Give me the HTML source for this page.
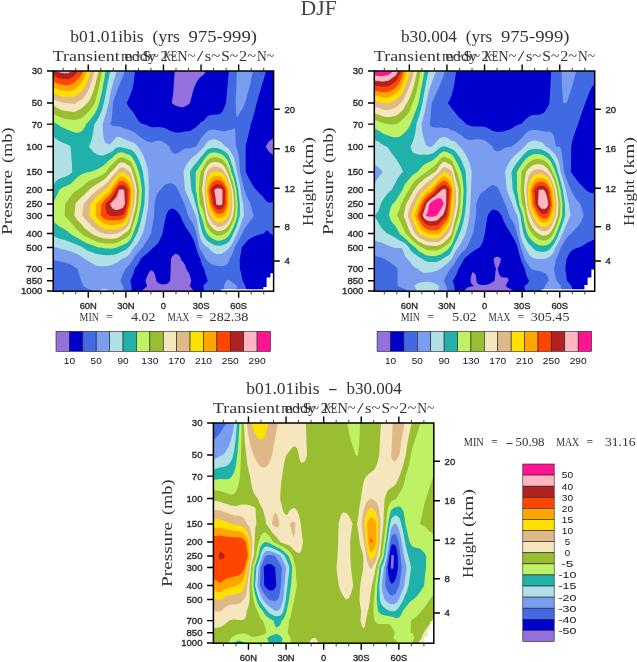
<!DOCTYPE html>
<html lang="en"><head><meta charset="utf-8"><title>DJF Transient eddy KE</title>
<style>html,body{margin:0;padding:0;background:#fff}body{width:637px;height:662px;overflow:hidden}svg{display:block}text{white-space:pre}</style></head><body>
<svg width="637" height="662" viewBox="0 0 637 662">
<rect width="637" height="662" fill="#fff"/>
<text y="14.80" font-size="21" font-family='"Liberation Serif", serif' fill="#444"><tspan x="300.60" textLength="36.20" lengthAdjust="spacingAndGlyphs">DJF</tspan></text>
<g transform="translate(53.2,71.0)">
<rect x="0" y="0" width="220.4" height="220.0" fill="#9370DB"/>
<path d="M1.2 0.0L2.3 0.0L3.5 0.0L4.7 0.0L5.8 0.0L7.0 0.0L8.2 0.0L9.3 0.0L10.5 0.0L11.7 0.0L12.8 0.0L14.0 0.0L15.2 0.0L16.3 0.0L17.5 0.0L18.7 0.0L19.8 0.0L21.0 0.0L22.2 0.0L23.3 0.0L24.5 0.0L25.7 0.0L26.8 0.0L28.0 0.0L29.2 0.0L30.3 0.0L31.5 0.0L32.7 0.0L33.8 0.0L35.0 0.0L36.2 0.0L37.3 0.0L38.5 0.0L39.6 0.0L40.8 0.0L42.0 0.0L43.1 0.0L44.3 0.0L45.5 0.0L46.6 0.0L47.8 0.0L49.0 0.0L50.1 0.0L51.3 0.0L52.5 0.0L53.6 0.0L54.8 0.0L56.0 0.0L57.1 0.0L58.3 0.0L59.5 0.0L60.6 0.0L61.8 0.0L63.0 0.0L64.1 0.0L65.3 0.0L66.5 0.0L67.6 0.0L68.8 0.0L70.0 0.0L71.1 0.0L72.3 0.0L73.5 0.0L74.6 0.0L75.8 0.0L77.0 0.0L78.1 0.0L79.3 0.0L80.5 0.0L81.6 0.0L82.8 0.0L84.0 0.0L85.1 0.0L86.3 0.0L87.5 0.0L88.6 0.0L89.8 0.0L91.0 0.0L92.1 0.0L93.3 0.0L94.5 0.0L95.6 0.0L96.8 0.0L98.0 0.0L99.1 0.0L100.3 0.0L101.5 0.0L102.6 0.0L103.8 0.0L105.0 0.0L106.1 0.0L107.3 0.0L108.5 0.0L109.6 0.0L110.8 0.0L111.9 0.0L113.1 0.0L114.3 0.0L115.4 0.0L116.6 0.0L117.8 0.0L118.9 0.0L120.1 0.0L121.3 0.0L121.4 0.0L121.3 3.1L120.1 21.0L118.9 29.9L118.6 32.0L118.9 32.3L120.1 33.2L121.3 34.0L122.4 34.6L123.6 35.0L124.8 35.4L125.9 35.7L127.1 36.0L128.3 36.2L129.4 36.3L130.6 36.0L131.8 35.4L132.9 34.8L134.1 34.2L135.3 33.4L136.4 32.4L136.7 32.0L137.6 29.0L138.8 24.3L139.9 20.1L141.1 16.6L142.3 13.6L143.4 11.3L144.6 9.3L145.8 7.7L146.9 6.5L148.1 5.6L149.3 4.8L150.4 3.8L151.6 2.1L152.6 0.0L152.8 0.0L153.9 0.0L155.1 0.0L156.3 0.0L157.4 0.0L158.6 0.0L159.8 0.0L160.9 0.0L162.1 0.0L163.3 0.0L164.4 0.0L165.6 0.0L166.8 0.0L167.9 0.0L169.1 0.0L170.3 0.0L171.4 0.0L172.6 0.0L173.8 0.0L174.9 0.0L176.1 0.0L177.3 0.0L178.4 0.0L179.6 0.0L180.8 0.0L181.9 0.0L183.1 0.0L184.2 0.0L185.4 0.0L186.6 0.0L187.7 0.0L188.9 0.0L190.1 0.0L191.2 0.0L192.4 0.0L193.6 0.0L194.7 0.0L195.9 0.0L197.1 0.0L198.2 0.0L199.4 0.0L200.6 0.0L201.7 0.0L202.9 0.0L204.1 0.0L205.2 0.0L206.4 0.0L207.6 0.0L208.7 0.0L209.9 0.0L211.1 0.0L212.2 0.0L213.4 0.0L214.6 0.0L215.7 0.0L216.9 0.0L218.1 0.0L219.2 0.0L220.4 0.0L220.4 32.0L220.4 53.2L220.4 67.6L219.2 68.0L218.1 68.7L216.9 69.4L215.7 70.5L214.6 72.1L213.4 73.9L212.5 75.5L213.4 77.2L214.6 78.9L215.7 80.5L216.9 81.7L218.1 82.6L219.2 83.6L220.4 84.5L220.4 101.0L220.4 119.0L220.4 133.0L220.4 144.5L220.4 162.5L220.4 176.5L220.4 188.0L220.4 197.6L220.4 209.8L220.4 215.1L220.4 219.3L219.2 219.6L218.3 220.0L218.1 220.0L216.9 220.0L215.7 220.0L214.6 220.0L213.4 220.0L212.2 220.0L211.1 220.0L209.9 220.0L208.7 220.0L207.6 220.0L206.4 220.0L205.2 220.0L204.1 220.0L202.9 220.0L201.7 220.0L200.6 220.0L199.4 220.0L198.2 220.0L197.1 220.0L195.9 220.0L194.7 220.0L193.6 220.0L192.4 220.0L191.2 220.0L190.1 220.0L188.9 220.0L187.7 220.0L186.6 220.0L185.4 220.0L184.2 220.0L183.1 220.0L181.9 220.0L180.8 220.0L179.6 220.0L178.4 220.0L177.3 220.0L176.1 220.0L174.9 220.0L173.8 220.0L172.6 220.0L171.4 220.0L170.3 220.0L169.1 220.0L167.9 220.0L166.8 220.0L165.6 220.0L164.4 220.0L163.3 220.0L162.1 220.0L160.9 220.0L159.8 220.0L158.6 220.0L157.4 220.0L156.3 220.0L155.1 220.0L153.9 220.0L152.8 220.0L151.6 220.0L150.4 220.0L149.3 220.0L148.1 220.0L146.9 220.0L145.8 220.0L144.6 220.0L143.4 220.0L142.3 220.0L141.1 220.0L140.1 220.0L139.9 219.6L138.8 217.7L137.6 216.3L136.5 215.1L137.6 211.9L138.1 209.8L137.6 207.6L136.4 203.7L135.3 201.2L134.1 199.4L132.9 197.7L132.9 197.6L131.8 193.8L130.6 191.8L129.4 190.7L128.3 189.2L127.6 188.0L127.1 186.5L125.9 184.6L124.8 183.7L123.6 183.0L122.4 182.8L121.3 183.3L120.1 184.2L118.9 185.6L117.8 187.8L117.7 188.0L117.5 197.6L116.9 209.8L116.6 210.3L115.4 211.6L114.3 212.4L113.1 213.0L111.9 213.2L110.8 213.3L109.6 213.2L108.5 213.2L107.3 212.9L106.1 212.4L105.0 211.7L103.8 210.7L103.1 209.8L102.6 207.2L101.5 203.0L100.3 200.8L99.1 199.7L98.0 199.3L96.8 200.0L95.6 201.7L94.5 204.0L93.3 206.8L92.3 209.8L93.3 213.2L93.9 215.1L93.3 215.7L92.1 216.7L91.0 217.7L89.8 218.8L88.7 220.0L88.6 220.0L87.5 220.0L86.3 220.0L85.1 220.0L84.0 220.0L82.8 220.0L81.6 220.0L80.5 220.0L79.3 220.0L78.1 220.0L77.0 220.0L75.8 220.0L74.6 220.0L73.5 220.0L72.3 220.0L71.1 220.0L70.0 220.0L68.8 220.0L67.6 220.0L66.5 220.0L65.3 220.0L64.1 220.0L63.0 220.0L61.8 220.0L60.6 220.0L59.5 220.0L58.3 220.0L57.1 220.0L56.0 220.0L54.8 220.0L53.6 220.0L52.5 220.0L51.3 220.0L50.1 220.0L49.0 220.0L47.8 220.0L46.6 220.0L45.5 220.0L44.3 220.0L43.1 220.0L42.0 220.0L40.8 220.0L39.6 220.0L38.5 220.0L37.3 220.0L36.2 220.0L35.0 220.0L33.8 220.0L32.7 220.0L31.5 220.0L30.3 220.0L29.2 220.0L28.0 220.0L26.8 220.0L25.7 220.0L24.5 220.0L23.3 220.0L22.2 220.0L21.0 220.0L19.8 220.0L18.7 220.0L17.5 220.0L16.3 220.0L15.2 220.0L14.0 220.0L12.8 220.0L11.7 220.0L10.5 220.0L9.3 220.0L8.2 220.0L7.0 220.0L5.8 220.0L4.7 220.0L3.5 220.0L2.3 220.0L1.2 220.0L0.0 220.0L0.0 215.1L0.0 209.8L0.0 197.6L0.0 188.0L0.0 176.5L0.0 162.5L0.0 144.5L0.0 133.0L0.0 119.0L0.0 101.0L0.0 75.5L0.0 53.2L0.0 32.0L0.0 0.0Z" fill="#0000CD" fill-rule="evenodd"/>
<path d="M1.2 0.0L2.3 0.0L3.5 0.0L4.7 0.0L5.8 0.0L7.0 0.0L8.2 0.0L9.3 0.0L10.5 0.0L11.7 0.0L12.8 0.0L14.0 0.0L15.2 0.0L16.3 0.0L17.5 0.0L18.7 0.0L19.8 0.0L21.0 0.0L22.2 0.0L23.3 0.0L24.5 0.0L25.7 0.0L26.8 0.0L28.0 0.0L29.2 0.0L30.3 0.0L31.5 0.0L32.7 0.0L33.8 0.0L35.0 0.0L36.2 0.0L37.3 0.0L38.5 0.0L39.6 0.0L40.8 0.0L42.0 0.0L43.1 0.0L44.3 0.0L45.5 0.0L46.6 0.0L47.8 0.0L49.0 0.0L50.1 0.0L51.3 0.0L52.5 0.0L53.6 0.0L54.8 0.0L56.0 0.0L57.1 0.0L58.3 0.0L59.5 0.0L60.6 0.0L61.8 0.0L63.0 0.0L64.1 0.0L65.3 0.0L66.5 0.0L67.6 0.0L68.8 0.0L70.0 0.0L71.1 0.0L72.3 0.0L73.5 0.0L74.6 0.0L75.8 0.0L77.0 0.0L78.1 0.0L79.3 0.0L80.5 0.0L81.6 0.0L81.8 0.0L81.6 2.1L80.5 12.0L79.3 17.7L78.1 21.4L77.0 24.2L75.8 27.0L74.6 29.8L73.5 32.0L73.4 32.0L73.5 32.1L74.6 34.1L75.8 36.2L77.0 37.7L78.1 39.0L79.3 40.3L80.5 41.9L81.6 43.7L82.8 45.8L84.0 47.8L85.1 49.6L86.3 51.0L87.5 52.0L88.6 52.5L89.8 52.8L90.6 53.2L91.0 53.2L92.1 53.6L93.3 54.1L94.5 54.6L95.6 55.2L96.8 55.7L98.0 56.1L99.1 56.2L100.3 56.3L101.5 56.3L102.6 56.2L103.8 56.1L105.0 56.1L106.1 56.1L107.3 56.2L108.5 56.3L109.6 56.5L110.8 56.8L111.9 57.2L113.1 57.7L114.3 58.3L115.4 58.9L116.6 59.5L117.8 60.0L118.9 60.5L120.1 60.9L121.3 61.3L122.4 61.5L123.6 61.5L124.8 61.6L125.9 61.6L127.1 61.5L128.3 61.3L129.4 61.1L130.6 60.8L131.8 60.6L132.9 60.3L134.1 60.2L135.3 60.2L136.4 60.0L137.6 59.5L138.8 58.8L139.9 58.1L141.1 57.3L142.3 56.5L143.4 55.6L144.6 54.5L145.8 53.3L146.0 53.2L146.9 51.7L148.1 50.8L149.3 50.4L150.4 49.7L151.6 48.4L152.8 46.8L153.9 45.7L155.1 44.9L156.3 44.3L157.4 43.9L158.6 43.8L159.8 43.7L160.9 43.5L162.1 43.5L163.3 43.6L164.4 43.5L165.6 43.2L166.8 42.7L167.9 42.0L169.1 40.7L170.3 38.6L171.4 35.9L172.6 32.3L172.7 32.0L173.8 20.1L174.9 8.5L175.7 0.0L176.1 0.0L177.3 0.0L178.4 0.0L179.6 0.0L180.8 0.0L181.9 0.0L183.1 0.0L184.2 0.0L185.4 0.0L186.6 0.0L187.7 0.0L188.9 0.0L190.1 0.0L191.2 0.0L192.4 0.0L193.6 0.0L194.7 0.0L195.9 0.0L197.1 0.0L198.2 0.0L199.4 0.0L200.6 0.0L201.7 0.0L202.9 0.0L204.1 0.0L205.2 0.0L206.4 0.0L207.6 0.0L208.7 0.0L209.9 0.0L211.1 0.0L212.2 0.0L212.7 0.0L212.2 2.0L211.1 6.3L209.9 10.4L208.7 14.3L207.6 18.2L206.4 21.9L205.2 25.8L204.1 30.0L203.5 32.0L202.9 34.6L201.7 39.5L200.6 44.0L199.4 48.0L198.2 51.5L197.6 53.2L197.1 55.9L195.9 61.1L194.7 65.9L193.6 70.4L192.4 75.3L192.4 75.5L192.4 80.4L192.6 101.0L193.6 103.1L194.7 105.5L195.9 107.7L197.1 109.9L198.2 112.1L199.4 114.1L200.6 115.8L201.7 117.3L202.9 118.7L203.2 119.0L204.1 119.9L205.2 121.0L206.4 122.2L207.6 123.4L208.7 124.7L209.9 126.0L211.1 127.6L212.2 129.1L213.4 130.3L214.6 130.9L215.7 131.4L216.9 131.6L218.1 131.5L219.2 131.0L220.4 130.3L220.4 133.0L220.4 144.5L220.4 162.5L220.4 165.0L219.2 164.0L218.1 163.1L216.9 162.5L216.8 162.5L215.7 160.4L214.6 159.6L213.4 159.7L212.2 160.6L211.1 161.9L210.5 162.5L209.9 162.7L208.7 163.0L207.6 163.3L206.4 163.6L205.2 164.0L204.1 164.3L202.9 164.7L201.7 165.2L200.6 165.7L199.4 166.3L198.2 166.9L197.1 167.6L195.9 168.3L194.7 169.3L193.6 170.5L192.4 171.8L191.2 173.2L190.1 174.7L188.9 176.1L188.5 176.5L187.7 181.9L186.6 187.9L186.6 188.0L186.6 189.2L186.7 197.6L187.7 201.7L188.9 207.2L189.4 209.8L190.1 210.7L191.2 212.9L192.0 215.1L192.4 216.2L193.6 218.6L194.5 220.0L193.6 220.0L192.4 220.0L191.2 220.0L190.1 220.0L188.9 220.0L187.7 220.0L186.6 220.0L185.4 220.0L184.2 220.0L183.1 220.0L181.9 220.0L180.8 220.0L179.6 220.0L178.4 220.0L177.3 220.0L176.1 220.0L174.9 220.0L173.8 220.0L172.6 220.0L171.4 220.0L170.3 220.0L169.1 220.0L167.9 220.0L166.8 220.0L165.6 220.0L164.4 220.0L163.3 220.0L162.1 220.0L160.9 220.0L159.8 220.0L158.6 220.0L157.4 220.0L156.3 220.0L155.1 220.0L153.9 220.0L152.8 220.0L151.6 220.0L151.1 220.0L150.4 217.4L150.1 215.1L150.4 214.6L151.6 213.3L152.8 212.1L153.9 210.7L154.6 209.8L153.9 208.0L152.8 204.6L151.6 200.5L150.9 197.6L150.4 197.0L149.3 195.0L148.1 191.8L147.2 188.0L146.9 187.5L145.8 185.3L144.6 182.3L143.4 178.6L142.8 176.5L142.3 174.5L141.1 170.9L139.9 168.0L138.8 165.8L137.6 163.8L136.8 162.5L136.4 162.0L135.3 160.4L134.1 158.6L132.9 156.8L131.8 154.9L130.6 152.6L129.4 150.2L128.3 147.7L127.1 144.8L127.0 144.5L125.9 142.9L124.8 141.4L123.6 140.0L122.4 139.1L121.3 138.4L120.1 137.7L118.9 137.5L117.8 137.7L116.6 138.5L115.4 139.6L114.3 141.3L113.1 143.9L112.9 144.5L111.9 148.9L110.8 154.7L109.6 161.0L109.4 162.5L108.5 164.8L107.3 167.6L106.1 170.0L105.0 171.9L103.8 173.2L102.6 174.4L101.5 175.4L100.3 176.4L100.2 176.5L99.1 177.5L98.0 178.7L96.8 179.8L95.6 181.0L94.5 182.0L93.3 182.9L92.1 183.8L91.0 184.7L89.8 185.7L88.6 186.8L87.5 188.0L87.5 188.1L86.3 190.5L85.1 192.6L84.0 194.4L82.8 196.1L81.7 197.6L81.6 197.8L80.5 201.5L79.3 204.9L78.1 207.7L77.1 209.8L78.1 215.1L78.1 215.5L78.7 220.0L78.1 220.0L77.0 220.0L75.8 220.0L74.6 220.0L73.5 220.0L72.3 220.0L71.1 220.0L70.0 220.0L68.8 220.0L67.6 220.0L66.5 220.0L65.3 220.0L64.1 220.0L63.0 220.0L61.8 220.0L60.6 220.0L59.5 220.0L58.3 220.0L57.1 220.0L56.0 220.0L54.8 220.0L53.6 220.0L52.5 220.0L51.3 220.0L50.1 220.0L49.0 220.0L47.8 220.0L46.6 220.0L45.5 220.0L44.3 220.0L43.1 220.0L42.0 220.0L40.8 220.0L39.6 220.0L38.5 220.0L37.3 220.0L36.2 220.0L35.0 220.0L33.8 220.0L32.7 220.0L31.5 220.0L30.3 220.0L29.2 220.0L28.0 220.0L26.8 220.0L25.7 220.0L24.5 220.0L23.3 220.0L22.2 220.0L21.0 220.0L19.8 220.0L18.7 220.0L17.5 220.0L16.3 220.0L15.2 220.0L14.0 220.0L12.8 220.0L11.7 220.0L10.5 220.0L9.3 220.0L8.2 220.0L7.0 220.0L5.8 220.0L4.7 220.0L3.5 220.0L2.3 220.0L1.2 220.0L0.0 220.0L0.0 215.1L0.0 209.8L0.0 197.6L0.0 188.0L0.0 176.5L0.0 162.5L0.0 144.5L0.0 133.0L0.0 119.0L0.0 101.0L0.0 75.5L0.0 53.2L0.0 32.0L0.0 0.0Z" fill="#4169E1" fill-rule="evenodd"/>
<path d="M1.2 0.0L2.3 0.0L3.5 0.0L4.7 0.0L5.8 0.0L7.0 0.0L8.2 0.0L9.3 0.0L10.5 0.0L11.7 0.0L12.8 0.0L14.0 0.0L15.2 0.0L16.3 0.0L17.5 0.0L18.7 0.0L19.8 0.0L21.0 0.0L22.2 0.0L23.3 0.0L24.5 0.0L25.7 0.0L26.8 0.0L28.0 0.0L29.2 0.0L30.3 0.0L31.5 0.0L32.7 0.0L33.8 0.0L35.0 0.0L36.2 0.0L37.3 0.0L38.5 0.0L39.6 0.0L40.8 0.0L42.0 0.0L43.1 0.0L44.3 0.0L45.5 0.0L46.6 0.0L47.8 0.0L49.0 0.0L50.1 0.0L51.3 0.0L52.5 0.0L53.6 0.0L54.8 0.0L56.0 0.0L57.1 0.0L58.3 0.0L59.5 0.0L60.6 0.0L61.8 0.0L63.0 0.0L64.1 0.0L65.3 0.0L66.5 0.0L67.6 0.0L68.8 0.0L70.0 0.0L71.1 0.0L71.7 0.0L71.1 1.6L70.0 4.8L68.8 7.8L67.6 10.5L66.5 13.2L65.3 16.1L64.1 19.1L63.0 22.1L61.8 25.3L60.6 28.8L59.7 32.0L59.5 37.2L58.3 49.6L57.3 53.2L58.3 54.2L59.5 54.8L60.6 55.0L61.8 55.0L63.0 55.1L64.1 55.2L65.3 55.4L66.5 55.6L67.6 55.9L68.8 56.5L70.0 56.9L71.1 57.4L72.3 57.8L73.5 58.2L74.6 58.6L75.8 58.9L77.0 59.3L78.1 59.8L79.3 60.4L80.5 61.0L81.6 61.7L82.8 62.6L84.0 63.4L85.1 64.3L86.3 65.3L87.5 66.3L88.6 67.0L89.8 67.7L91.0 68.4L92.1 69.2L93.3 69.9L94.5 70.5L95.6 70.9L96.8 71.3L98.0 71.5L99.1 71.2L100.3 70.7L101.5 70.2L102.6 70.0L103.8 69.8L105.0 69.7L106.1 69.8L107.3 69.9L108.5 70.2L109.6 70.6L110.8 71.4L111.9 72.2L113.1 73.1L114.3 74.1L115.4 75.1L116.2 75.5L116.6 76.9L117.8 79.5L118.9 81.1L120.1 82.1L121.3 82.8L122.4 82.8L123.6 82.5L124.8 82.1L125.9 81.5L127.1 80.6L128.3 79.6L129.4 78.7L130.6 78.0L131.8 77.4L132.9 77.0L134.1 77.2L135.3 77.5L136.4 77.6L137.6 77.3L138.8 76.8L139.9 76.4L141.1 76.0L142.3 75.6L142.4 75.5L143.4 74.5L144.6 72.8L145.8 70.7L146.9 68.7L148.1 67.1L149.3 65.6L150.4 64.3L151.6 62.9L152.8 61.5L153.9 60.5L155.1 59.7L156.3 59.1L157.4 58.8L158.6 58.7L159.8 58.6L160.9 58.6L162.1 58.7L163.3 59.0L164.4 59.2L165.6 59.4L166.8 59.7L167.9 60.0L169.1 60.2L170.3 60.3L171.4 60.3L172.6 60.1L173.8 59.7L174.9 59.2L176.1 59.0L177.3 58.9L178.4 58.8L179.6 58.2L180.8 57.1L181.9 58.0L182.8 75.5L183.1 76.0L184.2 78.7L185.4 84.0L186.6 95.7L186.9 101.0L187.7 104.8L188.9 109.7L190.1 114.2L191.2 118.9L191.3 119.0L192.4 122.5L193.6 125.3L194.7 127.7L195.9 130.0L197.1 132.6L197.3 133.0L198.2 136.9L199.4 140.9L200.5 144.5L199.4 146.5L198.2 148.3L197.1 149.9L195.9 151.4L194.7 152.9L193.6 154.4L192.4 156.1L191.2 158.1L190.1 160.4L189.1 162.5L188.9 162.9L187.7 165.2L186.6 167.4L185.4 169.4L184.2 171.4L183.1 173.4L181.9 175.4L181.3 176.5L180.8 178.6L179.6 182.1L178.4 184.5L177.3 186.5L176.4 188.0L176.1 189.3L174.9 192.1L173.8 193.4L172.6 194.2L171.4 194.6L170.3 194.9L169.1 195.1L167.9 195.2L166.8 195.2L165.6 195.1L164.4 194.9L163.3 194.7L162.1 194.5L160.9 194.1L159.8 193.7L158.6 193.2L157.4 192.5L156.3 191.8L155.1 190.8L153.9 189.6L152.8 188.1L152.7 188.0L151.6 185.9L150.4 183.8L149.3 181.9L148.1 180.1L146.9 178.4L146.1 176.5L145.8 175.2L144.6 169.2L143.4 163.7L143.1 162.5L142.3 159.2L141.1 155.5L139.9 152.7L138.8 150.7L137.6 149.2L136.4 147.6L135.3 145.6L134.8 144.5L134.1 142.3L132.9 138.3L131.8 134.4L131.3 133.0L130.6 131.4L129.4 129.0L128.3 126.5L127.1 123.7L125.9 121.2L124.8 119.1L124.7 119.0L123.6 116.5L122.4 114.8L121.3 113.8L120.1 112.9L118.9 112.4L117.8 112.3L116.6 112.3L115.4 112.4L114.3 112.7L113.1 113.2L111.9 113.8L110.8 114.7L109.6 115.8L108.5 117.2L107.3 118.9L107.2 119.0L106.1 120.0L105.0 121.4L103.8 123.5L102.6 126.7L101.5 131.9L101.3 133.0L100.9 144.5L100.3 148.4L99.1 155.1L98.0 161.7L97.8 162.5L96.8 164.2L95.6 166.4L94.5 168.4L93.3 170.2L92.1 172.0L91.0 173.8L89.8 175.7L89.3 176.5L88.6 177.3L87.5 178.6L86.3 179.9L85.1 181.3L84.0 182.7L82.8 184.1L81.6 185.6L80.5 187.3L80.0 188.0L79.3 189.1L78.1 191.1L77.0 192.8L75.8 194.3L74.6 195.6L73.5 196.8L72.5 197.6L72.3 198.0L71.1 200.0L70.0 202.4L68.8 205.5L67.6 208.9L67.4 209.8L67.6 210.5L68.8 213.3L69.5 215.1L70.0 216.7L70.9 220.0L70.0 220.0L68.8 220.0L67.6 220.0L66.5 220.0L65.3 220.0L64.1 220.0L63.0 220.0L61.8 220.0L60.6 220.0L59.5 220.0L58.3 220.0L57.1 220.0L56.0 220.0L54.8 220.0L53.6 220.0L52.5 220.0L51.3 220.0L50.1 220.0L49.0 220.0L47.8 220.0L46.6 220.0L45.5 220.0L44.3 220.0L43.1 220.0L42.0 220.0L40.8 220.0L39.6 220.0L39.3 220.0L38.5 219.4L37.3 218.8L36.2 218.3L35.0 217.9L33.8 217.4L32.7 216.8L31.5 216.1L30.3 215.2L30.1 215.1L29.2 212.5L28.0 210.1L27.8 209.8L26.8 206.4L25.7 202.5L24.5 198.9L24.0 197.6L23.3 197.2L22.2 196.5L21.0 195.7L19.8 195.0L18.7 194.3L17.5 193.7L16.3 193.1L15.2 192.6L14.0 192.2L12.8 191.9L11.7 191.6L10.5 191.3L9.3 191.1L8.2 190.8L7.0 190.6L5.8 190.3L4.7 190.1L3.5 189.8L2.3 189.5L1.2 189.2L0.0 188.8L0.0 188.0L0.0 176.5L0.0 162.5L0.0 144.5L0.0 133.0L0.0 119.0L0.0 101.0L0.0 75.5L0.0 53.2L0.0 32.0L0.0 0.0ZM183.1 17.9L183.6 0.0L184.2 0.0L185.4 0.0L186.6 0.0L187.7 0.0L188.9 0.0L190.1 0.0L191.2 0.0L192.4 0.0L193.6 0.0L194.7 0.0L195.9 0.0L197.1 0.0L198.2 0.0L199.4 0.0L199.9 0.0L199.4 2.2L198.2 7.6L197.1 12.8L195.9 17.3L194.7 21.6L193.6 25.8L192.4 29.7L191.8 32.0L191.2 33.4L190.1 36.4L188.9 38.4L187.7 39.9L186.6 42.1L185.4 44.6L184.2 46.0L183.1 44.9L182.4 32.0ZM173.8 209.1L174.9 208.6L176.1 209.2L176.7 209.8L177.3 210.1L178.4 210.8L179.6 211.7L180.8 212.6L181.9 213.4L183.1 214.2L184.0 215.1L183.1 217.7L181.9 219.4L181.4 220.0L180.8 220.0L179.6 220.0L178.4 220.0L177.3 220.0L176.1 220.0L174.9 220.0L173.8 220.0L172.6 220.0L171.4 220.0L171.2 220.0L170.7 215.1L171.4 213.2L172.6 210.7L173.2 209.8Z" fill="#7B9DF0" fill-rule="evenodd"/>
<path d="M1.2 0.0L2.3 0.0L3.5 0.0L4.7 0.0L5.8 0.0L7.0 0.0L8.2 0.0L9.3 0.0L10.5 0.0L11.7 0.0L12.8 0.0L14.0 0.0L15.2 0.0L16.3 0.0L17.5 0.0L18.7 0.0L19.8 0.0L21.0 0.0L22.2 0.0L23.3 0.0L24.5 0.0L25.7 0.0L26.8 0.0L28.0 0.0L29.2 0.0L30.3 0.0L31.5 0.0L32.7 0.0L33.8 0.0L35.0 0.0L36.2 0.0L37.3 0.0L38.5 0.0L39.6 0.0L40.8 0.0L42.0 0.0L43.1 0.0L44.3 0.0L45.5 0.0L46.6 0.0L47.8 0.0L49.0 0.0L50.1 0.0L51.3 0.0L52.5 0.0L53.6 0.0L54.8 0.0L56.0 0.0L57.1 0.0L58.3 0.0L59.5 0.0L60.6 0.0L61.8 0.0L63.0 0.0L63.5 0.0L63.0 1.7L61.8 5.7L60.6 9.7L59.5 13.6L58.3 17.7L57.1 23.0L56.0 29.3L55.4 32.0L54.8 35.0L53.6 39.5L52.5 43.4L51.3 47.2L50.1 50.8L49.3 53.2L50.1 64.2L51.3 70.1L52.5 72.1L53.6 72.7L54.8 73.1L56.0 73.3L57.1 72.8L58.3 71.7L59.5 70.6L60.6 68.9L61.8 67.3L63.0 66.4L64.1 66.2L65.3 66.1L66.5 66.1L67.6 66.4L68.8 66.9L70.0 67.5L71.1 68.0L72.3 68.5L73.5 69.1L74.6 69.5L75.8 70.0L77.0 70.4L78.1 70.8L79.3 71.2L80.5 71.7L81.6 72.5L82.8 73.6L84.0 74.9L84.5 75.5L85.1 76.3L86.3 78.0L87.5 79.8L88.6 81.7L89.8 83.9L91.0 86.5L92.1 89.7L93.3 93.7L94.5 98.4L95.0 101.0L95.6 118.8L95.6 119.0L95.6 119.1L95.1 133.0L94.5 138.0L93.5 144.5L93.3 146.0L92.1 152.4L91.0 157.2L89.8 161.1L89.3 162.5L88.6 163.9L87.5 166.2L86.3 168.6L85.1 170.8L84.0 172.7L82.8 174.1L81.6 175.3L80.5 176.5L80.4 176.5L79.3 178.5L78.1 180.6L77.0 182.3L75.8 183.7L74.6 184.9L73.5 185.7L72.3 186.2L71.1 186.7L70.0 187.2L68.8 187.8L68.4 188.0L67.6 188.6L66.5 189.6L65.3 190.4L64.1 191.2L63.0 191.9L61.8 192.5L60.6 193.1L59.5 193.5L58.3 193.9L57.1 194.2L56.0 194.5L54.8 194.7L53.6 194.9L52.5 195.1L51.3 195.2L50.1 195.3L49.0 195.3L47.8 195.2L46.6 195.1L45.5 195.0L44.3 194.7L43.1 194.4L42.0 193.9L40.8 193.4L39.6 192.7L38.5 192.0L37.3 191.4L36.2 190.7L35.0 190.1L33.8 189.3L32.7 188.4L32.1 188.0L31.5 187.7L30.3 187.0L29.2 186.3L28.0 185.5L26.8 184.7L25.7 184.0L24.5 183.3L23.3 182.7L22.2 182.2L21.0 181.7L19.8 181.3L18.7 180.9L17.5 180.5L16.3 180.1L15.2 179.8L14.0 179.5L12.8 179.1L11.7 178.8L10.5 178.5L9.3 178.2L8.2 177.9L7.0 177.6L5.8 177.2L4.7 176.9L3.5 176.6L3.4 176.5L2.3 176.3L1.2 175.9L0.0 175.6L0.0 162.5L0.0 144.5L0.0 133.0L0.0 119.0L0.0 101.0L0.0 75.5L0.0 53.2L0.0 32.0L0.0 0.0ZM151.6 74.7L152.8 72.7L153.9 71.2L155.1 70.2L156.3 69.4L157.4 68.9L158.6 68.6L159.8 68.4L160.9 68.3L162.1 68.5L163.3 68.9L164.4 69.3L165.6 69.8L166.8 70.5L167.9 71.3L169.1 72.3L170.3 73.4L171.4 74.7L172.2 75.5L172.6 75.7L173.8 76.3L174.9 77.0L176.1 78.4L177.3 80.3L178.4 82.5L179.6 84.6L180.8 87.1L181.9 90.7L183.1 96.3L183.7 101.0L184.2 103.0L185.4 108.1L186.6 113.9L187.5 119.0L187.7 120.8L188.9 128.0L190.0 133.0L190.1 134.8L190.9 144.5L190.1 146.2L188.9 149.1L187.7 152.5L186.6 156.0L185.4 159.0L184.2 161.7L183.8 162.5L183.1 164.1L181.9 166.5L180.8 169.1L179.6 171.5L178.4 173.6L177.3 175.2L176.1 176.5L176.1 176.6L174.9 178.2L173.8 179.3L172.6 180.1L171.4 180.9L170.3 181.8L169.1 182.5L167.9 182.9L166.8 183.1L165.6 183.2L164.4 183.2L163.3 183.1L162.1 182.7L160.9 182.2L159.8 181.5L158.6 180.5L157.4 179.2L156.3 178.0L155.1 176.8L154.8 176.5L153.9 176.1L152.8 175.3L151.6 174.4L150.4 173.1L149.3 171.6L148.1 169.5L146.9 166.2L146.1 162.5L145.8 161.0L144.6 154.2L143.4 147.5L142.6 144.5L142.3 143.6L141.1 141.0L139.9 138.3L138.8 135.5L137.9 133.0L137.6 132.3L136.4 129.4L135.3 126.7L134.1 124.2L132.9 121.6L131.8 119.0L131.8 118.2L130.6 105.1L130.1 101.0L130.6 99.7L131.8 96.7L132.9 94.3L134.1 92.4L135.3 90.9L136.4 89.6L137.6 88.2L138.8 87.0L139.9 85.9L141.1 85.0L142.3 84.2L143.4 83.3L144.6 82.2L145.8 81.0L146.9 79.8L148.1 78.6L149.3 77.4L150.4 76.2L151.1 75.5ZM47.8 218.5L49.0 217.9L50.1 217.9L51.3 218.0L52.5 218.0L53.6 218.4L54.8 219.0L56.0 219.9L56.1 220.0L56.0 220.0L54.8 220.0L53.6 220.0L52.5 220.0L51.3 220.0L50.1 220.0L49.0 220.0L47.8 220.0L47.0 220.0Z" fill="#B0E0E6" fill-rule="evenodd"/>
<path d="M1.2 0.0L2.3 0.0L3.5 0.0L4.7 0.0L5.8 0.0L7.0 0.0L8.2 0.0L9.3 0.0L10.5 0.0L11.7 0.0L12.8 0.0L14.0 0.0L15.2 0.0L16.3 0.0L17.5 0.0L18.7 0.0L19.8 0.0L21.0 0.0L22.2 0.0L23.3 0.0L24.5 0.0L25.7 0.0L26.8 0.0L28.0 0.0L29.2 0.0L30.3 0.0L31.5 0.0L32.7 0.0L33.8 0.0L35.0 0.0L36.2 0.0L37.3 0.0L38.5 0.0L39.6 0.0L40.8 0.0L42.0 0.0L43.1 0.0L44.3 0.0L45.5 0.0L46.6 0.0L47.8 0.0L49.0 0.0L50.1 0.0L51.3 0.0L52.5 0.0L53.6 0.0L54.8 0.0L56.0 0.0L57.1 0.0L57.4 0.0L57.1 0.6L56.0 4.9L54.8 10.6L53.6 16.7L52.5 22.8L51.3 28.9L50.7 32.0L50.1 34.1L49.0 38.1L47.8 41.3L46.6 44.0L45.5 46.4L44.3 48.6L43.1 50.4L42.0 52.1L41.1 53.2L40.8 55.7L39.6 63.0L38.5 68.2L37.3 71.9L36.2 74.7L35.7 75.5L36.2 76.2L37.3 77.8L38.5 79.1L39.6 80.3L40.8 81.4L42.0 82.2L43.1 83.0L44.3 83.5L45.5 84.0L46.6 84.3L47.8 84.5L49.0 84.5L50.1 84.4L51.3 84.1L52.5 83.6L53.6 83.1L54.8 82.5L56.0 82.0L57.1 81.4L58.3 80.7L59.5 80.0L60.6 78.9L61.8 77.6L63.0 76.8L64.1 76.4L65.3 76.2L66.5 76.1L67.6 76.2L68.8 76.4L70.0 76.7L71.1 77.0L72.3 77.3L73.5 77.6L74.6 78.0L75.8 78.3L77.0 78.6L78.1 79.1L79.3 79.8L80.5 80.8L81.6 82.0L82.8 83.7L84.0 85.6L85.1 87.9L86.3 90.6L87.5 93.6L88.6 97.2L89.6 101.0L89.8 101.9L91.0 110.6L91.8 119.0L91.2 133.0L91.0 134.2L89.8 140.4L88.9 144.5L88.6 145.7L87.5 150.7L86.3 155.3L85.1 159.1L84.0 162.2L83.8 162.5L82.8 164.6L81.6 166.7L80.5 168.7L79.3 170.9L78.1 173.0L77.0 174.5L75.8 175.7L75.0 176.5L74.6 177.1L73.5 178.2L72.3 178.9L71.1 179.4L70.0 179.9L68.8 180.5L67.6 181.1L66.5 181.7L65.3 182.3L64.1 182.8L63.0 183.2L61.8 183.5L60.6 183.7L59.5 183.9L58.3 184.0L57.1 184.2L56.0 184.2L54.8 184.2L53.6 184.2L52.5 184.2L51.3 184.1L50.1 183.9L49.0 183.7L47.8 183.5L46.6 183.4L45.5 183.3L44.3 183.1L43.1 182.8L42.0 182.4L40.8 182.0L39.6 181.6L38.5 181.1L37.3 180.7L36.2 180.3L35.0 179.9L33.8 179.3L32.7 178.6L31.5 177.8L30.3 177.0L29.7 176.5L29.2 176.2L28.0 175.7L26.8 175.1L25.7 174.5L24.5 174.0L23.3 173.5L22.2 173.1L21.0 172.6L19.8 172.2L18.7 171.7L17.5 171.3L16.3 170.8L15.2 170.3L14.0 169.9L12.8 169.5L11.7 169.1L10.5 168.7L9.3 168.4L8.2 168.2L7.0 167.9L5.8 167.5L4.7 167.1L3.5 166.6L2.3 166.1L1.2 165.5L0.0 164.9L0.0 162.5L0.0 144.5L0.0 133.0L0.0 119.0L0.0 114.7L1.2 112.5L2.3 110.8L3.5 109.6L4.7 108.7L5.8 107.9L7.0 107.4L8.2 106.9L9.3 106.6L10.5 106.2L11.7 105.8L12.8 105.3L14.0 104.8L15.2 104.2L16.3 103.4L17.5 102.6L18.7 101.4L19.0 101.0L18.7 91.6L17.5 77.6L17.2 75.5L16.3 74.9L15.2 74.1L14.0 73.5L12.8 72.9L11.7 72.4L10.5 71.9L9.3 71.4L8.2 70.9L7.0 70.4L5.8 69.8L4.7 69.1L3.5 68.3L2.3 67.5L1.2 66.6L0.0 65.6L0.0 53.2L0.0 32.0L0.0 0.0ZM137.6 99.2L138.8 97.2L139.9 95.4L141.1 94.0L142.3 92.7L143.4 91.4L144.6 90.0L145.8 88.5L146.9 87.1L148.1 85.6L149.3 84.2L150.4 82.8L151.6 81.3L152.8 79.9L153.9 78.8L155.1 78.1L156.3 77.6L157.4 77.2L158.6 77.0L159.8 76.8L160.9 76.8L162.1 76.9L163.3 77.1L164.4 77.3L165.6 77.6L166.8 78.0L167.9 78.5L169.1 79.0L170.3 79.7L171.4 80.4L172.6 81.3L173.8 82.4L174.9 83.8L176.1 85.9L177.3 88.9L178.4 92.4L179.6 96.1L180.8 100.5L180.8 101.0L181.9 104.2L183.1 108.8L184.2 114.5L185.1 119.0L185.4 122.2L186.6 132.3L186.7 133.0L186.6 142.5L186.6 144.5L185.4 148.7L184.2 152.7L183.1 156.0L181.9 158.7L180.8 161.1L180.0 162.5L179.6 163.6L178.4 166.2L177.3 168.4L176.1 170.2L174.9 171.4L173.8 172.2L172.6 172.8L171.4 173.2L170.3 173.7L169.1 174.2L167.9 174.5L166.8 174.7L165.6 174.8L164.4 174.8L163.3 174.6L162.1 174.2L160.9 173.8L159.8 173.3L158.6 172.6L157.4 171.9L156.3 171.2L155.1 170.4L153.9 169.5L152.8 168.2L151.6 166.6L150.4 164.5L149.5 162.5L149.3 161.7L148.1 157.8L146.9 153.6L145.8 147.5L145.3 144.5L144.6 141.3L143.4 136.9L142.3 133.3L142.2 133.0L141.1 128.2L139.9 124.0L138.8 120.5L138.2 119.0L137.6 111.9L136.7 101.0Z" fill="#20B2AA" fill-rule="evenodd"/>
<path d="M1.2 0.0L2.3 0.0L3.5 0.0L4.7 0.0L5.8 0.0L7.0 0.0L8.2 0.0L9.3 0.0L10.5 0.0L11.7 0.0L12.8 0.0L14.0 0.0L15.2 0.0L16.3 0.0L17.5 0.0L18.7 0.0L19.8 0.0L21.0 0.0L22.2 0.0L23.3 0.0L24.5 0.0L25.7 0.0L26.8 0.0L28.0 0.0L29.2 0.0L30.3 0.0L31.5 0.0L32.7 0.0L33.8 0.0L35.0 0.0L36.2 0.0L37.3 0.0L38.5 0.0L39.6 0.0L40.8 0.0L42.0 0.0L43.1 0.0L44.3 0.0L45.5 0.0L46.6 0.0L47.8 0.0L49.0 0.0L50.1 0.0L51.3 0.0L52.4 0.0L51.3 6.4L50.1 13.1L49.0 19.4L47.8 24.8L46.6 29.6L46.0 32.0L45.5 33.5L44.3 36.7L43.1 39.5L42.0 41.7L40.8 43.5L39.6 45.1L38.5 46.7L37.3 48.2L36.2 49.6L35.0 51.0L33.8 52.2L32.9 53.2L32.7 53.8L31.5 56.2L30.3 58.0L29.2 59.5L28.0 60.5L26.8 61.1L25.7 61.5L24.5 61.7L23.3 61.7L22.2 61.6L21.0 61.3L19.8 61.0L18.7 60.5L17.5 60.0L16.3 59.5L15.2 59.0L14.0 58.5L12.8 58.0L11.7 57.6L10.5 57.1L9.3 56.6L8.2 55.9L7.0 55.2L5.8 54.4L4.7 53.5L4.3 53.2L3.5 52.8L2.3 52.2L1.2 51.6L0.0 51.0L0.0 32.0L0.0 0.0ZM37.3 100.8L38.5 100.4L39.6 100.0L40.8 99.6L42.0 99.2L43.1 98.7L44.3 98.1L45.5 97.6L46.6 97.0L47.8 96.3L49.0 95.6L50.1 94.7L51.3 93.6L52.5 92.6L53.6 91.4L54.8 90.2L56.0 89.2L57.1 88.3L58.3 87.4L59.5 86.4L60.6 85.3L61.8 84.0L63.0 83.1L64.1 82.3L65.3 81.7L66.5 81.4L67.6 81.3L68.8 81.4L70.0 81.6L71.1 81.9L72.3 82.4L73.5 82.9L74.6 83.3L75.8 83.7L77.0 84.3L78.1 85.3L79.3 86.9L80.5 89.0L81.6 91.1L82.8 93.5L84.0 96.3L85.1 99.5L85.6 101.0L86.3 103.8L87.5 109.9L88.6 118.1L88.7 119.0L88.6 120.9L87.8 133.0L87.5 134.7L86.3 141.0L85.7 144.5L85.1 147.0L84.0 151.4L82.8 154.7L81.6 157.7L80.5 160.7L79.9 162.5L79.3 164.0L78.1 166.9L77.0 168.8L75.8 170.0L74.6 171.2L73.5 172.1L72.3 172.7L71.1 173.2L70.0 173.7L68.8 174.3L67.6 174.8L66.5 175.3L65.3 175.8L64.1 176.3L63.4 176.5L63.0 176.7L61.8 177.0L60.6 177.3L59.5 177.4L58.3 177.5L57.1 177.5L56.0 177.5L54.8 177.5L53.6 177.5L52.5 177.4L51.3 177.3L50.1 176.9L49.0 176.7L47.8 176.6L47.0 176.5L46.6 176.5L45.5 176.4L44.3 176.1L43.1 175.7L42.0 175.3L40.8 174.9L39.6 174.3L38.5 173.9L37.3 173.5L36.2 173.1L35.0 172.7L33.8 172.3L32.7 171.8L31.5 171.3L30.3 170.6L29.2 169.9L28.0 169.1L26.8 168.4L25.7 167.7L24.5 167.1L23.3 166.4L22.2 165.8L21.0 165.2L19.8 164.5L18.7 163.7L17.5 163.0L16.7 162.5L16.3 162.1L15.2 161.1L14.0 160.1L12.8 159.3L11.7 158.4L10.5 157.7L9.3 157.1L8.2 156.5L7.0 155.9L5.8 155.1L4.7 154.3L3.5 153.4L2.3 152.5L1.2 151.6L0.0 150.8L0.0 144.5L0.0 133.0L0.0 131.0L1.2 129.2L2.3 127.1L3.5 124.8L4.7 122.4L5.8 119.8L6.2 119.0L7.0 118.3L8.2 117.4L9.3 116.7L10.5 116.1L11.7 115.6L12.8 115.1L14.0 114.6L15.2 114.1L16.3 113.4L17.5 112.7L18.7 111.7L19.8 110.6L21.0 109.4L22.2 108.3L23.3 107.2L24.5 106.1L25.7 105.2L26.8 104.3L28.0 103.6L29.2 102.9L30.3 102.4L31.5 102.0L32.7 101.7L33.8 101.5L35.0 101.3L36.2 101.1L36.9 101.0ZM143.4 99.6L144.6 97.9L145.8 96.1L146.9 94.4L148.1 92.7L149.3 91.0L150.4 89.3L151.6 87.5L152.8 85.7L153.9 84.4L155.1 83.4L156.3 82.6L157.4 82.1L158.6 81.8L159.8 81.6L160.9 81.5L162.1 81.6L163.3 81.8L164.4 82.0L165.6 82.3L166.8 82.7L167.9 83.2L169.1 83.8L170.3 84.6L171.4 85.6L172.6 86.9L173.8 88.4L174.9 90.5L176.1 93.5L177.3 97.5L178.1 101.0L178.4 101.8L179.6 104.8L180.8 108.5L181.9 113.2L183.1 119.0L183.1 119.1L184.2 130.8L184.5 133.0L184.2 139.4L184.1 144.5L183.1 148.2L181.9 151.8L180.8 154.7L179.6 157.4L178.4 159.7L177.3 161.8L176.8 162.5L176.1 163.9L174.9 165.5L173.8 166.6L172.6 167.4L171.4 168.0L170.3 168.6L169.1 169.1L167.9 169.4L166.8 169.5L165.6 169.7L164.4 169.7L163.3 169.5L162.1 169.1L160.9 168.6L159.8 167.9L158.6 167.1L157.4 166.2L156.3 165.3L155.1 164.2L153.9 162.8L153.7 162.5L152.8 160.8L151.6 157.6L150.4 153.1L149.3 149.0L148.1 145.4L147.8 144.5L146.9 142.2L145.8 138.0L144.7 133.0L144.6 132.2L143.4 123.1L142.6 119.0L142.5 101.0Z" fill="#BEF264" fill-rule="evenodd"/>
<path d="M1.2 0.0L2.3 0.0L3.5 0.0L4.7 0.0L5.8 0.0L7.0 0.0L8.2 0.0L9.3 0.0L10.5 0.0L11.7 0.0L12.8 0.0L14.0 0.0L15.2 0.0L16.3 0.0L17.5 0.0L18.7 0.0L19.8 0.0L21.0 0.0L22.2 0.0L23.3 0.0L24.5 0.0L25.7 0.0L26.8 0.0L28.0 0.0L29.2 0.0L30.3 0.0L31.5 0.0L32.7 0.0L33.8 0.0L35.0 0.0L36.2 0.0L37.3 0.0L38.5 0.0L39.6 0.0L40.8 0.0L42.0 0.0L43.1 0.0L44.3 0.0L45.5 0.0L46.6 0.0L47.8 0.0L48.8 0.0L47.8 5.5L46.6 11.5L45.5 16.8L44.3 21.7L43.1 26.5L42.0 30.9L41.6 32.0L40.8 33.4L39.6 35.2L38.5 36.9L37.3 38.4L36.2 39.8L35.0 41.1L33.8 42.3L32.7 43.4L31.5 44.4L30.3 45.4L29.2 46.3L28.0 47.0L26.8 47.5L25.7 47.9L24.5 48.3L23.3 48.6L22.2 48.9L21.0 49.0L19.8 48.9L18.7 48.8L17.5 48.6L16.3 48.4L15.2 48.2L14.0 48.0L12.8 47.9L11.7 47.7L10.5 47.4L9.3 47.1L8.2 46.7L7.0 46.3L5.8 45.8L4.7 45.3L3.5 44.7L2.3 44.1L1.2 43.4L0.0 42.8L0.0 32.0L0.0 0.0ZM53.6 99.7L54.8 97.9L56.0 96.4L57.1 95.1L58.3 94.0L59.5 92.9L60.6 91.7L61.8 90.4L63.0 89.3L64.1 88.2L65.3 87.2L66.5 86.6L67.6 86.4L68.8 86.4L70.0 86.5L71.1 86.9L72.3 87.5L73.5 88.2L74.6 88.7L75.8 89.2L77.0 89.9L78.1 91.4L79.3 94.1L80.5 97.2L81.6 100.2L81.9 101.0L82.8 103.5L84.0 107.9L85.1 113.5L86.1 119.0L85.1 132.7L85.1 133.0L84.0 139.7L82.9 144.5L82.8 144.8L81.6 148.3L80.5 151.9L79.3 156.1L78.1 160.4L77.3 162.5L77.0 163.1L75.8 164.4L74.6 165.4L73.5 166.3L72.3 167.1L71.1 167.8L70.0 168.4L68.8 169.2L67.6 169.9L66.5 170.6L65.3 171.1L64.1 171.6L63.0 172.0L61.8 172.2L60.6 172.4L59.5 172.5L58.3 172.5L57.1 172.5L56.0 172.6L54.8 172.5L53.6 172.5L52.5 172.4L51.3 172.2L50.1 172.0L49.0 171.8L47.8 171.6L46.6 171.4L45.5 171.2L44.3 170.9L43.1 170.4L42.0 169.9L40.8 169.4L39.6 168.8L38.5 168.2L37.3 167.7L36.2 167.2L35.0 166.7L33.8 166.3L32.7 165.8L31.5 165.2L30.3 164.4L29.2 163.5L28.0 162.5L28.0 162.5L26.8 161.3L25.7 160.2L24.5 159.2L23.3 158.0L22.2 156.7L21.0 155.3L19.8 154.0L18.7 152.8L17.5 151.6L16.3 150.3L15.2 148.9L14.0 147.6L12.8 146.2L11.7 144.9L11.3 144.5L11.7 138.2L12.0 133.0L12.8 131.8L14.0 130.1L15.2 128.5L16.3 126.9L17.5 125.3L18.7 123.7L19.8 122.2L21.0 121.0L22.2 120.1L23.3 119.4L24.0 119.0L24.5 118.7L25.7 118.1L26.8 117.3L28.0 116.5L29.2 115.5L30.3 114.4L31.5 113.3L32.7 112.3L33.8 111.4L35.0 110.6L36.2 109.8L37.3 109.2L38.5 108.6L39.6 108.1L40.8 107.7L42.0 107.2L43.1 106.7L44.3 106.2L45.5 105.7L46.6 105.1L47.8 104.6L49.0 103.9L50.1 103.2L51.3 102.3L52.5 101.3L52.8 101.0ZM148.1 99.7L149.3 97.8L150.4 95.8L151.6 93.7L152.8 91.6L153.9 89.9L155.1 88.7L156.3 87.7L157.4 87.0L158.6 86.7L159.8 86.4L160.9 86.3L162.1 86.3L163.3 86.5L164.4 86.7L165.6 87.0L166.8 87.4L167.9 87.9L169.1 88.6L170.3 89.6L171.4 90.9L172.6 92.4L173.8 94.5L174.9 97.3L176.1 101.0L176.1 101.0L177.3 104.3L178.4 107.8L179.6 111.6L180.8 116.3L181.3 119.0L181.9 125.0L182.7 133.0L182.0 144.5L181.9 144.8L180.8 148.4L179.6 151.4L178.4 154.1L177.3 156.4L176.1 158.5L174.9 160.1L173.8 161.2L172.6 162.1L171.8 162.5L171.4 162.8L170.3 163.4L169.1 163.9L167.9 164.2L166.8 164.4L165.6 164.6L164.4 164.6L163.3 164.4L162.1 164.0L160.9 163.4L159.8 162.6L159.6 162.5L158.6 161.7L157.4 160.5L156.3 159.3L155.1 157.7L153.9 155.7L152.8 152.5L151.6 147.2L151.0 144.5L150.4 141.2L149.3 137.9L148.1 135.9L146.9 133.6L146.8 133.0L145.8 121.6L145.5 119.0L145.8 115.3L146.9 103.8L147.3 101.0Z" fill="#99BE32" fill-rule="evenodd"/>
<path d="M1.2 0.0L2.3 0.0L3.5 0.0L4.7 0.0L5.8 0.0L7.0 0.0L8.2 0.0L9.3 0.0L10.5 0.0L11.7 0.0L12.8 0.0L14.0 0.0L15.2 0.0L16.3 0.0L17.5 0.0L18.7 0.0L19.8 0.0L21.0 0.0L22.2 0.0L23.3 0.0L24.5 0.0L25.7 0.0L26.8 0.0L28.0 0.0L29.2 0.0L30.3 0.0L31.5 0.0L32.7 0.0L33.8 0.0L35.0 0.0L36.2 0.0L37.3 0.0L38.5 0.0L39.6 0.0L40.8 0.0L42.0 0.0L43.1 0.0L44.3 0.0L45.4 0.0L44.3 4.7L43.1 9.6L42.0 14.2L40.8 18.2L39.6 21.7L38.5 24.7L37.3 27.3L36.2 29.4L35.0 31.1L34.2 32.0L33.8 32.4L32.7 33.4L31.5 34.5L30.3 35.6L29.2 36.8L28.0 37.6L26.8 38.3L25.7 38.7L24.5 39.2L23.3 40.0L22.2 40.7L21.0 41.0L19.8 40.9L18.7 40.7L17.5 40.5L16.3 40.4L15.2 40.3L14.0 40.1L12.8 40.0L11.7 39.8L10.5 39.6L9.3 39.3L8.2 38.9L7.0 38.4L5.8 37.8L4.7 37.2L3.5 36.6L2.3 36.0L1.2 35.2L0.0 34.5L0.0 32.0L0.0 0.0ZM58.3 100.6L59.5 99.3L60.6 98.1L61.8 96.9L63.0 95.6L64.1 94.1L65.3 92.7L66.5 91.9L67.6 91.6L68.8 91.4L70.0 91.4L71.1 91.8L72.3 92.6L73.5 93.4L74.6 94.1L75.8 94.7L77.0 95.6L78.1 97.6L79.2 101.0L79.3 101.2L80.5 105.2L81.6 109.1L82.8 114.1L83.7 119.0L82.9 133.0L82.8 133.8L81.6 139.2L80.5 143.3L80.1 144.5L79.3 147.9L78.1 152.7L77.0 156.4L75.8 158.5L74.6 160.0L73.5 161.0L72.3 161.8L71.1 162.4L70.9 162.5L70.0 163.2L68.8 164.1L67.6 165.1L66.5 165.8L65.3 166.4L64.1 167.0L63.0 167.3L61.8 167.5L60.6 167.7L59.5 167.7L58.3 167.8L57.1 167.9L56.0 167.9L54.8 167.8L53.6 167.8L52.5 167.7L51.3 167.5L50.1 167.2L49.0 166.9L47.8 166.6L46.6 166.4L45.5 166.0L44.3 165.6L43.1 165.1L42.0 164.5L40.8 163.9L39.6 163.2L38.5 162.6L38.4 162.5L37.3 161.8L36.2 160.9L35.0 160.0L33.8 159.2L32.7 158.3L31.5 157.2L30.3 155.9L29.2 154.3L28.0 152.9L26.8 151.7L25.7 150.6L24.5 149.4L23.3 147.9L22.2 146.0L21.1 144.5L22.2 133.7L22.2 133.0L23.3 131.6L24.5 130.1L25.7 128.8L26.8 127.6L28.0 126.5L29.2 125.5L30.3 124.4L31.5 123.3L32.7 122.1L33.8 120.9L35.0 119.8L35.8 119.0L36.2 118.6L37.3 117.5L38.5 116.5L39.6 115.6L40.8 114.9L42.0 114.1L43.1 113.4L44.3 112.6L45.5 111.9L46.6 111.2L47.8 110.5L49.0 109.8L50.1 108.9L51.3 108.0L52.5 107.0L53.6 105.8L54.8 104.5L56.0 103.1L57.1 101.8L58.0 101.0ZM151.6 99.9L152.8 97.4L153.9 95.5L155.1 94.0L156.3 92.7L157.4 92.0L158.6 91.5L159.8 91.1L160.9 91.0L162.1 91.1L163.3 91.2L164.4 91.4L165.6 91.6L166.8 92.0L167.9 92.5L169.1 93.3L170.3 94.6L171.4 96.1L172.6 98.0L173.8 100.6L173.9 101.0L174.9 103.3L176.1 106.3L177.3 110.0L178.4 113.9L179.6 118.4L179.7 119.0L180.8 130.2L181.0 133.0L180.8 136.4L179.9 144.5L179.6 145.5L178.4 148.5L177.3 151.1L176.1 153.5L174.9 155.2L173.8 156.5L172.6 157.5L171.4 158.3L170.3 158.9L169.1 159.4L167.9 159.7L166.8 159.9L165.6 160.0L164.4 160.0L163.3 159.8L162.1 159.2L160.9 158.5L159.8 157.6L158.6 156.3L157.4 154.9L156.3 153.2L155.1 151.2L153.9 148.6L152.8 144.5L152.8 144.1L151.6 136.3L151.0 133.0L150.4 128.4L149.3 121.8L148.8 119.0L149.3 115.5L150.4 106.2L151.1 101.0Z" fill="#F5E6BE" fill-rule="evenodd"/>
<path d="M1.2 0.0L2.3 0.0L3.5 0.0L4.7 0.0L5.8 0.0L7.0 0.0L8.2 0.0L9.3 0.0L10.5 0.0L11.7 0.0L12.8 0.0L14.0 0.0L15.2 0.0L16.3 0.0L17.5 0.0L18.7 0.0L19.8 0.0L21.0 0.0L22.2 0.0L23.3 0.0L24.5 0.0L25.7 0.0L26.8 0.0L28.0 0.0L29.2 0.0L30.3 0.0L31.5 0.0L32.7 0.0L33.8 0.0L35.0 0.0L36.2 0.0L37.3 0.0L38.5 0.0L39.6 0.0L40.8 0.0L41.4 0.0L40.8 2.1L39.6 6.4L38.5 10.2L37.3 13.8L36.2 16.9L35.0 19.5L33.8 21.6L32.7 23.4L31.5 24.9L30.3 26.4L29.2 27.7L28.0 28.7L26.8 29.4L25.7 30.0L24.5 30.5L23.3 31.4L22.6 32.0L22.2 32.4L21.0 32.9L19.8 32.8L18.7 32.6L17.5 32.4L16.3 32.3L15.2 32.3L14.0 32.2L12.8 32.1L12.2 32.0L11.7 32.0L10.5 31.9L9.3 31.6L8.2 31.2L7.0 30.9L5.8 30.4L4.7 30.0L3.5 29.5L2.3 29.0L1.2 28.5L0.0 28.0L0.0 0.0ZM64.1 100.0L65.3 98.2L66.5 97.1L67.6 96.7L68.8 96.4L70.0 96.3L71.1 96.7L72.3 97.7L73.5 98.7L74.6 99.4L75.8 100.2L76.6 101.0L77.0 101.3L78.1 104.0L79.3 108.3L80.5 113.0L81.6 118.1L81.8 119.0L81.6 122.6L81.1 133.0L80.5 135.6L79.3 140.2L78.3 144.5L78.1 145.0L77.0 149.5L75.8 152.7L74.6 154.9L73.5 156.4L72.3 157.6L71.1 158.5L70.0 159.2L68.8 159.9L67.6 160.6L66.5 161.3L65.3 161.8L64.1 162.3L63.4 162.5L63.0 162.6L61.8 162.8L60.6 162.9L59.5 163.0L58.3 163.1L57.1 163.2L56.0 163.2L54.8 163.2L53.6 163.0L52.5 162.9L51.3 162.7L50.7 162.5L50.1 162.3L49.0 162.0L47.8 161.6L46.6 161.1L45.5 160.6L44.3 159.9L43.1 159.0L42.0 158.1L40.8 157.1L39.6 156.0L38.5 154.9L37.3 153.8L36.2 152.6L35.0 151.5L33.8 150.3L32.7 149.1L31.5 147.8L30.3 146.2L29.2 144.7L29.0 144.5L29.2 143.1L30.3 133.7L30.4 133.0L31.5 131.8L32.7 130.4L33.8 129.0L35.0 127.7L36.2 126.4L37.3 125.2L38.5 124.0L39.6 122.9L40.8 121.9L42.0 121.0L43.1 120.0L44.3 119.1L44.4 119.0L45.5 118.2L46.6 117.3L47.8 116.5L49.0 115.6L50.1 114.7L51.3 113.7L52.5 112.6L53.6 111.6L54.8 110.4L56.0 109.1L57.1 107.6L58.3 106.0L59.5 104.7L60.6 103.6L61.8 102.6L63.0 101.6L63.5 101.0ZM155.1 99.3L156.3 97.8L157.4 96.9L158.6 96.3L159.8 95.9L160.9 95.8L162.1 95.8L163.3 95.9L164.4 96.1L165.6 96.3L166.8 96.7L167.9 97.2L169.1 98.1L170.3 99.5L171.2 101.0L171.4 101.2L172.6 103.1L173.8 105.4L174.9 108.3L176.1 111.6L177.3 115.6L178.2 119.0L178.4 122.1L179.4 133.0L178.4 140.5L177.8 144.5L177.3 145.8L176.1 148.4L174.9 150.4L173.8 151.9L172.6 153.0L171.4 153.9L170.3 154.6L169.1 155.2L167.9 155.5L166.8 155.6L165.6 155.7L164.4 155.7L163.3 155.4L162.1 154.6L160.9 153.7L159.8 152.5L158.6 151.0L157.4 149.2L156.3 147.2L155.1 144.7L155.0 144.5L153.9 140.8L152.8 134.2L152.6 133.0L151.6 122.4L151.2 119.0L151.6 115.1L152.8 105.5L153.9 101.1L154.0 101.0Z" fill="#DEB887" fill-rule="evenodd"/>
<path d="M1.2 0.0L2.3 0.0L3.5 0.0L4.7 0.0L5.8 0.0L7.0 0.0L8.2 0.0L9.3 0.0L10.5 0.0L11.7 0.0L12.8 0.0L14.0 0.0L15.2 0.0L16.3 0.0L17.5 0.0L18.7 0.0L19.8 0.0L21.0 0.0L22.2 0.0L23.3 0.0L24.5 0.0L25.7 0.0L26.8 0.0L28.0 0.0L29.2 0.0L30.3 0.0L31.5 0.0L32.7 0.0L33.8 0.0L35.0 0.0L36.2 0.0L37.3 0.0L37.4 0.0L37.3 0.3L36.2 4.3L35.0 7.8L33.8 10.8L32.7 13.3L31.5 15.5L30.3 17.4L29.2 19.2L28.0 20.5L26.8 21.5L25.7 22.3L24.5 23.1L23.3 24.1L22.2 25.2L21.0 25.8L19.8 26.0L18.7 26.0L17.5 26.0L16.3 26.1L15.2 26.2L14.0 26.2L12.8 26.1L11.7 26.0L10.5 25.9L9.3 25.7L8.2 25.4L7.0 25.0L5.8 24.6L4.7 24.2L3.5 23.7L2.3 23.2L1.2 22.7L0.0 22.1L0.0 0.0ZM159.8 100.7L160.9 100.5L162.1 100.5L163.3 100.6L164.4 100.7L165.6 101.0L165.6 101.0L166.8 101.3L167.9 101.8L169.1 102.6L170.3 103.9L171.4 105.5L172.6 107.5L173.8 110.2L174.9 113.3L176.1 116.9L176.7 119.0L177.3 128.8L177.6 133.0L177.3 135.1L176.1 141.9L175.5 144.5L174.9 145.5L173.8 147.2L172.6 148.5L171.4 149.5L170.3 150.3L169.1 151.0L167.9 151.3L166.8 151.4L165.6 151.4L164.4 151.4L163.3 151.0L162.1 150.0L160.9 148.8L159.8 147.4L158.6 145.6L157.9 144.5L157.4 143.5L156.3 141.0L155.1 137.5L154.1 133.0L153.9 131.9L152.8 121.3L152.6 119.0L152.8 117.1L153.9 109.9L155.1 106.1L156.3 103.4L157.4 101.9L158.6 101.2L159.0 101.0ZM52.5 118.3L53.6 117.3L54.8 116.4L56.0 115.1L57.1 113.3L58.3 111.4L59.5 109.7L60.6 108.3L61.8 107.1L63.0 105.9L64.1 104.5L65.3 103.0L66.5 102.1L67.6 101.6L68.8 101.3L70.0 101.2L71.1 101.6L72.3 102.6L73.5 103.6L74.6 104.5L75.8 105.6L77.0 107.3L78.1 110.6L79.3 115.4L80.1 119.0L79.3 132.9L79.3 133.0L78.1 137.9L77.0 142.6L76.5 144.5L75.8 146.8L74.6 149.8L73.5 151.8L72.3 153.4L71.1 154.7L70.0 155.4L68.8 156.0L67.6 156.6L66.5 157.1L65.3 157.6L64.1 158.0L63.0 158.2L61.8 158.4L60.6 158.5L59.5 158.5L58.3 158.6L57.1 158.5L56.0 158.5L54.8 158.4L53.6 158.3L52.5 158.2L51.3 157.8L50.1 157.2L49.0 156.6L47.8 156.0L46.6 155.4L45.5 154.6L44.3 153.6L43.1 152.4L42.0 151.1L40.8 149.8L39.6 148.5L38.5 147.2L37.3 145.8L36.2 144.5L37.1 133.0L37.3 132.8L38.5 131.4L39.6 130.0L40.8 128.7L42.0 127.5L43.1 126.3L44.3 125.3L45.5 124.2L46.6 123.2L47.8 122.3L49.0 121.3L50.1 120.3L51.3 119.3L51.6 119.0Z" fill="#FFE100" fill-rule="evenodd"/>
<path d="M1.2 0.0L2.3 0.0L3.5 0.0L4.7 0.0L5.8 0.0L7.0 0.0L8.2 0.0L9.3 0.0L10.5 0.0L11.7 0.0L12.8 0.0L14.0 0.0L15.2 0.0L16.3 0.0L17.5 0.0L18.7 0.0L19.8 0.0L21.0 0.0L22.2 0.0L23.3 0.0L24.5 0.0L25.7 0.0L26.8 0.0L28.0 0.0L29.2 0.0L30.3 0.0L31.5 0.0L32.7 0.0L33.8 0.0L32.7 3.2L31.5 6.0L30.3 8.5L29.2 10.6L28.0 12.3L26.8 13.6L25.7 14.7L24.5 15.7L23.3 16.9L22.2 18.0L21.0 18.8L19.8 19.2L18.7 19.5L17.5 19.7L16.3 19.9L15.2 20.1L14.0 20.2L12.8 20.1L11.7 20.1L10.5 19.9L9.3 19.8L8.2 19.5L7.0 19.2L5.8 18.8L4.7 18.3L3.5 17.9L2.3 17.4L1.2 16.9L0.0 16.3L0.0 0.0ZM58.3 116.7L59.5 114.7L60.6 113.1L61.8 111.6L63.0 110.3L64.1 108.7L65.3 107.0L66.5 106.1L67.6 105.8L68.8 105.6L70.0 105.5L71.1 106.0L72.3 107.0L73.5 108.2L74.6 109.4L75.8 111.0L77.0 113.3L78.1 117.2L78.6 119.0L78.1 125.6L77.6 133.0L77.0 135.5L75.8 140.3L74.7 144.5L74.6 144.7L73.5 147.3L72.3 149.3L71.1 150.8L70.0 151.6L68.8 152.1L67.6 152.5L66.5 152.9L65.3 153.3L64.1 153.6L63.0 153.9L61.8 153.9L60.6 154.0L59.5 154.1L58.3 154.0L57.1 153.9L56.0 153.8L54.8 153.7L53.6 153.6L52.5 153.4L51.3 153.0L50.1 152.2L49.0 151.3L47.8 150.5L46.6 149.6L45.5 148.6L44.3 147.3L43.1 145.7L42.3 144.5L42.8 133.0L43.1 132.7L44.3 131.4L45.5 130.2L46.6 129.0L47.8 127.9L49.0 126.7L50.1 125.5L51.3 124.3L52.5 123.2L53.6 122.3L54.8 121.5L56.0 120.6L57.1 119.1L57.2 119.0ZM153.9 118.8L155.1 113.6L156.3 110.1L157.4 107.9L158.6 106.5L159.8 105.6L160.9 105.2L162.1 105.0L163.3 104.9L164.4 104.9L165.6 105.1L166.8 105.4L167.9 105.8L169.1 106.6L170.3 108.0L171.4 109.8L172.6 112.0L173.8 114.9L174.9 118.3L175.1 119.0L175.6 133.0L174.9 136.5L173.8 141.0L172.6 143.7L172.1 144.5L171.4 145.1L170.3 146.0L169.1 146.8L167.9 147.1L166.8 147.1L165.6 147.1L164.4 147.1L163.3 146.6L162.1 145.4L161.3 144.5L160.9 144.0L159.8 142.4L158.6 140.4L157.4 138.0L156.3 134.8L155.8 133.0L155.1 128.1L153.9 119.4L153.9 119.0Z" fill="#FFA500" fill-rule="evenodd"/>
<path d="M1.2 0.0L2.3 0.0L3.5 0.0L4.7 0.0L5.8 0.0L7.0 0.0L8.2 0.0L9.3 0.0L10.5 0.0L11.7 0.0L12.8 0.0L14.0 0.0L15.2 0.0L16.3 0.0L17.5 0.0L18.7 0.0L19.8 0.0L21.0 0.0L22.2 0.0L23.3 0.0L24.5 0.0L25.7 0.0L26.8 0.0L28.0 0.0L29.2 0.0L30.1 0.0L29.2 2.1L28.0 4.1L26.8 5.7L25.7 7.1L24.5 8.3L23.3 9.6L22.2 10.8L21.0 11.8L19.8 12.5L18.7 13.0L17.5 13.4L16.3 13.8L15.2 14.1L14.0 14.2L12.8 14.2L11.7 14.1L10.5 14.0L9.3 13.8L8.2 13.6L7.0 13.3L5.8 13.0L4.7 12.5L3.5 12.0L2.3 11.6L1.2 11.1L0.0 10.5L0.0 0.0ZM60.6 117.8L61.8 116.2L63.0 114.6L64.1 112.8L65.3 111.1L66.5 110.2L67.6 110.0L68.8 109.9L70.0 109.9L71.1 110.4L72.3 111.5L73.5 112.8L74.6 114.3L75.8 116.4L76.9 119.0L75.9 133.0L75.8 133.4L74.6 138.1L73.5 141.9L72.6 144.5L72.3 145.1L71.1 146.9L70.0 147.8L68.8 148.2L67.6 148.5L66.5 148.7L65.3 149.0L64.1 149.3L63.0 149.5L61.8 149.5L60.6 149.6L59.5 149.6L58.3 149.5L57.1 149.3L56.0 149.1L54.8 149.0L53.6 148.9L52.5 148.7L51.3 148.1L50.1 147.1L49.0 145.9L47.8 144.9L47.3 144.5L47.8 138.8L48.2 133.0L49.0 132.1L50.1 130.7L51.3 129.3L52.5 128.0L53.6 127.0L54.8 126.0L56.0 125.0L57.1 123.6L58.3 121.8L59.5 119.7L59.9 119.0ZM156.3 116.7L157.4 113.8L158.6 111.9L159.8 110.6L160.9 109.8L162.1 109.4L163.3 109.1L164.4 109.1L165.6 109.2L166.8 109.4L167.9 109.8L169.1 110.6L170.3 112.2L171.4 114.1L172.6 116.5L173.5 119.0L173.7 133.0L172.6 136.9L171.4 139.4L170.3 141.2L169.1 142.4L167.9 142.9L166.8 142.8L165.6 142.8L164.4 142.8L163.3 142.2L162.1 140.8L160.9 139.2L159.8 137.4L158.6 135.2L157.7 133.0L157.4 131.6L156.3 123.7L155.6 119.0Z" fill="#FF4500" fill-rule="evenodd"/>
<path d="M1.2 0.0L2.3 0.0L3.5 0.0L4.7 0.0L5.8 0.0L7.0 0.0L8.2 0.0L9.3 0.0L10.5 0.0L11.7 0.0L12.8 0.0L14.0 0.0L15.2 0.0L16.3 0.0L17.5 0.0L18.7 0.0L19.8 0.0L21.0 0.0L22.2 0.0L23.3 0.0L24.5 0.0L25.2 0.0L24.5 0.9L23.3 2.3L22.2 3.6L21.0 4.8L19.8 5.7L18.7 6.5L17.5 7.1L16.3 7.6L15.2 8.1L14.0 8.2L12.8 8.2L11.7 8.1L10.5 8.0L9.3 7.9L8.2 7.7L7.0 7.5L5.8 7.2L4.7 6.7L3.5 6.2L2.3 5.7L1.2 5.2L0.0 4.7L0.0 0.0ZM63.0 119.0L64.1 117.0L65.3 115.2L66.5 114.3L67.6 114.2L68.8 114.2L70.0 114.2L71.1 114.8L72.3 116.0L73.5 117.4L74.5 119.0L74.1 133.0L73.5 135.2L72.3 138.5L71.1 141.8L70.0 143.7L68.8 144.1L67.6 144.4L67.3 144.5L66.5 144.6L65.3 144.8L64.1 145.0L63.0 145.1L61.8 145.1L60.6 145.1L59.5 145.1L58.3 145.0L57.1 144.7L56.2 144.5L56.0 144.3L54.8 143.6L53.6 142.4L52.5 136.4L52.3 133.0L52.5 132.8L53.6 131.6L54.8 130.5L56.0 129.5L57.1 128.2L58.3 126.6L59.5 125.0L60.6 123.3L61.8 121.3L62.9 119.0ZM158.6 117.3L159.8 115.5L160.9 114.4L162.1 113.8L163.3 113.3L164.4 113.2L165.6 113.3L166.8 113.5L167.9 113.8L169.1 114.6L170.3 116.3L171.4 118.4L171.7 119.0L171.6 133.0L171.4 133.5L170.3 136.1L169.1 137.9L167.9 138.5L166.8 138.5L165.6 138.5L164.4 138.4L163.3 137.8L162.1 136.3L160.9 134.4L160.1 133.0L159.8 131.1L158.6 124.0L157.8 119.0Z" fill="#B22222" fill-rule="evenodd"/>
<path d="M3.5 0.0L4.7 0.0L5.8 0.0L7.0 0.0L8.2 0.0L9.3 0.0L10.5 0.0L11.7 0.0L12.8 0.0L14.0 0.0L15.2 0.0L16.3 0.0L17.5 0.0L18.7 0.0L18.7 0.0L18.7 0.0L17.5 0.8L16.3 1.5L15.2 2.0L14.0 2.2L12.8 2.2L11.7 2.2L10.5 2.1L9.3 2.0L8.2 1.8L7.0 1.6L5.8 1.3L4.7 0.9L3.5 0.4L2.5 0.0ZM66.5 118.4L67.6 118.4L68.8 118.4L70.0 118.5L70.9 119.0L71.1 120.9L71.7 133.0L71.1 134.3L70.0 136.3L68.8 137.2L67.6 137.8L66.5 138.2L65.3 138.6L64.1 138.9L63.0 139.0L61.8 138.8L60.6 138.2L59.5 137.4L58.3 136.0L57.1 133.6L56.9 133.0L57.1 132.8L58.3 131.5L59.5 130.2L60.6 129.0L61.8 127.5L63.0 126.2L64.1 124.0L65.3 119.8L65.6 119.0ZM162.1 118.2L163.3 117.6L164.4 117.3L165.6 117.4L166.8 117.5L167.9 117.8L169.1 118.7L169.3 119.0L169.2 133.0L169.1 133.3L167.9 134.2L166.8 134.2L165.6 134.1L164.4 134.1L163.3 133.4L163.0 133.0L162.1 124.5L161.0 119.0Z" fill="#FFB6C1" fill-rule="evenodd"/>
<path d="M221 202.2H217.2V206.6H213.4V216H210.2V218.2H168V221H221Z" fill="#fff"/>
<rect x="0" y="0" width="220.4" height="220.2" fill="none" stroke="#000" stroke-width="1.5"/>
<path d="M-6.3 0.00H0M-6.3 32.05H0M-6.3 53.16H0M-6.3 75.54H0M-6.3 100.98H0M-6.3 119.02H0M-6.3 133.02H0M-6.3 144.46H0M-6.3 162.51H0M-6.3 176.51H0M-6.3 197.62H0M-6.3 209.80H0M-6.3 220.00H0M220.4 38.30h6.2M220.4 77.80h6.2M220.4 117.20h6.2M220.4 155.80h6.2M220.4 190.00h6.2M35.05 220.2v6.5M35.05 0v-6.5M72.65 220.2v6.5M72.65 0v-6.5M110.25 220.2v6.5M110.25 0v-6.5M147.85 220.2v6.5M147.85 0v-6.5M185.45 220.2v6.5M185.45 0v-6.5" stroke="#000" stroke-width="1.4" fill="none"/>
<path d="M9.99 220.2v3.2M9.99 0v-3.2M22.52 220.2v3.2M22.52 0v-3.2M47.58 220.2v3.2M47.58 0v-3.2M60.12 220.2v3.2M60.12 0v-3.2M85.18 220.2v3.2M85.18 0v-3.2M97.72 220.2v3.2M97.72 0v-3.2M122.78 220.2v3.2M122.78 0v-3.2M135.32 220.2v3.2M135.32 0v-3.2M160.38 220.2v3.2M160.38 0v-3.2M172.92 220.2v3.2M172.92 0v-3.2M197.98 220.2v3.2M197.98 0v-3.2M210.51 220.2v3.2M210.51 0v-3.2" stroke="#333" stroke-width="0.95" fill="none"/>
<text x="-10.90" y="3.40" font-size="9.6" text-anchor="end" font-family='"Liberation Sans", sans-serif' fill="#333" stroke="#222" stroke-width="0.35" xml:space="preserve">30</text>
<text x="-10.90" y="35.45" font-size="9.6" text-anchor="end" font-family='"Liberation Sans", sans-serif' fill="#333" stroke="#222" stroke-width="0.35" xml:space="preserve">50</text>
<text x="-10.90" y="56.56" font-size="9.6" text-anchor="end" font-family='"Liberation Sans", sans-serif' fill="#333" stroke="#222" stroke-width="0.35" xml:space="preserve">70</text>
<text x="-10.90" y="78.94" font-size="9.6" text-anchor="end" font-family='"Liberation Sans", sans-serif' fill="#333" stroke="#222" stroke-width="0.35" xml:space="preserve">100</text>
<text x="-10.90" y="104.38" font-size="9.6" text-anchor="end" font-family='"Liberation Sans", sans-serif' fill="#333" stroke="#222" stroke-width="0.35" xml:space="preserve">150</text>
<text x="-10.90" y="122.42" font-size="9.6" text-anchor="end" font-family='"Liberation Sans", sans-serif' fill="#333" stroke="#222" stroke-width="0.35" xml:space="preserve">200</text>
<text x="-10.90" y="136.42" font-size="9.6" text-anchor="end" font-family='"Liberation Sans", sans-serif' fill="#333" stroke="#222" stroke-width="0.35" xml:space="preserve">250</text>
<text x="-10.90" y="147.86" font-size="9.6" text-anchor="end" font-family='"Liberation Sans", sans-serif' fill="#333" stroke="#222" stroke-width="0.35" xml:space="preserve">300</text>
<text x="-10.90" y="165.91" font-size="9.6" text-anchor="end" font-family='"Liberation Sans", sans-serif' fill="#333" stroke="#222" stroke-width="0.35" xml:space="preserve">400</text>
<text x="-10.90" y="179.91" font-size="9.6" text-anchor="end" font-family='"Liberation Sans", sans-serif' fill="#333" stroke="#222" stroke-width="0.35" xml:space="preserve">500</text>
<text x="-10.90" y="201.02" font-size="9.6" text-anchor="end" font-family='"Liberation Sans", sans-serif' fill="#333" stroke="#222" stroke-width="0.35" xml:space="preserve">700</text>
<text x="-10.90" y="213.20" font-size="9.6" text-anchor="end" font-family='"Liberation Sans", sans-serif' fill="#333" stroke="#222" stroke-width="0.35" xml:space="preserve">850</text>
<text x="-10.90" y="223.40" font-size="9.6" text-anchor="end" font-family='"Liberation Sans", sans-serif' fill="#333" stroke="#222" stroke-width="0.35" xml:space="preserve">1000</text>
<text x="231.20" y="41.70" font-size="9.6" text-anchor="start" font-family='"Liberation Sans", sans-serif' fill="#333" stroke="#222" stroke-width="0.35" xml:space="preserve">20</text>
<text x="231.20" y="81.20" font-size="9.6" text-anchor="start" font-family='"Liberation Sans", sans-serif' fill="#333" stroke="#222" stroke-width="0.35" xml:space="preserve">16</text>
<text x="231.20" y="120.60" font-size="9.6" text-anchor="start" font-family='"Liberation Sans", sans-serif' fill="#333" stroke="#222" stroke-width="0.35" xml:space="preserve">12</text>
<text x="231.20" y="159.20" font-size="9.6" text-anchor="start" font-family='"Liberation Sans", sans-serif' fill="#333" stroke="#222" stroke-width="0.35" xml:space="preserve">8</text>
<text x="231.20" y="193.40" font-size="9.6" text-anchor="start" font-family='"Liberation Sans", sans-serif' fill="#333" stroke="#222" stroke-width="0.35" xml:space="preserve">4</text>
<text x="35.05" y="238.30" font-size="9.4" text-anchor="middle" font-family='"Liberation Sans", sans-serif' fill="#333" stroke="#222" stroke-width="0.35" xml:space="preserve">60N</text>
<text x="72.65" y="238.30" font-size="9.4" text-anchor="middle" font-family='"Liberation Sans", sans-serif' fill="#333" stroke="#222" stroke-width="0.35" xml:space="preserve">30N</text>
<text x="110.25" y="238.30" font-size="9.4" text-anchor="middle" font-family='"Liberation Sans", sans-serif' fill="#333" stroke="#222" stroke-width="0.35" xml:space="preserve">0</text>
<text x="147.85" y="238.30" font-size="9.4" text-anchor="middle" font-family='"Liberation Sans", sans-serif' fill="#333" stroke="#222" stroke-width="0.35" xml:space="preserve">30S</text>
<text x="185.45" y="238.30" font-size="9.4" text-anchor="middle" font-family='"Liberation Sans", sans-serif' fill="#333" stroke="#222" stroke-width="0.35" xml:space="preserve">60S</text>
<text y="0.00" font-size="15" font-family='"Liberation Serif", serif' fill="#333" transform="translate(-41.4 163.9) rotate(-90)"><tspan x="0.00" textLength="65.00" lengthAdjust="spacingAndGlyphs">Pressure</tspan> <tspan x="71.80" textLength="35.60" lengthAdjust="spacingAndGlyphs">(mb)</tspan></text>
<text y="0.00" font-size="15" font-family='"Liberation Serif", serif' fill="#333" transform="translate(260.0 154.9) rotate(-90)"><tspan x="0.00" textLength="46.20" lengthAdjust="spacingAndGlyphs">Height</tspan> <tspan x="51.00" textLength="37.80" lengthAdjust="spacingAndGlyphs">(km)</tspan></text>
<text y="-9.60" font-size="14.2" font-family='"Liberation Serif", serif' fill="#333"><tspan x="-0.40" textLength="66.90" lengthAdjust="spacingAndGlyphs">Transient</tspan> <tspan x="71.30" textLength="31.50" lengthAdjust="spacingAndGlyphs">eddy</tspan> <tspan x="110.30" textLength="13.70" lengthAdjust="spacingAndGlyphs">KE</tspan></text>
<text y="-9.60" font-size="14.2" font-family='"Liberation Serif", serif' fill="#333"><tspan x="67.80" textLength="20.00" lengthAdjust="spacingAndGlyphs">m~</tspan><tspan x="89.30" textLength="16.50" lengthAdjust="spacingAndGlyphs">S~</tspan><tspan x="107.30" textLength="15.50" lengthAdjust="spacingAndGlyphs">2~</tspan><tspan x="124.00" textLength="18.20" lengthAdjust="spacingAndGlyphs">N~</tspan><tspan x="143.50" textLength="6.60" lengthAdjust="spacingAndGlyphs">/</tspan><tspan x="151.60" textLength="15.50" lengthAdjust="spacingAndGlyphs">s~</tspan><tspan x="168.00" textLength="17.00" lengthAdjust="spacingAndGlyphs">S~</tspan><tspan x="185.90" textLength="16.90" lengthAdjust="spacingAndGlyphs">2~</tspan><tspan x="203.80" textLength="17.00" lengthAdjust="spacingAndGlyphs">N~</tspan></text>
<text y="-29.50" font-size="15.8" font-family='"Liberation Serif", serif' fill="#333"><tspan x="17.10" textLength="73.30" lengthAdjust="spacingAndGlyphs">b01.01ibis</tspan> <tspan x="99.40" textLength="27.20" lengthAdjust="spacingAndGlyphs">(yrs</tspan> <tspan x="135.40" textLength="68.40" lengthAdjust="spacingAndGlyphs">975-999)</tspan></text>
</g>
<g transform="translate(374.3,71.0)">
<rect x="0" y="0" width="220.4" height="220.0" fill="#9370DB"/>
<path d="M1.2 0.0L2.3 0.0L3.5 0.0L4.7 0.0L5.8 0.0L7.0 0.0L8.2 0.0L9.3 0.0L10.5 0.0L11.7 0.0L12.8 0.0L14.0 0.0L15.2 0.0L16.3 0.0L17.5 0.0L18.7 0.0L19.8 0.0L21.0 0.0L22.2 0.0L23.3 0.0L24.5 0.0L25.7 0.0L26.8 0.0L28.0 0.0L29.2 0.0L30.3 0.0L31.5 0.0L32.7 0.0L33.8 0.0L35.0 0.0L36.2 0.0L37.3 0.0L38.5 0.0L39.6 0.0L40.8 0.0L42.0 0.0L43.1 0.0L44.3 0.0L45.5 0.0L46.6 0.0L47.8 0.0L49.0 0.0L50.1 0.0L51.3 0.0L52.5 0.0L53.6 0.0L54.8 0.0L56.0 0.0L57.1 0.0L58.3 0.0L59.5 0.0L60.6 0.0L61.8 0.0L63.0 0.0L64.1 0.0L65.3 0.0L66.5 0.0L67.6 0.0L68.8 0.0L70.0 0.0L71.1 0.0L72.3 0.0L73.5 0.0L74.6 0.0L75.8 0.0L77.0 0.0L78.1 0.0L79.3 0.0L80.5 0.0L81.6 0.0L82.8 0.0L84.0 0.0L85.1 0.0L86.3 0.0L87.5 0.0L88.6 0.0L89.8 0.0L91.0 0.0L92.1 0.0L93.3 0.0L94.5 0.0L95.6 0.0L96.8 0.0L98.0 0.0L99.1 0.0L100.3 0.0L101.5 0.0L102.6 0.0L103.8 0.0L105.0 0.0L106.1 0.0L107.3 0.0L108.5 0.0L109.6 0.0L110.8 0.0L111.9 0.0L113.1 0.0L114.3 0.0L115.4 0.0L116.6 0.0L117.8 0.0L118.9 0.0L120.1 0.0L121.3 0.0L122.4 0.0L123.6 0.0L124.8 0.0L125.9 0.0L127.1 0.0L128.3 0.0L129.4 0.0L130.6 0.0L131.8 0.0L132.9 0.0L134.1 0.0L135.3 0.0L136.4 0.0L137.6 0.0L138.8 0.0L139.9 0.0L141.1 0.0L142.3 0.0L143.4 0.0L144.6 0.0L145.8 0.0L146.9 0.0L148.1 0.0L149.3 0.0L150.4 0.0L151.6 0.0L152.8 0.0L153.9 0.0L155.1 0.0L156.3 0.0L157.4 0.0L158.6 0.0L159.8 0.0L160.9 0.0L162.1 0.0L163.3 0.0L164.4 0.0L165.6 0.0L166.8 0.0L167.9 0.0L169.1 0.0L170.3 0.0L171.4 0.0L172.6 0.0L173.8 0.0L174.9 0.0L176.1 0.0L177.3 0.0L178.4 0.0L179.6 0.0L180.8 0.0L181.9 0.0L183.1 0.0L184.2 0.0L185.4 0.0L186.6 0.0L187.7 0.0L188.9 0.0L190.1 0.0L191.2 0.0L192.4 0.0L193.6 0.0L194.7 0.0L195.9 0.0L197.1 0.0L198.2 0.0L199.4 0.0L200.6 0.0L201.7 0.0L202.9 0.0L204.1 0.0L205.2 0.0L206.4 0.0L207.6 0.0L208.7 0.0L209.9 0.0L211.1 0.0L212.2 0.0L213.4 0.0L214.6 0.0L215.7 0.0L216.9 0.0L218.1 0.0L219.2 0.0L220.4 0.0L220.4 32.0L220.4 53.2L220.4 75.5L220.4 101.0L220.4 119.0L220.4 133.0L220.4 144.5L220.4 162.5L220.4 176.5L220.4 188.0L220.4 197.6L220.4 209.8L220.4 213.3L219.2 214.4L218.6 215.1L218.1 215.8L216.9 217.9L216.0 220.0L215.7 220.0L214.6 220.0L213.4 220.0L212.2 220.0L211.1 220.0L209.9 220.0L208.7 220.0L207.6 220.0L206.4 220.0L205.2 220.0L204.1 220.0L202.9 220.0L201.7 220.0L200.6 220.0L199.4 220.0L198.2 220.0L197.1 220.0L195.9 220.0L194.7 220.0L193.6 220.0L192.4 220.0L191.2 220.0L190.1 220.0L188.9 220.0L187.7 220.0L186.6 220.0L185.4 220.0L184.2 220.0L183.1 220.0L181.9 220.0L180.8 220.0L179.6 220.0L178.4 220.0L177.3 220.0L176.1 220.0L174.9 220.0L173.8 220.0L172.6 220.0L171.4 220.0L170.3 220.0L169.1 220.0L167.9 220.0L166.8 220.0L165.6 220.0L164.4 220.0L163.3 220.0L162.1 220.0L160.9 220.0L159.8 220.0L158.6 220.0L157.4 220.0L156.3 220.0L155.1 220.0L153.9 220.0L152.8 220.0L151.6 220.0L150.4 220.0L149.3 220.0L148.1 220.0L146.9 220.0L145.8 220.0L144.6 220.0L143.4 220.0L142.3 220.0L141.1 220.0L139.9 220.0L139.4 220.0L138.8 219.5L137.6 218.8L136.4 218.2L135.3 217.6L134.1 216.9L132.9 216.2L131.8 215.3L131.6 215.1L131.8 214.3L132.9 211.6L134.1 210.3L134.4 209.8L134.1 208.2L132.9 206.6L131.8 206.4L130.6 206.4L129.4 206.4L128.3 206.3L127.1 206.0L125.9 205.1L124.8 203.0L123.6 198.5L123.3 197.6L123.6 197.3L124.8 194.5L125.9 191.2L126.7 188.0L125.9 187.1L124.8 186.3L123.6 185.8L122.4 185.7L121.3 186.1L120.1 187.1L119.2 188.0L120.1 192.7L121.3 197.0L121.7 197.6L121.3 199.9L120.3 209.8L120.1 209.9L118.9 210.5L117.8 211.2L116.6 212.0L115.4 212.7L114.3 213.1L113.1 213.5L111.9 213.8L110.8 213.9L109.6 213.9L108.5 214.0L107.3 213.9L106.1 213.7L105.0 213.5L103.8 213.0L102.6 211.3L102.2 209.8L101.5 204.1L100.3 202.4L99.1 201.5L98.0 201.2L96.8 205.3L96.2 209.8L96.8 212.3L98.0 213.7L99.1 214.6L99.6 215.1L99.1 215.2L98.0 215.3L96.8 215.4L95.6 215.7L94.5 216.0L93.3 216.5L92.1 217.4L91.0 218.5L89.8 220.0L89.8 220.0L88.6 220.0L87.5 220.0L86.3 220.0L85.1 220.0L84.0 220.0L82.8 220.0L81.6 220.0L80.5 220.0L79.3 220.0L78.1 220.0L77.0 220.0L75.8 220.0L74.6 220.0L73.5 220.0L72.3 220.0L71.1 220.0L70.0 220.0L68.8 220.0L67.6 220.0L66.5 220.0L65.3 220.0L64.1 220.0L63.0 220.0L61.8 220.0L60.6 220.0L59.5 220.0L58.3 220.0L57.1 220.0L56.0 220.0L54.8 220.0L53.6 220.0L52.5 220.0L51.3 220.0L50.1 220.0L49.0 220.0L47.8 220.0L46.6 220.0L45.5 220.0L44.3 220.0L43.1 220.0L42.0 220.0L40.8 220.0L39.6 220.0L38.5 220.0L37.3 220.0L36.2 220.0L35.0 220.0L33.8 220.0L32.7 220.0L31.5 220.0L30.3 220.0L29.2 220.0L28.0 220.0L26.8 220.0L25.7 220.0L24.5 220.0L23.3 220.0L22.2 220.0L21.0 220.0L19.8 220.0L18.7 220.0L17.5 220.0L16.3 220.0L15.2 220.0L14.0 220.0L12.8 220.0L11.7 220.0L10.5 220.0L9.3 220.0L8.2 220.0L7.0 220.0L5.8 220.0L4.7 220.0L3.5 220.0L2.3 220.0L1.2 220.0L0.0 220.0L0.0 215.1L0.0 209.8L0.0 197.6L0.0 188.0L0.0 176.5L0.0 162.5L0.0 144.5L0.0 133.0L0.0 119.0L0.0 101.0L0.0 75.5L0.0 53.2L0.0 32.0L0.0 0.0ZM139.9 197.6L139.9 197.6L140.0 197.6L139.9 197.6Z" fill="#0000CD" fill-rule="evenodd"/>
<path d="M1.2 0.0L2.3 0.0L3.5 0.0L4.7 0.0L5.8 0.0L7.0 0.0L8.2 0.0L9.3 0.0L10.5 0.0L11.7 0.0L12.8 0.0L14.0 0.0L15.2 0.0L16.3 0.0L17.5 0.0L18.7 0.0L19.8 0.0L21.0 0.0L22.2 0.0L23.3 0.0L24.5 0.0L25.7 0.0L26.8 0.0L28.0 0.0L29.2 0.0L30.3 0.0L31.5 0.0L32.7 0.0L33.8 0.0L35.0 0.0L36.2 0.0L37.3 0.0L38.5 0.0L39.6 0.0L40.8 0.0L42.0 0.0L43.1 0.0L44.3 0.0L45.5 0.0L46.6 0.0L47.8 0.0L49.0 0.0L50.1 0.0L51.3 0.0L52.5 0.0L53.6 0.0L54.8 0.0L56.0 0.0L57.1 0.0L58.3 0.0L59.5 0.0L60.6 0.0L61.8 0.0L63.0 0.0L64.1 0.0L65.3 0.0L66.5 0.0L67.6 0.0L68.8 0.0L70.0 0.0L71.1 0.0L72.3 0.0L73.5 0.0L74.6 0.0L75.8 0.0L77.0 0.0L78.1 0.0L79.3 0.0L80.5 0.0L81.6 0.0L81.9 0.0L81.6 2.1L80.5 10.4L79.3 16.7L78.1 21.5L77.0 25.2L75.8 28.0L74.6 30.3L73.6 32.0L74.6 33.4L75.8 35.0L77.0 36.7L78.1 38.2L79.3 39.6L80.5 41.0L81.6 42.5L82.8 44.1L84.0 45.5L85.1 46.7L86.3 47.8L87.5 48.8L88.6 49.8L89.8 50.8L91.0 51.9L92.1 53.2L92.1 53.2L93.3 53.7L94.5 54.2L95.6 54.6L96.8 55.0L98.0 55.3L99.1 55.4L100.3 55.5L101.5 55.5L102.6 55.6L103.8 55.6L105.0 55.6L106.1 55.6L107.3 55.6L108.5 55.6L109.6 55.7L110.8 56.0L111.9 56.3L113.1 56.8L114.3 57.5L115.4 58.1L116.6 58.8L117.8 59.4L118.9 59.9L120.1 60.3L121.3 60.5L122.4 60.7L123.6 60.7L124.8 60.8L125.9 60.8L127.1 60.7L128.3 60.5L129.4 60.2L130.6 59.9L131.8 59.6L132.9 59.2L134.1 58.9L135.3 58.4L136.4 57.9L137.6 57.3L138.8 56.6L139.9 55.8L141.1 55.1L142.3 54.4L143.4 53.8L144.6 53.5L145.8 53.2L146.1 53.2L146.9 52.7L148.1 51.7L149.3 50.5L150.4 49.3L151.6 48.1L152.8 46.9L153.9 45.9L155.1 45.2L156.3 44.6L157.4 44.2L158.6 44.0L159.8 43.9L160.9 43.7L162.1 43.7L163.3 43.8L164.4 43.7L165.6 43.4L166.8 43.1L167.9 42.6L169.1 41.9L170.3 40.7L171.4 39.2L172.6 37.3L173.8 34.9L174.9 32.4L175.1 32.0L176.1 16.4L176.9 0.0L177.3 0.0L178.4 0.0L179.6 0.0L180.8 0.0L181.9 0.0L183.1 0.0L184.2 0.0L185.4 0.0L186.6 0.0L187.7 0.0L188.9 0.0L190.1 0.0L191.2 0.0L192.4 0.0L193.6 0.0L194.7 0.0L195.9 0.0L197.1 0.0L198.2 0.0L199.4 0.0L200.6 0.0L201.7 0.0L202.9 0.0L204.1 0.0L205.2 0.0L206.4 0.0L207.6 0.0L208.7 0.0L209.9 0.0L211.1 0.0L212.2 0.0L213.4 0.0L214.6 0.0L215.7 0.0L216.9 0.0L218.1 0.0L219.2 0.0L220.4 0.0L220.4 12.3L219.2 13.8L218.1 15.5L216.9 17.5L215.7 19.7L214.6 22.4L213.4 25.4L212.2 28.4L211.1 31.6L210.9 32.0L209.9 35.0L208.7 38.4L207.6 41.7L206.4 45.0L205.2 48.5L204.1 52.1L203.7 53.2L202.9 55.4L201.7 58.6L200.6 62.0L199.4 65.3L198.2 69.1L197.1 75.1L197.0 75.5L196.6 101.0L197.1 101.6L198.2 103.1L199.4 104.7L200.6 106.3L201.7 108.0L202.9 109.5L204.1 110.9L205.2 112.2L206.4 113.5L207.6 114.7L208.7 115.9L209.9 117.1L211.1 118.4L211.6 119.0L212.2 119.6L213.4 120.3L214.6 121.0L215.7 121.6L216.9 121.9L218.1 122.1L219.2 122.3L220.4 122.4L220.4 133.0L220.4 144.5L220.4 162.5L220.4 168.1L219.2 168.7L218.1 169.3L216.9 169.9L215.7 170.4L214.6 171.0L213.4 171.6L212.2 172.3L211.1 173.0L209.9 173.8L208.7 174.5L207.6 175.2L206.4 175.8L205.2 176.2L204.1 176.5L204.1 176.5L202.9 176.9L201.7 177.3L200.6 177.7L199.4 178.2L198.2 179.0L197.1 180.0L195.9 181.3L194.7 183.0L193.6 185.2L192.4 187.8L192.3 188.0L191.2 195.4L191.0 197.6L191.2 199.6L192.4 207.7L192.8 209.8L193.6 210.7L194.7 212.0L195.9 213.4L197.1 215.0L197.2 215.1L198.2 219.2L198.4 220.0L198.2 220.0L197.1 220.0L195.9 220.0L194.7 220.0L193.6 220.0L192.4 220.0L191.2 220.0L190.1 220.0L188.9 220.0L187.7 220.0L186.6 220.0L185.4 220.0L184.2 220.0L183.1 220.0L181.9 220.0L180.8 220.0L179.6 220.0L178.4 220.0L177.3 220.0L176.1 220.0L174.9 220.0L173.8 220.0L172.6 220.0L171.4 220.0L170.3 220.0L169.1 220.0L167.9 220.0L166.8 220.0L165.6 220.0L164.4 220.0L163.3 220.0L162.1 220.0L160.9 220.0L159.8 220.0L158.6 220.0L157.4 220.0L156.3 220.0L155.1 220.0L153.9 220.0L152.8 220.0L151.6 220.0L150.9 220.0L150.4 217.5L150.0 215.1L150.4 214.8L151.6 214.0L152.8 213.0L153.9 211.6L155.0 209.8L153.9 208.4L152.8 206.3L151.6 202.9L150.5 197.6L150.4 197.5L149.3 195.3L148.1 192.6L146.9 189.5L146.4 188.0L145.8 186.1L144.6 181.9L143.4 176.5L143.4 176.5L142.3 173.5L141.1 170.7L139.9 168.5L138.8 166.5L137.6 164.4L136.6 162.5L136.4 162.2L135.3 160.4L134.1 158.5L132.9 156.7L131.8 154.7L130.6 152.4L129.4 150.0L128.3 147.3L127.2 144.5L127.1 144.4L125.9 142.7L124.8 141.3L123.6 140.1L122.4 139.4L121.3 139.0L120.1 138.7L118.9 138.5L117.8 138.9L116.6 139.9L115.4 141.4L114.3 143.0L113.5 144.5L113.1 146.2L111.9 153.3L110.8 161.5L110.6 162.5L109.6 167.0L108.5 170.8L107.3 173.5L106.1 175.3L105.2 176.5L105.0 176.7L103.8 177.3L102.6 177.9L101.5 178.6L100.3 179.3L99.1 180.1L98.0 181.0L96.8 181.8L95.6 182.8L94.5 183.7L93.3 184.7L92.1 185.7L91.0 186.8L89.8 187.9L89.8 188.0L88.6 190.3L87.5 192.5L86.3 194.5L85.1 196.4L84.3 197.6L84.0 198.8L82.8 202.0L81.6 204.6L80.5 206.7L79.3 208.4L78.3 209.8L79.3 212.5L80.0 215.1L80.5 219.6L80.5 220.0L80.5 220.0L79.3 220.0L78.1 220.0L77.0 220.0L75.8 220.0L74.6 220.0L73.5 220.0L72.3 220.0L71.1 220.0L70.0 220.0L68.8 220.0L67.6 220.0L66.5 220.0L65.3 220.0L64.1 220.0L63.0 220.0L61.8 220.0L60.6 220.0L59.5 220.0L58.3 220.0L57.1 220.0L56.0 220.0L54.8 220.0L53.6 220.0L52.5 220.0L51.3 220.0L50.1 220.0L49.0 220.0L47.8 220.0L46.6 220.0L45.5 220.0L44.3 220.0L43.1 220.0L42.0 220.0L40.8 220.0L39.6 220.0L38.5 220.0L37.3 220.0L36.2 220.0L35.0 220.0L33.8 220.0L32.7 220.0L31.5 220.0L30.3 220.0L29.2 220.0L28.0 220.0L26.8 220.0L25.7 220.0L24.5 220.0L23.3 220.0L22.2 220.0L21.0 220.0L19.8 220.0L18.7 220.0L17.5 220.0L16.3 220.0L15.2 220.0L14.0 220.0L12.8 220.0L11.7 220.0L10.5 220.0L9.3 220.0L8.2 220.0L7.0 220.0L5.8 220.0L4.7 220.0L3.5 220.0L2.3 220.0L1.2 220.0L0.0 220.0L0.0 215.1L0.0 209.8L0.0 197.6L0.0 188.0L0.0 176.5L0.0 162.5L0.0 144.5L0.0 133.0L0.0 119.0L0.0 101.0L0.0 75.5L0.0 53.2L0.0 32.0L0.0 0.0Z" fill="#4169E1" fill-rule="evenodd"/>
<path d="M1.2 0.0L2.3 0.0L3.5 0.0L4.7 0.0L5.8 0.0L7.0 0.0L8.2 0.0L9.3 0.0L10.5 0.0L11.7 0.0L12.8 0.0L14.0 0.0L15.2 0.0L16.3 0.0L17.5 0.0L18.7 0.0L19.8 0.0L21.0 0.0L22.2 0.0L23.3 0.0L24.5 0.0L25.7 0.0L26.8 0.0L28.0 0.0L29.2 0.0L30.3 0.0L31.5 0.0L32.7 0.0L33.8 0.0L35.0 0.0L36.2 0.0L37.3 0.0L38.5 0.0L39.6 0.0L40.8 0.0L42.0 0.0L43.1 0.0L44.3 0.0L45.5 0.0L46.6 0.0L47.8 0.0L49.0 0.0L50.1 0.0L51.3 0.0L52.5 0.0L53.6 0.0L54.8 0.0L56.0 0.0L57.1 0.0L58.3 0.0L59.5 0.0L60.6 0.0L61.8 0.0L63.0 0.0L64.1 0.0L65.3 0.0L66.5 0.0L67.6 0.0L68.8 0.0L70.0 0.0L70.8 0.0L70.0 2.7L68.8 6.0L67.6 8.9L66.5 11.8L65.3 14.7L64.1 17.5L63.0 20.2L61.8 22.7L60.6 25.1L59.5 27.5L58.3 29.9L57.4 32.0L57.1 36.2L56.0 48.5L55.2 53.2L56.0 54.3L57.1 55.3L58.3 55.9L59.5 56.3L60.6 56.5L61.8 56.5L63.0 56.5L64.1 56.5L65.3 56.4L66.5 56.5L67.6 56.7L68.8 56.9L70.0 56.9L71.1 57.0L72.3 57.1L73.5 57.2L74.6 57.7L75.8 58.5L77.0 59.2L78.1 59.5L79.3 59.8L80.5 60.1L81.6 60.7L82.8 61.6L84.0 62.4L85.1 63.1L86.3 63.8L87.5 64.6L88.6 65.5L89.8 66.5L91.0 67.4L92.1 68.0L93.3 68.6L94.5 68.9L95.6 69.0L96.8 68.9L98.0 68.8L99.1 68.6L100.3 68.4L101.5 68.3L102.6 68.3L103.8 68.3L105.0 68.3L106.1 68.3L107.3 68.5L108.5 68.7L109.6 69.1L110.8 69.6L111.9 70.3L113.1 71.2L114.3 72.3L115.4 73.3L116.6 74.3L117.8 75.3L118.2 75.5L118.9 77.5L120.1 79.1L121.3 80.0L122.4 80.3L123.6 80.2L124.8 80.0L125.9 79.6L127.1 79.0L128.3 78.3L129.4 77.6L130.6 77.0L131.8 76.4L132.9 76.1L134.1 76.0L135.3 75.9L136.4 75.9L137.6 75.5L137.6 75.5L138.8 74.6L139.9 73.6L141.1 72.7L142.3 71.8L143.4 70.7L144.6 69.6L145.8 68.5L146.9 67.3L148.1 66.0L149.3 64.7L150.4 63.5L151.6 62.3L152.8 61.3L153.9 60.5L155.1 59.9L156.3 59.4L157.4 59.2L158.6 59.0L159.8 58.9L160.9 58.9L162.1 59.0L163.3 59.3L164.4 59.4L165.6 59.6L166.8 59.7L167.9 60.0L169.1 60.2L170.3 60.5L171.4 60.7L172.6 60.8L173.8 60.6L174.9 60.5L176.1 60.7L177.3 61.4L178.4 62.8L179.6 65.0L180.8 70.2L181.7 75.5L181.9 75.6L183.1 75.7L184.2 75.7L185.4 75.8L186.6 77.7L187.7 83.2L188.9 92.4L189.7 101.0L190.1 102.1L191.2 105.4L192.4 108.4L193.6 111.4L194.7 114.3L195.9 117.0L196.8 119.0L197.1 119.6L198.2 122.0L199.4 124.2L200.6 126.1L201.7 127.8L202.9 129.4L204.1 130.8L205.2 132.2L206.0 133.0L206.4 134.3L207.6 137.8L208.7 141.9L209.4 144.5L208.7 146.3L207.6 149.1L206.4 151.5L205.2 153.3L204.1 154.8L202.9 156.2L201.7 157.4L200.6 158.6L199.4 159.8L198.2 161.0L197.1 162.5L197.0 162.5L195.9 163.6L194.7 164.6L193.6 165.7L192.4 167.0L191.2 168.7L190.1 170.7L188.9 172.6L187.7 174.5L186.6 176.2L186.4 176.5L185.4 179.5L184.2 182.8L183.1 185.4L181.9 187.4L181.6 188.0L180.8 193.9L179.6 197.5L179.5 197.6L179.6 198.0L180.8 203.3L181.9 208.6L182.1 209.8L183.1 210.6L184.2 211.9L185.4 213.3L186.6 214.6L186.9 215.1L187.0 220.0L186.6 220.0L185.4 220.0L184.2 220.0L183.1 220.0L181.9 220.0L180.8 220.0L179.6 220.0L178.4 220.0L177.3 220.0L176.1 220.0L174.9 220.0L173.8 220.0L172.6 220.0L171.4 220.0L170.3 220.0L169.1 220.0L168.8 220.0L169.1 219.4L170.3 216.7L170.7 215.1L171.4 213.8L172.6 212.0L173.8 210.5L174.6 209.8L173.8 206.5L172.6 204.0L171.4 202.7L170.3 201.9L169.1 201.4L167.9 200.9L166.8 200.6L165.6 200.3L164.4 200.1L163.3 199.8L162.1 199.6L160.9 199.4L159.8 199.1L158.6 198.7L157.4 198.2L156.8 197.6L156.3 197.1L155.1 195.6L153.9 193.9L152.8 192.2L151.6 190.2L150.4 188.3L150.3 188.0L149.3 185.1L148.1 181.6L146.9 178.3L146.4 176.5L145.8 174.0L144.6 169.1L143.4 165.1L142.6 162.5L142.3 161.1L141.1 156.7L139.9 153.5L138.8 151.2L137.6 149.3L136.4 147.5L135.3 145.3L134.9 144.5L134.1 142.1L132.9 138.5L131.8 135.2L130.9 133.0L130.6 132.3L129.4 129.7L128.3 127.0L127.1 124.1L125.9 121.6L124.8 119.5L124.5 119.0L123.6 117.0L122.4 115.6L121.3 114.9L120.1 114.4L118.9 114.1L117.8 114.3L116.6 114.8L115.4 115.5L114.3 116.2L113.1 117.1L111.9 118.2L111.2 119.0L110.8 119.2L109.6 119.9L108.5 120.7L107.3 121.7L106.1 123.0L105.0 124.8L103.8 127.2L102.6 130.8L102.1 133.0L101.6 144.5L101.5 145.2L100.3 153.7L99.1 160.2L98.7 162.5L98.0 164.1L96.8 167.0L95.6 169.8L94.5 172.3L93.3 174.8L92.5 176.5L92.1 177.0L91.0 178.3L89.8 179.4L88.6 180.6L87.5 181.8L86.3 183.1L85.1 184.5L84.0 186.1L82.8 187.8L82.7 188.0L81.6 189.9L80.5 191.9L79.3 193.8L78.1 195.5L77.0 196.9L76.2 197.6L75.8 198.3L74.6 200.1L73.5 201.9L72.3 204.0L71.1 206.3L70.0 208.7L69.4 209.8L70.0 210.7L71.1 213.1L72.0 215.1L72.3 216.2L73.4 220.0L72.3 220.0L71.1 220.0L70.0 220.0L68.8 220.0L67.6 220.0L66.5 220.0L65.3 220.0L64.1 220.0L63.0 220.0L61.8 220.0L60.6 220.0L59.5 220.0L58.3 220.0L57.1 220.0L56.0 220.0L54.8 220.0L53.6 220.0L52.5 220.0L51.3 220.0L50.1 220.0L49.0 220.0L47.8 220.0L46.6 220.0L45.5 220.0L44.3 220.0L43.1 220.0L42.0 220.0L40.8 220.0L39.6 220.0L38.5 220.0L37.3 220.0L36.2 220.0L35.0 220.0L34.1 220.0L33.8 219.8L32.7 219.2L31.5 218.7L30.3 218.2L29.2 217.6L28.0 217.1L26.8 216.6L25.7 216.1L24.5 215.6L23.3 215.2L23.1 215.1L23.3 210.1L23.3 209.8L23.3 208.9L23.2 197.6L22.2 196.6L21.0 195.5L19.8 194.6L18.7 193.6L17.5 192.7L16.3 191.8L15.2 191.0L14.0 190.2L12.8 189.4L11.7 188.6L10.6 188.0L10.5 187.9L9.3 187.4L8.2 186.9L7.0 186.5L5.8 186.2L4.7 185.9L3.5 185.7L2.3 185.4L1.2 185.2L0.0 184.9L0.0 176.5L0.0 162.5L0.0 144.5L0.0 133.0L0.0 119.0L0.0 101.0L0.0 75.5L0.0 53.2L0.0 32.0L0.0 0.0ZM187.7 0.0L188.9 0.0L190.1 0.0L191.2 0.0L192.4 0.0L193.6 0.0L194.7 0.0L195.9 0.0L197.1 0.0L198.2 0.0L199.4 0.0L200.6 0.0L201.7 0.0L201.9 0.0L201.7 0.5L200.6 5.2L199.4 9.6L198.2 14.1L197.1 18.1L195.9 21.2L194.7 24.6L193.6 29.1L192.4 31.8L191.2 32.0L190.8 32.0L190.1 32.1L188.9 32.1L188.9 32.0L187.7 16.3L187.2 0.0Z" fill="#7B9DF0" fill-rule="evenodd"/>
<path d="M1.2 0.0L2.3 0.0L3.5 0.0L4.7 0.0L5.8 0.0L7.0 0.0L8.2 0.0L9.3 0.0L10.5 0.0L11.7 0.0L12.8 0.0L14.0 0.0L15.2 0.0L16.3 0.0L17.5 0.0L18.7 0.0L19.8 0.0L21.0 0.0L22.2 0.0L23.3 0.0L24.5 0.0L25.7 0.0L26.8 0.0L28.0 0.0L29.2 0.0L30.3 0.0L31.5 0.0L32.7 0.0L33.8 0.0L35.0 0.0L36.2 0.0L37.3 0.0L38.5 0.0L39.6 0.0L40.8 0.0L42.0 0.0L43.1 0.0L44.3 0.0L45.5 0.0L46.6 0.0L47.8 0.0L49.0 0.0L50.1 0.0L51.3 0.0L52.5 0.0L53.6 0.0L54.8 0.0L56.0 0.0L57.1 0.0L58.3 0.0L59.5 0.0L60.6 0.0L61.6 0.0L60.6 3.0L59.5 6.3L58.3 9.4L57.1 12.4L56.0 15.7L54.8 19.5L53.6 24.3L52.5 29.7L52.0 32.0L51.3 36.4L50.1 42.1L49.0 46.5L47.8 50.6L47.1 53.2L47.8 60.0L49.0 65.6L50.1 69.5L51.3 72.8L52.5 74.8L53.6 75.5L53.7 75.5L54.8 75.7L56.0 75.7L57.1 75.6L57.3 75.5L58.3 74.8L59.5 73.8L60.6 72.5L61.8 70.9L63.0 69.6L64.1 68.4L65.3 67.3L66.5 66.7L67.6 66.4L68.8 66.2L70.0 66.1L71.1 66.3L72.3 66.6L73.5 67.0L74.6 67.7L75.8 68.7L77.0 69.5L78.1 69.9L79.3 70.1L80.5 70.5L81.6 71.4L82.8 72.7L84.0 74.1L85.1 75.3L85.4 75.5L86.3 76.3L87.5 77.6L88.6 79.2L89.8 81.0L91.0 82.9L92.1 84.9L93.3 87.3L94.5 90.1L95.6 93.3L96.8 97.9L97.4 101.0L96.8 114.3L96.7 119.0L96.0 133.0L95.6 138.3L95.1 144.5L94.5 148.1L93.3 154.3L92.1 159.6L91.4 162.5L91.0 163.4L89.8 166.0L88.6 168.4L87.5 170.7L86.3 172.9L85.1 174.7L84.0 176.3L83.8 176.5L82.8 177.8L81.6 179.4L80.5 181.4L79.3 184.1L78.1 186.5L77.2 188.0L77.0 188.3L75.8 189.8L74.6 191.0L73.5 192.0L72.3 192.9L71.1 193.8L70.0 194.7L68.8 195.7L67.6 196.7L66.5 197.4L65.7 197.6L65.3 198.0L64.1 198.9L63.0 199.6L61.8 199.9L60.6 200.3L59.5 200.7L58.3 201.0L57.1 201.2L56.0 201.4L54.8 201.6L53.6 201.7L52.5 201.8L51.3 201.8L50.1 201.8L49.0 201.7L47.8 201.2L46.6 200.5L45.5 199.7L44.3 198.6L43.5 197.6L43.1 197.5L42.0 197.1L40.8 196.5L39.6 195.6L38.5 194.4L37.3 193.1L36.2 191.6L35.0 190.1L33.8 188.7L33.2 188.0L32.7 187.5L31.5 186.3L30.3 184.2L29.2 180.7L28.0 177.7L26.8 177.2L25.7 176.9L24.5 176.8L23.3 176.9L22.2 177.1L21.0 177.1L19.8 176.8L19.3 176.5L18.7 176.3L17.5 175.9L16.3 175.5L15.2 175.0L14.0 174.5L12.8 174.0L11.7 173.5L10.5 172.9L9.3 172.5L8.2 172.0L7.0 171.6L5.8 171.2L4.7 170.9L3.5 170.6L2.3 170.2L1.2 169.8L0.0 169.5L0.0 162.5L0.0 144.5L0.0 133.0L0.0 119.0L0.0 114.0L1.2 111.2L2.3 109.0L3.5 107.1L4.7 105.6L5.8 104.2L7.0 102.9L8.2 101.5L8.5 101.0L8.2 100.5L7.0 99.3L5.8 98.1L4.7 96.9L3.5 95.8L2.3 94.9L1.2 94.2L0.0 93.6L0.0 75.5L0.0 53.2L0.0 32.0L0.0 0.0ZM151.6 74.0L152.8 72.6L153.9 71.6L155.1 70.9L156.3 70.4L157.4 70.1L158.6 69.8L159.8 69.6L160.9 69.5L162.1 69.6L163.3 69.9L164.4 70.2L165.6 70.5L166.8 71.0L167.9 71.6L169.1 72.6L170.3 74.0L171.4 75.5L171.4 75.6L172.6 76.1L173.8 76.7L174.9 77.4L176.1 78.5L177.3 79.9L178.4 81.1L179.6 82.3L180.8 83.6L181.9 85.2L183.1 87.2L184.2 90.2L185.4 94.9L186.3 101.0L186.6 101.9L187.7 105.8L188.9 109.8L190.1 113.7L191.2 117.9L191.6 119.0L192.4 123.6L193.6 129.0L194.6 133.0L194.7 134.6L195.9 142.9L196.2 144.5L195.9 145.1L194.7 147.7L193.6 150.3L192.4 152.9L191.2 155.6L190.1 158.4L188.9 160.9L188.2 162.5L187.7 163.5L186.6 166.4L185.4 168.9L184.2 171.3L183.1 173.5L181.9 175.3L181.1 176.5L180.8 177.6L179.6 180.4L178.4 182.4L177.3 183.8L176.1 185.0L174.9 185.8L173.8 186.5L172.6 187.0L171.4 187.4L170.3 187.7L169.1 187.9L168.8 188.0L167.9 188.1L166.8 188.1L165.6 188.0L164.4 188.0L163.7 188.0L163.3 187.9L162.1 187.7L160.9 187.5L159.8 187.2L158.6 186.7L157.4 186.0L156.3 185.1L155.1 183.8L153.9 182.2L152.8 180.3L151.6 178.2L150.7 176.5L150.4 176.0L149.3 173.5L148.1 170.5L146.9 166.9L145.8 162.5L145.8 162.4L144.6 153.3L143.4 146.1L143.0 144.5L142.3 143.1L141.1 140.8L139.9 138.1L138.8 134.9L138.1 133.0L137.6 131.6L136.4 128.7L135.3 125.9L134.1 123.2L132.9 120.3L132.4 119.0L131.8 111.3L130.7 101.0L131.8 97.9L132.9 95.1L134.1 92.9L135.3 90.9L136.4 89.3L137.6 87.8L138.8 86.2L139.9 84.9L141.1 83.8L142.3 82.8L143.4 81.8L144.6 80.8L145.8 79.8L146.9 78.8L148.1 77.7L149.3 76.6L150.4 75.6L150.5 75.5ZM40.8 214.0L42.0 213.2L43.1 212.6L44.3 212.1L45.5 211.7L46.6 211.4L47.8 211.2L49.0 211.0L50.1 210.9L51.3 210.8L52.5 210.7L53.6 210.8L54.8 210.8L56.0 211.0L57.1 211.2L58.3 211.6L59.5 212.0L60.6 212.5L61.8 213.1L63.0 213.7L64.1 214.4L65.0 215.1L64.1 219.2L63.8 220.0L63.0 220.0L61.8 220.0L60.6 220.0L59.5 220.0L58.3 220.0L57.1 220.0L56.0 220.0L54.8 220.0L53.6 220.0L52.5 220.0L51.3 220.0L50.1 220.0L49.0 220.0L47.8 220.0L46.6 220.0L45.5 220.0L44.3 220.0L43.1 220.0L42.3 220.0L42.0 218.8L40.8 216.2L39.8 215.1Z" fill="#B0E0E6" fill-rule="evenodd"/>
<path d="M1.2 0.0L2.3 0.0L3.5 0.0L4.7 0.0L5.8 0.0L7.0 0.0L8.2 0.0L9.3 0.0L10.5 0.0L11.7 0.0L12.8 0.0L14.0 0.0L15.2 0.0L16.3 0.0L17.5 0.0L18.7 0.0L19.8 0.0L21.0 0.0L22.2 0.0L23.3 0.0L24.5 0.0L25.7 0.0L26.8 0.0L28.0 0.0L29.2 0.0L30.3 0.0L31.5 0.0L32.7 0.0L33.8 0.0L35.0 0.0L36.2 0.0L37.3 0.0L38.5 0.0L39.6 0.0L40.8 0.0L42.0 0.0L43.1 0.0L44.3 0.0L45.5 0.0L46.6 0.0L47.8 0.0L49.0 0.0L50.1 0.0L51.3 0.0L52.5 0.0L53.6 0.0L54.6 0.0L53.6 3.3L52.5 8.3L51.3 14.3L50.1 20.7L49.0 27.0L48.1 32.0L47.8 33.2L46.6 38.4L45.5 42.7L44.3 46.4L43.1 50.1L42.1 53.2L42.0 54.7L40.8 63.0L39.6 67.5L38.5 70.5L37.3 73.4L36.5 75.5L37.3 79.0L38.5 81.3L39.6 82.1L40.8 82.5L42.0 82.8L43.1 83.2L44.3 83.5L45.5 83.7L46.6 83.7L47.8 83.5L49.0 83.5L50.1 83.6L51.3 83.8L52.5 83.8L53.6 83.6L54.8 83.4L56.0 83.1L57.1 82.8L58.3 82.2L59.5 81.7L60.6 80.9L61.8 80.0L63.0 79.1L64.1 78.0L65.3 77.0L66.5 76.3L67.6 75.8L68.7 75.5L68.8 75.5L70.0 75.3L71.1 75.5L71.1 75.5L72.3 75.9L73.5 76.3L74.6 76.8L75.8 77.4L77.0 77.8L78.1 78.3L79.3 78.9L80.5 79.8L81.6 81.0L82.8 82.7L84.0 84.4L85.1 86.1L86.3 88.0L87.5 90.2L88.6 92.9L89.8 96.0L91.0 99.5L91.4 101.0L92.1 113.0L92.4 119.0L92.1 125.0L91.7 133.0L91.0 139.2L90.3 144.5L89.8 147.1L88.6 152.6L87.5 156.6L86.3 159.9L85.3 162.5L85.1 162.8L84.0 165.8L82.8 168.4L81.6 170.7L80.5 172.8L79.3 175.2L78.7 176.5L78.1 178.2L77.0 180.8L75.8 182.5L74.6 183.9L73.5 184.9L72.3 185.6L71.1 186.2L70.0 186.7L68.8 187.4L67.9 188.0L67.6 188.2L66.5 189.1L65.3 189.8L64.1 190.3L63.0 190.7L61.8 190.9L60.6 191.0L59.5 191.1L58.3 191.1L57.1 191.1L56.0 191.0L54.8 191.0L53.6 190.8L52.5 190.5L51.3 190.1L50.1 189.4L49.0 188.6L48.2 188.0L47.8 187.7L46.6 187.1L45.5 186.4L44.3 185.7L43.1 184.9L42.0 184.1L40.8 183.3L39.6 182.5L38.5 181.5L37.3 180.3L36.2 178.9L35.0 177.0L34.8 176.5L33.8 175.6L32.7 174.3L31.5 173.3L30.3 172.3L29.2 171.5L28.0 170.8L26.8 170.3L25.7 169.8L24.5 169.1L23.3 168.4L22.2 167.6L21.0 166.8L19.8 166.1L18.7 165.4L17.5 164.8L16.3 164.2L15.2 163.6L14.0 163.0L12.9 162.5L12.8 162.5L11.7 161.4L10.5 160.2L9.3 159.2L8.2 158.1L7.0 156.7L5.8 155.0L4.7 152.8L3.5 150.6L2.3 148.6L1.2 146.8L0.0 145.6L0.0 144.5L0.0 144.0L1.2 143.5L2.3 142.5L3.5 140.9L4.7 138.6L5.8 135.1L6.4 133.0L7.0 131.8L8.2 129.6L9.3 127.7L10.5 125.9L11.7 124.4L12.8 123.1L14.0 121.9L15.2 120.8L16.3 119.8L17.3 119.0L17.5 118.7L18.7 116.5L19.8 114.3L21.0 112.0L22.2 109.8L23.3 107.6L24.5 105.7L25.7 104.1L26.8 102.8L28.0 101.6L28.8 101.0L28.0 98.9L26.8 96.3L25.7 94.2L24.5 92.3L23.3 90.4L22.2 88.6L21.0 87.0L19.8 85.4L18.7 83.9L17.5 82.3L16.3 80.7L15.2 79.0L14.0 77.5L12.8 76.1L12.2 75.5L11.7 75.3L10.5 74.8L9.3 74.2L8.2 73.5L7.0 72.8L5.8 71.9L4.7 70.9L3.5 70.3L2.3 69.9L1.2 69.6L0.0 69.4L0.0 53.2L0.0 32.0L0.0 0.0ZM137.6 100.0L138.8 97.5L139.9 95.4L141.1 93.7L142.3 92.1L143.4 90.7L144.6 89.2L145.8 87.7L146.9 86.4L148.1 85.0L149.3 83.6L150.4 82.4L151.6 81.3L152.8 80.3L153.9 79.5L155.1 79.0L156.3 78.6L157.4 78.3L158.6 78.1L159.8 77.9L160.9 77.8L162.1 77.8L163.3 77.9L164.4 78.1L165.6 78.2L166.8 78.5L167.9 78.8L169.1 79.3L170.3 79.9L171.4 80.6L172.6 81.3L173.8 82.1L174.9 83.1L176.1 84.4L177.3 86.1L178.4 87.8L179.6 89.7L180.8 91.9L181.9 94.7L183.1 98.7L183.6 101.0L184.2 103.0L185.4 107.0L186.6 111.3L187.7 115.9L188.6 119.0L188.9 121.5L190.1 129.3L190.6 133.0L190.9 144.5L190.1 147.2L188.9 150.9L187.7 154.3L186.6 157.5L185.4 160.5L184.6 162.5L184.2 163.5L183.1 166.5L181.9 168.9L180.8 171.0L179.6 173.0L178.4 174.7L177.3 176.1L176.9 176.5L176.1 177.7L174.9 178.8L173.8 179.5L172.6 180.1L171.4 180.4L170.3 180.6L169.1 180.8L167.9 180.9L166.8 180.8L165.6 180.7L164.4 180.5L163.3 180.3L162.1 179.9L160.9 179.3L159.8 178.4L158.6 177.1L158.2 176.5L157.4 175.8L156.3 174.7L155.1 173.6L153.9 172.2L152.8 170.6L151.6 168.5L150.4 165.7L149.3 162.6L149.2 162.5L148.1 157.3L146.9 149.9L146.2 144.5L145.8 143.2L144.6 139.7L143.4 136.3L142.3 133.0L142.3 132.8L141.1 127.6L139.9 123.4L138.8 119.8L138.5 119.0L137.6 106.9L137.2 101.0Z" fill="#20B2AA" fill-rule="evenodd"/>
<path d="M1.2 0.0L2.3 0.0L3.5 0.0L4.7 0.0L5.8 0.0L7.0 0.0L8.2 0.0L9.3 0.0L10.5 0.0L11.7 0.0L12.8 0.0L14.0 0.0L15.2 0.0L16.3 0.0L17.5 0.0L18.7 0.0L19.8 0.0L21.0 0.0L22.2 0.0L23.3 0.0L24.5 0.0L25.7 0.0L26.8 0.0L28.0 0.0L29.2 0.0L30.3 0.0L31.5 0.0L32.7 0.0L33.8 0.0L35.0 0.0L36.2 0.0L37.3 0.0L38.5 0.0L39.6 0.0L40.8 0.0L42.0 0.0L43.1 0.0L44.3 0.0L45.5 0.0L46.6 0.0L47.8 0.0L49.0 0.0L50.1 0.0L50.2 0.0L50.1 0.1L49.0 6.8L47.8 13.0L46.6 19.5L45.5 25.8L44.3 31.1L44.1 32.0L43.1 34.9L42.0 38.3L40.8 41.4L39.6 44.4L38.5 47.4L37.3 50.4L36.2 53.1L36.1 53.2L35.0 55.8L33.8 57.5L32.7 58.9L31.5 60.2L30.3 61.5L29.2 62.8L28.0 63.8L26.8 64.7L25.7 65.4L24.5 65.9L23.3 66.2L22.2 66.3L21.0 66.3L19.8 66.2L18.7 66.0L17.5 65.7L16.3 65.4L15.2 65.0L14.0 64.6L12.8 64.2L11.7 63.8L10.5 63.4L9.3 62.8L8.2 62.2L7.0 61.5L5.8 60.6L4.7 59.8L3.5 59.0L2.3 58.4L1.2 57.8L0.0 57.3L0.0 53.2L0.0 32.0L0.0 0.0ZM44.3 99.6L45.5 98.3L46.6 96.9L47.8 95.5L49.0 94.4L50.1 93.6L51.3 92.9L52.5 92.3L53.6 91.7L54.8 91.1L56.0 90.6L57.1 89.9L58.3 89.2L59.5 88.5L60.6 87.6L61.8 86.6L63.0 85.5L64.1 84.2L65.3 82.9L66.5 81.9L67.6 81.2L68.8 80.7L70.0 80.5L71.1 80.7L72.3 81.1L73.5 81.6L74.6 82.1L75.8 82.7L77.0 83.3L78.1 84.3L79.3 86.0L80.5 88.0L81.6 90.0L82.8 92.2L84.0 94.5L85.1 97.0L86.3 99.7L86.8 101.0L87.5 103.9L88.6 111.3L89.4 119.0L88.6 132.7L88.6 133.0L87.5 142.4L87.2 144.5L86.3 148.2L85.1 152.4L84.0 156.0L82.8 159.3L81.7 162.5L81.6 162.7L80.5 165.8L79.3 168.9L78.1 171.9L77.0 174.1L75.8 175.7L75.1 176.5L74.6 177.2L73.5 178.6L72.3 179.5L71.1 180.3L70.0 181.0L68.8 181.8L67.6 182.5L66.5 183.2L65.3 183.8L64.1 184.3L63.0 184.6L61.8 184.8L60.6 184.9L59.5 185.0L58.3 185.0L57.1 184.9L56.0 184.9L54.8 184.8L53.6 184.6L52.5 184.4L51.3 184.0L50.1 183.4L49.0 182.7L47.8 182.1L46.6 181.4L45.5 180.6L44.3 179.7L43.1 178.6L42.0 177.4L41.1 176.5L40.8 176.3L39.6 175.5L38.5 174.6L37.3 173.6L36.2 172.6L35.0 171.5L33.8 170.3L32.7 169.0L31.5 167.9L30.3 166.9L29.2 165.9L28.0 165.0L26.8 164.0L25.7 162.9L25.3 162.5L24.5 161.0L23.3 158.8L22.2 156.7L21.0 155.0L19.8 153.6L18.7 152.4L17.5 150.9L16.3 148.8L15.2 146.0L14.6 144.5L15.2 141.5L16.3 137.0L17.5 134.3L18.2 133.0L18.7 132.6L19.8 131.4L21.0 130.0L22.2 128.4L23.3 126.6L24.5 124.8L25.7 122.9L26.8 121.0L28.0 119.1L28.0 119.0L29.2 116.5L30.3 114.1L31.5 112.2L32.7 110.6L33.8 109.2L35.0 107.9L36.2 106.5L37.3 105.2L38.5 104.1L39.6 103.2L40.8 102.4L42.0 101.7L43.1 101.0L43.2 101.0ZM143.4 99.5L144.6 97.5L145.8 95.7L146.9 93.9L148.1 92.3L149.3 90.7L150.4 89.2L151.6 87.9L152.8 86.7L153.9 85.8L155.1 85.0L156.3 84.4L157.4 83.9L158.6 83.5L159.8 83.2L160.9 83.0L162.1 83.0L163.3 83.0L164.4 83.1L165.6 83.2L166.8 83.5L167.9 83.8L169.1 84.2L170.3 84.9L171.4 85.7L172.6 86.5L173.8 87.5L174.9 88.7L176.1 90.3L177.3 92.3L178.4 94.5L179.6 97.1L180.8 100.2L181.0 101.0L181.9 103.3L183.1 106.9L184.2 111.1L185.4 115.9L186.2 119.0L186.6 121.8L187.7 130.1L188.1 133.0L188.0 144.5L187.7 145.3L186.6 149.4L185.4 152.9L184.2 156.3L183.1 159.6L181.9 162.5L181.9 162.6L180.8 165.0L179.6 167.1L178.4 169.0L177.3 170.6L176.1 172.0L174.9 173.0L173.8 173.6L172.6 174.1L171.4 174.3L170.3 174.4L169.1 174.5L167.9 174.5L166.8 174.4L165.6 174.2L164.4 173.9L163.3 173.5L162.1 173.0L160.9 172.3L159.8 171.4L158.6 170.2L157.4 169.0L156.3 167.7L155.1 166.3L153.9 164.6L152.9 162.5L152.8 162.2L151.6 158.4L150.4 153.7L149.3 147.8L148.7 144.5L148.1 142.2L146.9 139.1L145.8 135.8L144.9 133.0L144.6 129.6L143.4 122.1L142.8 119.0L142.5 101.0Z" fill="#BEF264" fill-rule="evenodd"/>
<path d="M1.2 0.0L2.3 0.0L3.5 0.0L4.7 0.0L5.8 0.0L7.0 0.0L8.2 0.0L9.3 0.0L10.5 0.0L11.7 0.0L12.8 0.0L14.0 0.0L15.2 0.0L16.3 0.0L17.5 0.0L18.7 0.0L19.8 0.0L21.0 0.0L22.2 0.0L23.3 0.0L24.5 0.0L25.7 0.0L26.8 0.0L28.0 0.0L29.2 0.0L30.3 0.0L31.5 0.0L32.7 0.0L33.8 0.0L35.0 0.0L36.2 0.0L37.3 0.0L38.5 0.0L39.6 0.0L40.8 0.0L42.0 0.0L43.1 0.0L44.3 0.0L45.5 0.0L46.4 0.0L45.5 5.1L44.3 11.2L43.1 16.7L42.0 21.6L40.8 25.6L39.6 28.9L38.5 31.7L38.3 32.0L37.3 34.9L36.2 38.1L35.0 40.7L33.8 42.6L32.7 44.0L31.5 45.3L30.3 46.6L29.2 47.8L28.0 48.8L26.8 49.7L25.7 50.7L24.5 51.5L23.3 52.2L22.2 52.7L21.0 53.0L20.1 53.2L19.8 53.2L18.7 53.4L17.5 53.4L16.3 53.4L15.2 53.2L15.0 53.2L14.0 53.0L12.8 52.9L11.7 52.7L10.5 52.4L9.3 52.1L8.2 51.8L7.0 51.4L5.8 50.9L4.7 50.4L3.5 50.0L2.3 49.5L1.2 49.1L0.0 48.7L0.0 32.0L0.0 0.0ZM52.5 100.8L53.6 99.8L54.8 98.9L56.0 98.0L57.1 97.1L58.3 96.2L59.5 95.3L60.6 94.3L61.8 93.2L63.0 92.0L64.1 90.4L65.3 88.8L66.5 87.6L67.6 86.7L68.8 86.0L70.0 85.7L71.1 85.9L72.3 86.4L73.5 87.0L74.6 87.5L75.8 88.1L77.0 88.8L78.1 90.3L79.3 93.0L80.5 96.3L81.6 99.0L82.5 101.0L82.8 101.8L84.0 105.3L85.1 109.8L86.3 115.7L86.8 119.0L86.3 129.1L86.1 133.0L85.1 140.5L84.5 144.5L84.0 146.5L82.8 150.3L81.6 154.0L80.5 157.9L79.3 162.5L79.3 162.5L78.1 166.1L77.0 168.7L75.8 170.4L74.6 171.9L73.5 173.1L72.3 174.0L71.1 174.8L70.0 175.5L68.8 176.2L68.2 176.5L67.6 176.9L66.5 177.6L65.3 178.4L64.1 179.0L63.0 179.4L61.8 179.5L60.6 179.5L59.5 179.6L58.3 179.5L57.1 179.4L56.0 179.3L54.8 179.2L53.6 179.1L52.5 178.9L51.3 178.5L50.1 177.8L49.0 177.1L48.0 176.5L47.8 176.4L46.6 175.9L45.5 175.3L44.3 174.5L43.1 173.7L42.0 172.8L40.8 171.9L39.6 170.8L38.5 169.7L37.3 168.6L36.2 167.5L35.0 166.2L33.8 165.0L32.7 163.7L31.5 162.5L31.5 162.5L30.3 159.9L29.2 157.3L28.0 154.7L26.8 152.2L25.7 149.9L24.5 147.7L23.3 145.7L22.6 144.5L23.3 142.8L24.5 139.9L25.7 136.7L26.8 133.0L26.8 132.9L28.0 130.5L29.2 128.1L30.3 125.9L31.5 123.7L32.7 121.9L33.8 120.1L34.5 119.0L35.0 118.2L36.2 116.2L37.3 114.2L38.5 112.6L39.6 111.1L40.8 109.9L42.0 108.8L43.1 107.7L44.3 106.8L45.5 106.0L46.6 105.1L47.8 104.2L49.0 103.3L50.1 102.4L51.3 101.6L52.3 101.0ZM148.1 99.6L149.3 97.7L150.4 96.0L151.6 94.5L152.8 93.2L153.9 92.0L155.1 91.0L156.3 90.2L157.4 89.5L158.6 88.9L159.8 88.5L160.9 88.2L162.1 88.1L163.3 88.1L164.4 88.1L165.6 88.3L166.8 88.5L167.9 88.7L169.1 89.2L170.3 89.9L171.4 90.8L172.6 91.7L173.8 92.9L174.9 94.4L176.1 96.3L177.3 98.6L178.3 101.0L178.4 101.2L179.6 103.7L180.8 106.6L181.9 110.1L183.1 114.3L184.2 119.0L184.2 119.4L185.4 127.7L186.2 133.0L185.7 144.5L185.4 145.4L184.2 149.1L183.1 152.7L181.9 155.9L180.8 158.8L179.6 161.3L178.9 162.5L178.4 163.3L177.3 165.1L176.1 166.7L174.9 167.8L173.8 168.6L172.6 169.1L171.4 169.4L170.3 169.4L169.1 169.5L167.9 169.4L166.8 169.2L165.6 168.8L164.4 168.3L163.3 167.6L162.1 166.8L160.9 165.9L159.8 164.8L158.6 163.5L157.7 162.5L157.4 162.2L156.3 160.6L155.1 158.5L153.9 155.8L152.8 152.1L151.6 147.1L151.1 144.5L150.4 140.9L149.3 136.3L148.1 133.8L147.7 133.0L146.9 125.3L146.4 119.0L146.9 107.0L147.3 101.0Z" fill="#99BE32" fill-rule="evenodd"/>
<path d="M1.2 0.0L2.3 0.0L3.5 0.0L4.7 0.0L5.8 0.0L7.0 0.0L8.2 0.0L9.3 0.0L10.5 0.0L11.7 0.0L12.8 0.0L14.0 0.0L15.2 0.0L16.3 0.0L17.5 0.0L18.7 0.0L19.8 0.0L21.0 0.0L22.2 0.0L23.3 0.0L24.5 0.0L25.7 0.0L26.8 0.0L28.0 0.0L29.2 0.0L30.3 0.0L31.5 0.0L32.7 0.0L33.8 0.0L35.0 0.0L36.2 0.0L37.3 0.0L38.5 0.0L39.6 0.0L40.8 0.0L42.0 0.0L42.7 0.0L42.0 3.9L40.8 9.5L39.6 14.2L38.5 18.1L37.3 21.5L36.2 24.7L35.0 27.5L33.8 29.9L32.7 32.0L32.6 32.0L31.5 34.1L30.3 36.1L29.2 38.0L28.0 39.5L26.8 40.7L25.7 41.7L24.5 42.7L23.3 43.5L22.2 44.3L21.0 44.8L19.8 45.2L18.7 45.4L17.5 45.7L16.3 45.9L15.2 46.0L14.0 46.0L12.8 46.0L11.7 45.9L10.5 45.7L9.3 45.4L8.2 45.1L7.0 44.7L5.8 44.2L4.7 43.8L3.5 43.3L2.3 42.9L1.2 42.5L0.0 42.1L0.0 32.0L0.0 0.0ZM61.8 99.8L63.0 98.5L64.1 96.7L65.3 94.7L66.5 93.2L67.6 92.1L68.8 91.2L70.0 90.8L71.1 91.1L72.3 91.7L73.5 92.4L74.6 92.9L75.8 93.5L77.0 94.3L78.1 96.3L79.3 100.1L79.6 101.0L80.5 104.8L81.6 108.8L82.8 112.8L84.0 117.6L84.3 119.0L84.0 131.2L83.9 133.0L82.8 139.8L81.9 144.5L81.6 145.4L80.5 149.5L79.3 154.3L78.1 159.4L77.3 162.5L77.0 163.2L75.8 165.1L74.6 166.7L73.5 168.0L72.3 169.1L71.1 170.1L70.0 171.0L68.8 171.9L67.6 172.7L66.5 173.4L65.3 174.0L64.1 174.6L63.0 174.8L61.8 174.9L60.6 174.9L59.5 174.9L58.3 174.8L57.1 174.8L56.0 174.7L54.8 174.6L53.6 174.4L52.5 174.2L51.3 173.9L50.1 173.4L49.0 172.9L47.8 172.3L46.6 171.8L45.5 171.2L44.3 170.4L43.1 169.5L42.0 168.5L40.8 167.4L39.6 166.2L38.5 164.9L37.3 163.6L36.3 162.5L36.2 162.2L35.0 159.5L33.8 156.6L32.7 153.6L31.5 150.4L30.3 147.3L29.3 144.5L30.3 139.7L31.5 134.5L31.9 133.0L32.7 131.5L33.8 129.4L35.0 127.4L36.2 125.3L37.3 123.2L38.5 121.1L39.6 119.1L39.7 119.0L40.8 117.4L42.0 115.9L43.1 114.5L44.3 113.2L45.5 112.1L46.6 111.0L47.8 110.1L49.0 109.1L50.1 108.1L51.3 107.1L52.5 106.3L53.6 105.5L54.8 104.7L56.0 104.0L57.1 103.2L58.3 102.4L59.5 101.7L60.6 101.0L60.7 101.0ZM152.8 99.6L153.9 98.2L155.1 97.0L156.3 95.9L157.4 95.1L158.6 94.4L159.8 93.8L160.9 93.4L162.1 93.2L163.3 93.2L164.4 93.2L165.6 93.3L166.8 93.4L167.9 93.7L169.1 94.1L170.3 94.9L171.4 95.9L172.6 97.0L173.8 98.4L174.9 100.1L175.4 101.0L176.1 101.9L177.3 104.0L178.4 106.5L179.6 109.4L180.8 112.8L181.9 116.8L182.5 119.0L183.1 123.8L184.2 132.7L184.3 133.0L184.2 133.8L183.5 144.5L183.1 145.7L181.9 149.3L180.8 152.6L179.6 155.5L178.4 157.8L177.3 159.8L176.1 161.5L175.0 162.5L174.9 162.6L173.8 163.5L172.6 164.2L171.4 164.4L170.3 164.4L169.1 164.4L167.9 164.4L166.8 164.1L165.6 163.4L164.4 162.6L164.3 162.5L163.3 161.9L162.1 161.0L160.9 159.9L159.8 158.6L158.6 157.1L157.4 155.3L156.3 153.1L155.1 150.3L153.9 146.8L153.3 144.5L152.8 142.1L151.6 135.1L151.2 133.0L150.4 124.7L149.7 119.0L150.4 110.1L151.6 101.5L151.7 101.0Z" fill="#F5E6BE" fill-rule="evenodd"/>
<path d="M1.2 0.0L2.3 0.0L3.5 0.0L4.7 0.0L5.8 0.0L7.0 0.0L8.2 0.0L9.3 0.0L10.5 0.0L11.7 0.0L12.8 0.0L14.0 0.0L15.2 0.0L16.3 0.0L17.5 0.0L18.7 0.0L19.8 0.0L21.0 0.0L22.2 0.0L23.3 0.0L24.5 0.0L25.7 0.0L26.8 0.0L28.0 0.0L29.2 0.0L30.3 0.0L31.5 0.0L32.7 0.0L33.8 0.0L35.0 0.0L36.2 0.0L37.3 0.0L38.5 0.0L39.5 0.0L38.5 4.5L37.3 8.7L36.2 12.3L35.0 15.6L33.8 18.5L32.7 21.1L31.5 23.6L30.3 26.1L29.2 28.5L28.0 30.3L26.8 31.6L26.4 32.0L25.7 32.8L24.5 33.9L23.3 34.9L22.2 35.8L21.0 36.6L19.8 37.1L18.7 37.6L17.5 38.0L16.3 38.4L15.2 38.9L14.0 39.0L12.8 39.1L11.7 39.0L10.5 39.0L9.3 38.8L8.2 38.4L7.0 37.9L5.8 37.5L4.7 37.1L3.5 36.7L2.3 36.2L1.2 35.8L0.0 35.4L0.0 32.0L0.0 0.0ZM65.3 100.6L66.5 98.9L67.6 97.5L68.8 96.4L70.0 96.0L71.1 96.3L72.3 97.0L73.5 97.7L74.6 98.3L75.8 98.9L77.0 99.8L77.5 101.0L78.1 102.5L79.3 108.0L80.5 113.8L81.6 118.8L81.7 119.0L81.7 133.0L81.6 133.3L80.5 139.7L79.7 144.5L79.3 146.0L78.1 151.3L77.0 155.9L75.8 159.2L74.6 161.3L73.8 162.5L73.5 162.9L72.3 164.2L71.1 165.3L70.0 166.4L68.8 167.6L67.6 168.7L66.5 169.5L65.3 170.2L64.1 170.9L63.0 171.1L61.8 171.1L60.6 171.1L59.5 171.1L58.3 171.1L57.1 171.0L56.0 170.9L54.8 170.8L53.6 170.5L52.5 170.2L51.3 169.8L50.1 169.3L49.0 168.8L47.8 168.2L46.6 167.7L45.5 167.1L44.3 166.3L43.1 165.2L42.0 164.1L40.8 162.9L40.5 162.5L39.6 160.7L38.5 158.0L37.3 155.3L36.2 152.3L35.0 149.1L33.8 145.7L33.4 144.5L33.8 142.7L35.0 138.3L36.2 134.7L36.8 133.0L37.3 132.1L38.5 129.9L39.6 127.6L40.8 125.4L42.0 123.4L43.1 121.4L44.3 119.6L44.8 119.0L45.5 118.2L46.6 117.0L47.8 115.9L49.0 114.9L50.1 113.8L51.3 112.7L52.5 111.6L53.6 110.7L54.8 109.9L56.0 109.0L57.1 108.0L58.3 107.0L59.5 106.0L60.6 105.1L61.8 104.2L63.0 103.3L64.1 102.1L65.1 101.0ZM157.4 100.7L158.6 99.8L159.8 99.1L160.9 98.6L162.1 98.4L163.3 98.2L164.4 98.2L165.6 98.3L166.8 98.4L167.9 98.6L169.1 99.1L170.3 99.9L171.4 100.9L171.5 101.0L172.6 101.9L173.8 103.1L174.9 104.5L176.1 106.4L177.3 108.9L178.4 111.8L179.6 115.1L180.7 119.0L180.8 119.1L181.9 128.2L182.5 133.0L181.9 139.6L181.4 144.5L180.8 146.4L179.6 149.6L178.4 152.4L177.3 154.7L176.1 156.7L174.9 158.0L173.8 159.0L172.6 159.7L171.4 160.0L170.3 159.9L169.1 159.9L167.9 159.9L166.8 159.6L165.6 158.9L164.4 158.1L163.3 157.1L162.1 155.9L160.9 154.4L159.8 152.7L158.6 150.8L157.4 148.5L156.3 145.7L155.8 144.5L155.1 142.4L153.9 138.5L152.8 133.0L152.8 132.0L151.8 119.0L152.8 111.3L153.9 106.5L155.1 103.8L156.3 101.9L157.1 101.0Z" fill="#DEB887" fill-rule="evenodd"/>
<path d="M1.2 0.0L2.3 0.0L3.5 0.0L4.7 0.0L5.8 0.0L7.0 0.0L8.2 0.0L9.3 0.0L10.5 0.0L11.7 0.0L12.8 0.0L14.0 0.0L15.2 0.0L16.3 0.0L17.5 0.0L18.7 0.0L19.8 0.0L21.0 0.0L22.2 0.0L23.3 0.0L24.5 0.0L25.7 0.0L26.8 0.0L28.0 0.0L29.2 0.0L30.3 0.0L31.5 0.0L32.7 0.0L33.8 0.0L35.0 0.0L36.1 0.0L35.0 3.7L33.8 7.1L32.7 10.1L31.5 13.2L30.3 16.3L29.2 19.4L28.0 21.8L26.8 23.7L25.7 25.2L24.5 26.5L23.3 27.6L22.2 28.5L21.0 29.3L19.8 29.8L18.7 30.3L17.5 30.7L16.3 31.2L15.2 31.8L14.0 32.0L14.0 32.1L12.8 32.2L11.7 32.2L10.5 32.3L9.3 32.1L9.3 32.0L8.2 31.7L7.0 31.4L5.8 31.1L4.7 30.8L3.5 30.5L2.3 30.2L1.2 29.8L0.0 29.5L0.0 0.0ZM51.3 118.2L52.5 117.0L53.6 116.0L54.8 115.1L56.0 114.0L57.1 112.8L58.3 111.6L59.5 110.3L60.6 109.2L61.8 108.0L63.0 107.0L64.1 105.9L65.3 104.6L66.5 103.5L67.6 102.4L68.8 101.5L70.0 101.1L71.1 101.4L72.3 102.0L73.5 102.8L74.6 103.4L75.8 104.3L77.0 105.8L78.1 109.6L79.3 116.0L79.8 119.0L79.6 133.0L79.3 134.7L78.1 142.5L77.9 144.5L77.0 148.4L75.8 152.5L74.6 155.6L73.5 157.7L72.3 159.3L71.1 160.6L70.0 161.8L69.5 162.5L68.8 163.3L67.6 164.7L66.5 165.7L65.3 166.5L64.1 167.1L63.0 167.4L61.8 167.4L60.6 167.4L59.5 167.3L58.3 167.3L57.1 167.3L56.0 167.2L54.8 167.0L53.6 166.6L52.5 166.1L51.3 165.7L50.1 165.2L49.0 164.6L47.8 164.1L46.6 163.6L45.5 163.0L44.8 162.5L44.3 161.9L43.1 159.8L42.0 157.4L40.8 154.8L39.6 152.0L38.5 149.1L37.3 145.9L36.8 144.5L37.3 142.8L38.5 139.3L39.6 136.4L40.8 133.6L41.1 133.0L42.0 131.1L43.1 128.7L44.3 126.4L45.5 124.4L46.6 122.8L47.8 121.4L49.0 120.3L50.1 119.3L50.5 119.0ZM153.9 116.4L155.1 112.1L156.3 109.1L157.4 107.0L158.6 105.5L159.8 104.3L160.9 103.6L162.1 103.2L163.3 102.9L164.4 102.8L165.6 102.8L166.8 102.9L167.9 103.0L169.1 103.4L170.3 104.0L171.4 104.7L172.6 105.7L173.8 107.1L174.9 108.8L176.1 110.9L177.3 113.8L178.4 117.1L179.0 119.0L179.6 123.1L180.8 132.1L180.9 133.0L180.8 134.1L179.6 143.1L179.4 144.5L178.4 147.0L177.3 149.7L176.1 151.9L174.9 153.5L173.8 154.6L172.6 155.4L171.4 155.8L170.3 155.8L169.1 155.7L167.9 155.7L166.8 155.3L165.6 154.5L164.4 153.5L163.3 152.4L162.1 150.8L160.9 148.9L159.8 146.9L158.6 144.5L158.6 144.5L157.4 142.0L156.3 139.0L155.1 135.3L154.5 133.0L153.9 125.6L153.5 119.0Z" fill="#FFE100" fill-rule="evenodd"/>
<path d="M1.2 0.0L2.3 0.0L3.5 0.0L4.7 0.0L5.8 0.0L7.0 0.0L8.2 0.0L9.3 0.0L10.5 0.0L11.7 0.0L12.8 0.0L14.0 0.0L15.2 0.0L16.3 0.0L17.5 0.0L18.7 0.0L19.8 0.0L21.0 0.0L22.2 0.0L23.3 0.0L24.5 0.0L25.7 0.0L26.8 0.0L28.0 0.0L29.2 0.0L30.3 0.0L31.5 0.0L32.4 0.0L31.5 2.8L30.3 6.6L29.2 10.3L28.0 13.3L26.8 15.8L25.7 17.8L24.5 19.5L23.3 21.0L22.2 22.2L21.0 23.1L19.8 23.8L18.7 24.3L17.5 24.9L16.3 25.5L15.2 26.1L14.0 26.4L12.8 26.6L11.7 26.7L10.5 26.7L9.3 26.6L8.2 26.4L7.0 26.1L5.8 25.9L4.7 25.6L3.5 25.4L2.3 25.1L1.2 24.8L0.0 24.5L0.0 0.0ZM57.1 117.6L58.3 116.1L59.5 114.7L60.6 113.3L61.8 111.9L63.0 110.8L64.1 109.7L65.3 108.5L66.5 107.5L67.6 106.5L68.8 105.7L70.0 105.3L71.1 105.6L72.3 106.4L73.5 107.3L74.6 108.3L75.8 109.8L77.0 112.0L78.1 116.7L78.5 119.0L78.1 126.8L77.6 133.0L77.0 137.8L76.2 144.5L75.8 145.9L74.6 149.9L73.5 152.5L72.3 154.3L71.1 155.8L70.0 157.1L68.8 158.5L67.6 160.1L66.5 161.6L65.5 162.5L65.3 162.7L64.1 163.4L63.0 163.7L61.8 163.7L60.6 163.6L59.5 163.6L58.3 163.5L57.1 163.5L56.0 163.5L54.8 163.2L53.6 162.7L53.3 162.5L52.5 162.1L51.3 161.5L50.1 160.9L49.0 160.2L47.8 159.4L46.6 158.2L45.5 156.7L44.3 154.7L43.1 152.1L42.0 149.3L40.8 146.3L40.1 144.5L40.8 142.5L42.0 139.4L43.1 136.3L44.3 133.3L44.4 133.0L45.5 130.7L46.6 128.4L47.8 126.4L49.0 124.9L50.1 123.5L51.3 122.3L52.5 121.3L53.6 120.5L54.8 119.8L56.0 119.0L56.0 119.0ZM156.3 116.3L157.4 113.5L158.6 111.3L159.8 109.6L160.9 108.5L162.1 107.7L163.3 107.1L164.4 106.8L165.6 106.8L166.8 106.8L167.9 106.9L169.1 107.2L170.3 107.8L171.4 108.5L172.6 109.5L173.8 111.1L174.9 113.0L176.1 115.4L177.3 118.7L177.4 119.0L178.4 126.8L179.3 133.0L178.4 138.6L177.3 144.5L177.3 144.6L176.1 147.2L174.9 149.0L173.8 150.2L172.6 151.2L171.4 151.6L170.3 151.6L169.1 151.6L167.9 151.5L166.8 151.1L165.6 150.2L164.4 149.0L163.3 147.6L162.1 145.6L161.5 144.5L160.9 143.4L159.8 141.2L158.6 138.7L157.4 135.9L156.4 133.0L156.3 130.4L155.4 119.0Z" fill="#FFA500" fill-rule="evenodd"/>
<path d="M1.2 0.0L2.3 0.0L3.5 0.0L4.7 0.0L5.8 0.0L7.0 0.0L8.2 0.0L9.3 0.0L10.5 0.0L11.7 0.0L12.8 0.0L14.0 0.0L15.2 0.0L16.3 0.0L17.5 0.0L18.7 0.0L19.8 0.0L21.0 0.0L22.2 0.0L23.3 0.0L24.5 0.0L25.7 0.0L26.8 0.0L28.0 0.0L29.2 0.0L29.5 0.0L29.2 1.1L28.0 4.8L26.8 7.8L25.7 10.4L24.5 12.5L23.3 14.3L22.2 15.8L21.0 17.0L19.8 17.8L18.7 18.4L17.5 19.0L16.3 19.7L15.2 20.4L14.0 20.8L12.8 21.0L11.7 21.1L10.5 21.2L9.3 21.2L8.2 21.1L7.0 20.9L5.8 20.7L4.7 20.5L3.5 20.2L2.3 20.0L1.2 19.8L0.0 19.5L0.0 0.0ZM59.5 119.0L60.6 117.3L61.8 115.8L63.0 114.5L64.1 113.5L65.3 112.4L66.5 111.4L67.6 110.6L68.8 109.8L70.0 109.5L71.1 109.8L72.3 110.8L73.5 111.9L74.6 113.2L75.8 115.2L77.0 118.2L77.2 119.0L77.0 121.4L75.8 133.0L75.8 133.1L74.6 143.5L74.5 144.5L73.5 147.2L72.3 149.3L71.1 151.0L70.0 152.4L68.8 153.7L67.6 155.0L66.5 156.3L65.3 157.5L64.1 158.6L63.0 159.1L61.8 159.2L60.6 159.2L59.5 159.2L58.3 159.2L57.1 159.2L56.0 159.2L54.8 158.9L53.6 158.4L52.5 157.8L51.3 157.2L50.1 156.4L49.0 155.4L47.8 154.1L46.6 152.4L45.5 150.2L44.3 147.5L43.2 144.5L44.3 141.1L45.5 137.8L46.6 134.4L47.1 133.0L47.8 131.5L49.0 129.4L50.1 127.7L51.3 126.2L52.5 125.0L53.6 124.0L54.8 123.1L56.0 122.3L57.1 121.3L58.3 120.2L59.4 119.0ZM158.6 117.0L159.8 114.9L160.9 113.3L162.1 112.2L163.3 111.3L164.4 110.9L165.6 110.8L166.8 110.8L167.9 110.8L169.1 111.1L170.3 111.6L171.4 112.3L172.6 113.4L173.8 115.1L174.9 117.2L175.7 119.0L176.1 121.5L177.3 130.2L177.6 133.0L177.3 135.3L176.1 140.8L174.9 144.4L174.9 144.5L173.8 145.9L172.6 147.0L171.4 147.4L170.3 147.4L169.1 147.4L167.9 147.4L166.8 146.9L165.6 145.8L164.4 144.5L164.4 144.5L163.3 142.7L162.1 140.5L160.9 138.1L159.8 135.7L158.6 133.0L158.6 132.9L157.8 119.0Z" fill="#FF4500" fill-rule="evenodd"/>
<path d="M1.2 0.0L2.3 0.0L3.5 0.0L4.7 0.0L5.8 0.0L7.0 0.0L8.2 0.0L9.3 0.0L10.5 0.0L11.7 0.0L12.8 0.0L14.0 0.0L15.2 0.0L16.3 0.0L17.5 0.0L18.7 0.0L19.8 0.0L21.0 0.0L22.2 0.0L23.3 0.0L24.5 0.0L25.7 0.0L26.8 0.0L25.7 3.0L24.5 5.5L23.3 7.7L22.2 9.5L21.0 10.8L19.8 11.8L18.7 12.5L17.5 13.2L16.3 13.9L15.2 14.7L14.0 15.2L12.8 15.4L11.7 15.6L10.5 15.8L9.3 15.8L8.2 15.7L7.0 15.6L5.8 15.5L4.7 15.3L3.5 15.1L2.3 14.9L1.2 14.7L0.0 14.5L0.0 0.0ZM63.0 118.3L64.1 117.2L65.3 116.3L66.5 115.4L67.6 114.7L68.8 114.0L70.0 113.7L71.1 114.1L72.3 115.1L73.5 116.4L74.6 118.0L75.1 119.0L74.6 124.4L74.0 133.0L73.5 137.5L72.3 144.3L72.3 144.5L71.1 146.2L70.0 147.6L68.8 148.8L67.6 149.9L66.5 151.0L65.3 152.3L64.1 153.4L63.0 154.1L61.8 154.4L60.6 154.6L59.5 154.6L58.3 154.7L57.1 154.7L56.0 154.7L54.8 154.5L53.6 154.1L52.5 153.6L51.3 152.9L50.1 151.9L49.0 150.6L47.8 148.9L46.6 146.5L45.8 144.5L46.6 141.8L47.8 138.2L49.0 134.6L49.5 133.0L50.1 131.9L51.3 130.1L52.5 128.7L53.6 127.5L54.8 126.4L56.0 125.5L57.1 124.6L58.3 123.5L59.5 122.5L60.6 121.3L61.8 119.7L62.3 119.0ZM160.9 118.2L162.1 116.7L163.3 115.5L164.4 115.0L165.6 114.8L166.8 114.7L167.9 114.7L169.1 114.9L170.3 115.4L171.4 116.1L172.6 117.2L173.7 119.0L173.8 119.3L174.9 126.2L176.0 133.0L174.9 137.0L173.8 140.1L172.6 142.2L171.4 142.9L170.3 142.9L169.1 142.9L167.9 142.9L166.8 142.3L165.6 141.0L164.4 139.4L163.3 137.6L162.1 135.3L161.0 133.0L160.9 130.4L160.4 119.0Z" fill="#B22222" fill-rule="evenodd"/>
<path d="M1.2 0.0L2.3 0.0L3.5 0.0L4.7 0.0L5.8 0.0L7.0 0.0L8.2 0.0L9.3 0.0L10.5 0.0L11.7 0.0L12.8 0.0L14.0 0.0L15.2 0.0L16.3 0.0L17.5 0.0L18.7 0.0L19.8 0.0L21.0 0.0L22.2 0.0L23.3 0.0L23.8 0.0L23.3 1.0L22.2 3.1L21.0 4.7L19.8 5.7L18.7 6.5L17.5 7.3L16.3 8.2L15.2 9.0L14.0 9.5L12.8 9.9L11.7 10.1L10.5 10.3L9.3 10.4L8.2 10.4L7.0 10.4L5.8 10.3L4.7 10.1L3.5 10.0L2.3 9.9L1.2 9.7L0.0 9.5L0.0 0.0ZM67.6 118.7L68.8 118.1L70.0 117.9L71.1 118.3L71.9 119.0L71.9 133.0L71.1 136.9L70.0 140.9L68.8 143.4L68.0 144.5L67.6 144.8L66.5 145.7L65.3 147.0L64.1 148.3L63.0 149.2L61.8 149.6L60.6 149.9L59.5 150.1L58.3 150.2L57.1 150.2L56.0 150.3L54.8 150.1L53.6 149.7L52.5 149.3L51.3 148.6L50.1 147.4L49.0 145.8L48.2 144.5L49.0 142.3L50.1 139.1L51.3 135.4L52.0 133.0L52.5 132.3L53.6 130.9L54.8 129.8L56.0 128.8L57.1 127.8L58.3 126.8L59.5 125.9L60.6 125.0L61.8 124.0L63.0 122.8L64.1 121.9L65.3 120.9L66.5 119.8L67.1 119.0ZM164.4 119.0L165.6 118.8L166.8 118.7L167.9 118.6L169.1 118.8L169.7 119.0L170.3 119.9L171.4 121.9L172.6 125.5L173.8 131.7L174.0 133.0L173.8 133.7L172.6 136.5L171.4 137.6L170.3 137.8L169.1 137.8L167.9 137.9L166.8 137.3L165.6 135.9L164.4 134.3L163.6 133.0L164.4 119.0Z" fill="#FFB6C1" fill-rule="evenodd"/>
<path d="M1.2 0.0L2.3 0.0L3.5 0.0L4.7 0.0L5.8 0.0L7.0 0.0L8.2 0.0L9.3 0.0L10.5 0.0L11.7 0.0L12.8 0.0L14.0 0.0L15.2 0.0L16.3 0.0L17.5 0.0L18.7 0.0L19.4 0.0L18.7 0.6L17.5 1.5L16.3 2.4L15.2 3.3L14.0 3.9L12.8 4.3L11.7 4.6L10.5 4.8L9.3 5.0L8.2 5.1L7.0 5.1L5.8 5.0L4.7 5.0L3.5 4.9L2.3 4.8L1.2 4.7L0.0 4.5L0.0 0.0ZM56.0 132.0L57.1 131.0L58.3 130.1L59.5 129.4L60.6 128.8L61.8 128.2L63.0 127.6L64.1 127.2L65.3 127.3L66.5 127.6L67.6 128.6L68.8 131.3L69.2 133.0L68.8 134.1L67.6 136.6L66.5 138.5L65.3 140.3L64.1 142.3L63.0 143.9L62.4 144.5L61.8 144.8L60.6 145.3L59.5 145.5L58.3 145.7L57.1 145.8L56.0 145.8L54.8 145.7L53.6 145.4L52.5 145.1L51.6 144.5L52.5 142.8L53.6 140.4L54.8 133.7L54.9 133.0Z" fill="#FF1493" fill-rule="evenodd"/>
<path d="M221 198.4H217.1V206.6H213.3V214.1H210.1V218.2H167.4V221H221Z" fill="#fff"/>
<rect x="0" y="0" width="220.4" height="220.2" fill="none" stroke="#000" stroke-width="1.5"/>
<path d="M-6.3 0.00H0M-6.3 32.05H0M-6.3 53.16H0M-6.3 75.54H0M-6.3 100.98H0M-6.3 119.02H0M-6.3 133.02H0M-6.3 144.46H0M-6.3 162.51H0M-6.3 176.51H0M-6.3 197.62H0M-6.3 209.80H0M-6.3 220.00H0M220.4 38.30h6.2M220.4 77.80h6.2M220.4 117.20h6.2M220.4 155.80h6.2M220.4 190.00h6.2M35.05 220.2v6.5M35.05 0v-6.5M72.65 220.2v6.5M72.65 0v-6.5M110.25 220.2v6.5M110.25 0v-6.5M147.85 220.2v6.5M147.85 0v-6.5M185.45 220.2v6.5M185.45 0v-6.5" stroke="#000" stroke-width="1.4" fill="none"/>
<path d="M9.99 220.2v3.2M9.99 0v-3.2M22.52 220.2v3.2M22.52 0v-3.2M47.58 220.2v3.2M47.58 0v-3.2M60.12 220.2v3.2M60.12 0v-3.2M85.18 220.2v3.2M85.18 0v-3.2M97.72 220.2v3.2M97.72 0v-3.2M122.78 220.2v3.2M122.78 0v-3.2M135.32 220.2v3.2M135.32 0v-3.2M160.38 220.2v3.2M160.38 0v-3.2M172.92 220.2v3.2M172.92 0v-3.2M197.98 220.2v3.2M197.98 0v-3.2M210.51 220.2v3.2M210.51 0v-3.2" stroke="#333" stroke-width="0.95" fill="none"/>
<text x="-10.90" y="3.40" font-size="9.6" text-anchor="end" font-family='"Liberation Sans", sans-serif' fill="#333" stroke="#222" stroke-width="0.35" xml:space="preserve">30</text>
<text x="-10.90" y="35.45" font-size="9.6" text-anchor="end" font-family='"Liberation Sans", sans-serif' fill="#333" stroke="#222" stroke-width="0.35" xml:space="preserve">50</text>
<text x="-10.90" y="56.56" font-size="9.6" text-anchor="end" font-family='"Liberation Sans", sans-serif' fill="#333" stroke="#222" stroke-width="0.35" xml:space="preserve">70</text>
<text x="-10.90" y="78.94" font-size="9.6" text-anchor="end" font-family='"Liberation Sans", sans-serif' fill="#333" stroke="#222" stroke-width="0.35" xml:space="preserve">100</text>
<text x="-10.90" y="104.38" font-size="9.6" text-anchor="end" font-family='"Liberation Sans", sans-serif' fill="#333" stroke="#222" stroke-width="0.35" xml:space="preserve">150</text>
<text x="-10.90" y="122.42" font-size="9.6" text-anchor="end" font-family='"Liberation Sans", sans-serif' fill="#333" stroke="#222" stroke-width="0.35" xml:space="preserve">200</text>
<text x="-10.90" y="136.42" font-size="9.6" text-anchor="end" font-family='"Liberation Sans", sans-serif' fill="#333" stroke="#222" stroke-width="0.35" xml:space="preserve">250</text>
<text x="-10.90" y="147.86" font-size="9.6" text-anchor="end" font-family='"Liberation Sans", sans-serif' fill="#333" stroke="#222" stroke-width="0.35" xml:space="preserve">300</text>
<text x="-10.90" y="165.91" font-size="9.6" text-anchor="end" font-family='"Liberation Sans", sans-serif' fill="#333" stroke="#222" stroke-width="0.35" xml:space="preserve">400</text>
<text x="-10.90" y="179.91" font-size="9.6" text-anchor="end" font-family='"Liberation Sans", sans-serif' fill="#333" stroke="#222" stroke-width="0.35" xml:space="preserve">500</text>
<text x="-10.90" y="201.02" font-size="9.6" text-anchor="end" font-family='"Liberation Sans", sans-serif' fill="#333" stroke="#222" stroke-width="0.35" xml:space="preserve">700</text>
<text x="-10.90" y="213.20" font-size="9.6" text-anchor="end" font-family='"Liberation Sans", sans-serif' fill="#333" stroke="#222" stroke-width="0.35" xml:space="preserve">850</text>
<text x="-10.90" y="223.40" font-size="9.6" text-anchor="end" font-family='"Liberation Sans", sans-serif' fill="#333" stroke="#222" stroke-width="0.35" xml:space="preserve">1000</text>
<text x="231.20" y="41.70" font-size="9.6" text-anchor="start" font-family='"Liberation Sans", sans-serif' fill="#333" stroke="#222" stroke-width="0.35" xml:space="preserve">20</text>
<text x="231.20" y="81.20" font-size="9.6" text-anchor="start" font-family='"Liberation Sans", sans-serif' fill="#333" stroke="#222" stroke-width="0.35" xml:space="preserve">16</text>
<text x="231.20" y="120.60" font-size="9.6" text-anchor="start" font-family='"Liberation Sans", sans-serif' fill="#333" stroke="#222" stroke-width="0.35" xml:space="preserve">12</text>
<text x="231.20" y="159.20" font-size="9.6" text-anchor="start" font-family='"Liberation Sans", sans-serif' fill="#333" stroke="#222" stroke-width="0.35" xml:space="preserve">8</text>
<text x="231.20" y="193.40" font-size="9.6" text-anchor="start" font-family='"Liberation Sans", sans-serif' fill="#333" stroke="#222" stroke-width="0.35" xml:space="preserve">4</text>
<text x="35.05" y="238.30" font-size="9.4" text-anchor="middle" font-family='"Liberation Sans", sans-serif' fill="#333" stroke="#222" stroke-width="0.35" xml:space="preserve">60N</text>
<text x="72.65" y="238.30" font-size="9.4" text-anchor="middle" font-family='"Liberation Sans", sans-serif' fill="#333" stroke="#222" stroke-width="0.35" xml:space="preserve">30N</text>
<text x="110.25" y="238.30" font-size="9.4" text-anchor="middle" font-family='"Liberation Sans", sans-serif' fill="#333" stroke="#222" stroke-width="0.35" xml:space="preserve">0</text>
<text x="147.85" y="238.30" font-size="9.4" text-anchor="middle" font-family='"Liberation Sans", sans-serif' fill="#333" stroke="#222" stroke-width="0.35" xml:space="preserve">30S</text>
<text x="185.45" y="238.30" font-size="9.4" text-anchor="middle" font-family='"Liberation Sans", sans-serif' fill="#333" stroke="#222" stroke-width="0.35" xml:space="preserve">60S</text>
<text y="0.00" font-size="15" font-family='"Liberation Serif", serif' fill="#333" transform="translate(-41.4 163.9) rotate(-90)"><tspan x="0.00" textLength="65.00" lengthAdjust="spacingAndGlyphs">Pressure</tspan> <tspan x="71.80" textLength="35.60" lengthAdjust="spacingAndGlyphs">(mb)</tspan></text>
<text y="0.00" font-size="15" font-family='"Liberation Serif", serif' fill="#333" transform="translate(260.0 154.9) rotate(-90)"><tspan x="0.00" textLength="46.20" lengthAdjust="spacingAndGlyphs">Height</tspan> <tspan x="51.00" textLength="37.80" lengthAdjust="spacingAndGlyphs">(km)</tspan></text>
<text y="-9.60" font-size="14.2" font-family='"Liberation Serif", serif' fill="#333"><tspan x="-0.40" textLength="66.90" lengthAdjust="spacingAndGlyphs">Transient</tspan> <tspan x="71.30" textLength="31.50" lengthAdjust="spacingAndGlyphs">eddy</tspan> <tspan x="110.30" textLength="13.70" lengthAdjust="spacingAndGlyphs">KE</tspan></text>
<text y="-9.60" font-size="14.2" font-family='"Liberation Serif", serif' fill="#333"><tspan x="67.80" textLength="20.00" lengthAdjust="spacingAndGlyphs">m~</tspan><tspan x="89.30" textLength="16.50" lengthAdjust="spacingAndGlyphs">S~</tspan><tspan x="107.30" textLength="15.50" lengthAdjust="spacingAndGlyphs">2~</tspan><tspan x="124.00" textLength="18.20" lengthAdjust="spacingAndGlyphs">N~</tspan><tspan x="143.50" textLength="6.60" lengthAdjust="spacingAndGlyphs">/</tspan><tspan x="151.60" textLength="15.50" lengthAdjust="spacingAndGlyphs">s~</tspan><tspan x="168.00" textLength="17.00" lengthAdjust="spacingAndGlyphs">S~</tspan><tspan x="185.90" textLength="16.90" lengthAdjust="spacingAndGlyphs">2~</tspan><tspan x="203.80" textLength="17.00" lengthAdjust="spacingAndGlyphs">N~</tspan></text>
<text y="-29.50" font-size="15.8" font-family='"Liberation Serif", serif' fill="#333"><tspan x="26.70" textLength="56.00" lengthAdjust="spacingAndGlyphs">b30.004</tspan> <tspan x="91.40" textLength="26.60" lengthAdjust="spacingAndGlyphs">(yrs</tspan> <tspan x="126.60" textLength="68.60" lengthAdjust="spacingAndGlyphs">975-999)</tspan></text>
</g>
<g transform="translate(213.4,423.0)">
<rect x="0" y="0" width="220.4" height="220.0" fill="#9370DB"/>
<path d="M1.2 0.0L2.3 0.0L3.5 0.0L4.7 0.0L5.8 0.0L7.0 0.0L8.2 0.0L9.3 0.0L10.5 0.0L11.7 0.0L12.8 0.0L14.0 0.0L15.2 0.0L16.3 0.0L17.5 0.0L18.7 0.0L19.8 0.0L21.0 0.0L22.2 0.0L23.3 0.0L24.5 0.0L25.7 0.0L26.8 0.0L28.0 0.0L29.2 0.0L30.3 0.0L31.5 0.0L32.7 0.0L33.8 0.0L35.0 0.0L36.2 0.0L37.3 0.0L38.5 0.0L39.6 0.0L40.8 0.0L42.0 0.0L43.1 0.0L44.3 0.0L45.5 0.0L46.6 0.0L47.8 0.0L49.0 0.0L50.1 0.0L51.3 0.0L52.5 0.0L53.6 0.0L54.8 0.0L56.0 0.0L57.1 0.0L58.3 0.0L59.5 0.0L60.6 0.0L61.8 0.0L63.0 0.0L64.1 0.0L65.3 0.0L66.5 0.0L67.6 0.0L68.8 0.0L70.0 0.0L71.1 0.0L72.3 0.0L73.5 0.0L74.6 0.0L75.8 0.0L77.0 0.0L78.1 0.0L79.3 0.0L80.5 0.0L81.6 0.0L82.8 0.0L84.0 0.0L85.1 0.0L86.3 0.0L87.5 0.0L88.6 0.0L89.8 0.0L91.0 0.0L92.1 0.0L93.3 0.0L94.5 0.0L95.6 0.0L96.8 0.0L98.0 0.0L99.1 0.0L100.3 0.0L101.5 0.0L102.6 0.0L103.8 0.0L105.0 0.0L106.1 0.0L107.3 0.0L108.5 0.0L109.6 0.0L110.8 0.0L111.9 0.0L113.1 0.0L114.3 0.0L115.4 0.0L116.6 0.0L117.8 0.0L118.9 0.0L120.1 0.0L121.3 0.0L122.4 0.0L123.6 0.0L124.8 0.0L125.9 0.0L127.1 0.0L128.3 0.0L129.4 0.0L130.6 0.0L131.8 0.0L132.9 0.0L134.1 0.0L135.3 0.0L136.4 0.0L137.6 0.0L138.8 0.0L139.9 0.0L141.1 0.0L142.3 0.0L143.4 0.0L144.6 0.0L145.8 0.0L146.9 0.0L148.1 0.0L149.3 0.0L150.4 0.0L151.6 0.0L152.8 0.0L153.9 0.0L155.1 0.0L156.3 0.0L157.4 0.0L158.6 0.0L159.8 0.0L160.9 0.0L162.1 0.0L163.3 0.0L164.4 0.0L165.6 0.0L166.8 0.0L167.9 0.0L169.1 0.0L170.3 0.0L171.4 0.0L172.6 0.0L173.8 0.0L174.9 0.0L176.1 0.0L177.3 0.0L178.4 0.0L179.6 0.0L180.8 0.0L181.9 0.0L183.1 0.0L184.2 0.0L185.4 0.0L186.6 0.0L187.7 0.0L188.9 0.0L190.1 0.0L191.2 0.0L192.4 0.0L193.6 0.0L194.7 0.0L195.9 0.0L197.1 0.0L198.2 0.0L199.4 0.0L200.6 0.0L201.7 0.0L202.9 0.0L204.1 0.0L205.2 0.0L206.4 0.0L207.6 0.0L208.7 0.0L209.9 0.0L211.1 0.0L212.2 0.0L213.4 0.0L214.6 0.0L215.7 0.0L216.9 0.0L218.1 0.0L219.2 0.0L220.4 0.0L220.4 32.0L220.4 53.2L220.4 75.5L220.4 101.0L220.4 119.0L220.4 133.0L220.4 144.5L220.4 162.5L220.4 176.5L220.4 188.0L220.4 197.6L220.4 209.8L220.4 215.1L220.4 220.0L219.2 220.0L218.1 220.0L216.9 220.0L215.7 220.0L214.6 220.0L213.4 220.0L212.2 220.0L211.1 220.0L209.9 220.0L208.7 220.0L207.6 220.0L206.4 220.0L205.2 220.0L204.1 220.0L202.9 220.0L201.7 220.0L200.6 220.0L199.4 220.0L198.2 220.0L197.1 220.0L195.9 220.0L194.7 220.0L193.6 220.0L192.4 220.0L191.2 220.0L190.1 220.0L188.9 220.0L187.7 220.0L186.6 220.0L185.4 220.0L184.2 220.0L183.1 220.0L181.9 220.0L180.8 220.0L179.6 220.0L178.4 220.0L177.3 220.0L176.1 220.0L174.9 220.0L173.8 220.0L172.6 220.0L171.4 220.0L170.3 220.0L169.1 220.0L167.9 220.0L166.8 220.0L165.6 220.0L164.4 220.0L163.3 220.0L162.1 220.0L160.9 220.0L159.8 220.0L158.6 220.0L157.4 220.0L156.3 220.0L155.1 220.0L153.9 220.0L152.8 220.0L151.6 220.0L150.4 220.0L149.3 220.0L148.1 220.0L146.9 220.0L145.8 220.0L144.6 220.0L143.4 220.0L142.3 220.0L141.1 220.0L139.9 220.0L138.8 220.0L137.6 220.0L136.4 220.0L135.3 220.0L134.1 220.0L132.9 220.0L131.8 220.0L130.6 220.0L129.4 220.0L128.3 220.0L127.1 220.0L125.9 220.0L124.8 220.0L123.6 220.0L122.4 220.0L121.3 220.0L120.1 220.0L118.9 220.0L117.8 220.0L116.6 220.0L115.4 220.0L114.3 220.0L113.1 220.0L111.9 220.0L110.8 220.0L109.6 220.0L108.5 220.0L107.3 220.0L106.1 220.0L105.0 220.0L103.8 220.0L102.6 220.0L101.5 220.0L100.3 220.0L99.1 220.0L98.0 220.0L96.8 220.0L95.6 220.0L94.5 220.0L93.3 220.0L92.1 220.0L91.0 220.0L89.8 220.0L88.6 220.0L87.5 220.0L86.3 220.0L85.1 220.0L84.0 220.0L82.8 220.0L81.6 220.0L80.5 220.0L79.3 220.0L78.1 220.0L77.0 220.0L75.8 220.0L74.6 220.0L73.5 220.0L72.3 220.0L71.1 220.0L70.0 220.0L68.8 220.0L67.6 220.0L66.5 220.0L65.3 220.0L64.1 220.0L63.0 220.0L61.8 220.0L60.6 220.0L59.5 220.0L58.3 220.0L57.1 220.0L56.0 220.0L54.8 220.0L53.6 220.0L52.5 220.0L51.3 220.0L50.1 220.0L49.0 220.0L47.8 220.0L46.6 220.0L45.5 220.0L44.3 220.0L43.1 220.0L42.0 220.0L40.8 220.0L39.6 220.0L38.5 220.0L37.3 220.0L36.2 220.0L35.0 220.0L33.8 220.0L32.7 220.0L31.5 220.0L30.3 220.0L29.2 220.0L28.0 220.0L26.8 220.0L25.7 220.0L24.5 220.0L23.3 220.0L22.2 220.0L21.0 220.0L19.8 220.0L18.7 220.0L17.5 220.0L16.3 220.0L15.2 220.0L14.0 220.0L12.8 220.0L11.7 220.0L10.5 220.0L9.3 220.0L8.2 220.0L7.0 220.0L5.8 220.0L4.7 220.0L3.5 220.0L2.3 220.0L1.2 220.0L0.0 220.0L0.0 215.1L0.0 209.8L0.0 197.6L0.0 188.0L0.0 176.5L0.0 162.5L0.0 144.5L0.0 133.0L0.0 119.0L0.0 101.0L0.0 75.5L0.0 53.2L0.0 32.0L0.0 0.0ZM177.9 133.0L177.3 144.3L177.2 144.5L177.3 144.5L178.4 146.4L179.6 145.5L180.1 144.5L180.5 133.0L179.6 131.9L178.4 131.4Z" fill="#0000CD" fill-rule="evenodd"/>
<path d="M1.2 0.0L2.3 0.0L3.5 0.0L4.7 0.0L5.8 0.0L7.0 0.0L8.2 0.0L9.3 0.0L10.5 0.0L11.7 0.0L12.8 0.0L14.0 0.0L15.2 0.0L16.3 0.0L17.5 0.0L18.7 0.0L19.8 0.0L21.0 0.0L22.2 0.0L23.3 0.0L24.5 0.0L25.7 0.0L26.8 0.0L28.0 0.0L29.2 0.0L30.3 0.0L31.5 0.0L32.7 0.0L33.8 0.0L35.0 0.0L36.2 0.0L37.3 0.0L38.5 0.0L39.6 0.0L40.8 0.0L42.0 0.0L43.1 0.0L44.3 0.0L45.5 0.0L46.6 0.0L47.8 0.0L49.0 0.0L50.1 0.0L51.3 0.0L52.5 0.0L53.6 0.0L54.8 0.0L56.0 0.0L57.1 0.0L58.3 0.0L59.5 0.0L60.6 0.0L61.8 0.0L63.0 0.0L64.1 0.0L65.3 0.0L66.5 0.0L67.6 0.0L68.8 0.0L70.0 0.0L71.1 0.0L72.3 0.0L73.5 0.0L74.6 0.0L75.8 0.0L77.0 0.0L78.1 0.0L79.3 0.0L80.5 0.0L81.6 0.0L82.8 0.0L84.0 0.0L85.1 0.0L86.3 0.0L87.5 0.0L88.6 0.0L89.8 0.0L91.0 0.0L92.1 0.0L93.3 0.0L94.5 0.0L95.6 0.0L96.8 0.0L98.0 0.0L99.1 0.0L100.3 0.0L101.5 0.0L102.6 0.0L103.8 0.0L105.0 0.0L106.1 0.0L107.3 0.0L108.5 0.0L109.6 0.0L110.8 0.0L111.9 0.0L113.1 0.0L114.3 0.0L115.4 0.0L116.6 0.0L117.8 0.0L118.9 0.0L120.1 0.0L121.3 0.0L122.4 0.0L123.6 0.0L124.8 0.0L125.9 0.0L127.1 0.0L128.3 0.0L129.4 0.0L130.6 0.0L131.8 0.0L132.9 0.0L134.1 0.0L135.3 0.0L136.4 0.0L137.6 0.0L138.8 0.0L139.9 0.0L141.1 0.0L142.3 0.0L143.4 0.0L144.6 0.0L145.8 0.0L146.9 0.0L148.1 0.0L149.3 0.0L150.4 0.0L151.6 0.0L152.8 0.0L153.9 0.0L155.1 0.0L156.3 0.0L157.4 0.0L158.6 0.0L159.8 0.0L160.9 0.0L162.1 0.0L163.3 0.0L164.4 0.0L165.6 0.0L166.8 0.0L167.9 0.0L169.1 0.0L170.3 0.0L171.4 0.0L172.6 0.0L173.8 0.0L174.9 0.0L176.1 0.0L177.3 0.0L178.4 0.0L179.6 0.0L180.8 0.0L181.9 0.0L183.1 0.0L184.2 0.0L185.4 0.0L186.6 0.0L187.7 0.0L188.9 0.0L190.1 0.0L191.2 0.0L192.4 0.0L193.6 0.0L194.7 0.0L195.9 0.0L197.1 0.0L198.2 0.0L199.4 0.0L200.6 0.0L201.7 0.0L202.9 0.0L204.1 0.0L205.2 0.0L206.4 0.0L207.6 0.0L208.7 0.0L209.9 0.0L211.1 0.0L212.2 0.0L213.4 0.0L214.6 0.0L215.7 0.0L216.9 0.0L218.1 0.0L219.2 0.0L220.4 0.0L220.4 32.0L220.4 53.2L220.4 75.5L220.4 101.0L220.4 119.0L220.4 133.0L220.4 144.5L220.4 162.5L220.4 176.5L220.4 188.0L220.4 197.6L220.4 209.8L220.4 215.1L220.4 220.0L219.2 220.0L218.1 220.0L216.9 220.0L215.7 220.0L214.6 220.0L213.4 220.0L212.2 220.0L211.1 220.0L209.9 220.0L208.7 220.0L207.6 220.0L206.4 220.0L205.2 220.0L204.1 220.0L202.9 220.0L201.7 220.0L200.6 220.0L199.4 220.0L198.2 220.0L197.1 220.0L195.9 220.0L194.7 220.0L193.6 220.0L192.4 220.0L191.2 220.0L190.1 220.0L188.9 220.0L187.7 220.0L186.6 220.0L185.4 220.0L184.2 220.0L183.1 220.0L181.9 220.0L180.8 220.0L179.6 220.0L178.4 220.0L177.3 220.0L176.1 220.0L174.9 220.0L173.8 220.0L172.6 220.0L171.4 220.0L170.3 220.0L169.1 220.0L167.9 220.0L166.8 220.0L165.6 220.0L164.4 220.0L163.3 220.0L162.1 220.0L160.9 220.0L159.8 220.0L158.6 220.0L157.4 220.0L156.3 220.0L155.1 220.0L153.9 220.0L152.8 220.0L151.6 220.0L150.4 220.0L149.3 220.0L148.1 220.0L146.9 220.0L145.8 220.0L144.6 220.0L143.4 220.0L142.3 220.0L141.1 220.0L139.9 220.0L138.8 220.0L137.6 220.0L136.4 220.0L135.3 220.0L134.1 220.0L132.9 220.0L131.8 220.0L130.6 220.0L129.4 220.0L128.3 220.0L127.1 220.0L125.9 220.0L124.8 220.0L123.6 220.0L122.4 220.0L121.3 220.0L120.1 220.0L118.9 220.0L117.8 220.0L116.6 220.0L115.4 220.0L114.3 220.0L113.1 220.0L111.9 220.0L110.8 220.0L109.6 220.0L108.5 220.0L107.3 220.0L106.1 220.0L105.0 220.0L103.8 220.0L102.6 220.0L101.5 220.0L100.3 220.0L99.1 220.0L98.0 220.0L96.8 220.0L95.6 220.0L94.5 220.0L93.3 220.0L92.1 220.0L91.0 220.0L89.8 220.0L88.6 220.0L87.5 220.0L86.3 220.0L85.1 220.0L84.0 220.0L82.8 220.0L81.6 220.0L80.5 220.0L79.3 220.0L78.1 220.0L77.0 220.0L75.8 220.0L74.6 220.0L73.5 220.0L72.3 220.0L71.1 220.0L70.0 220.0L68.8 220.0L67.6 220.0L66.5 220.0L65.3 220.0L64.1 220.0L63.0 220.0L61.8 220.0L60.6 220.0L59.5 220.0L58.3 220.0L57.1 220.0L56.0 220.0L54.8 220.0L53.6 220.0L52.5 220.0L51.3 220.0L50.1 220.0L49.0 220.0L47.8 220.0L46.6 220.0L45.5 220.0L44.3 220.0L43.1 220.0L42.0 220.0L40.8 220.0L39.6 220.0L38.5 220.0L37.3 220.0L36.2 220.0L35.0 220.0L33.8 220.0L32.7 220.0L31.5 220.0L30.3 220.0L29.2 220.0L28.0 220.0L26.8 220.0L25.7 220.0L24.5 220.0L23.3 220.0L22.2 220.0L21.0 220.0L19.8 220.0L18.7 220.0L17.5 220.0L16.3 220.0L15.2 220.0L14.0 220.0L12.8 220.0L11.7 220.0L10.5 220.0L9.3 220.0L8.2 220.0L7.0 220.0L5.8 220.0L4.7 220.0L3.5 220.0L2.3 220.0L1.2 220.0L0.0 220.0L0.0 215.1L0.0 209.8L0.0 197.6L0.0 188.0L0.0 176.5L0.0 162.5L0.0 144.5L0.0 133.0L0.0 119.0L0.0 101.0L0.0 75.5L0.0 53.2L0.0 32.0L0.0 0.0ZM176.1 133.0L176.1 133.0L174.9 141.5L174.3 144.5L174.9 151.6L176.1 157.0L177.3 159.8L178.4 160.7L179.6 160.1L180.8 158.7L181.9 156.7L183.1 153.0L184.2 146.7L184.6 144.5L184.3 133.0L184.2 132.7L183.1 125.4L181.9 122.4L180.8 121.8L179.6 121.5L178.4 121.4L177.3 125.3ZM50.3 144.5L50.9 162.5L51.3 163.0L52.5 164.2L53.6 165.5L54.8 166.7L56.0 167.3L57.1 167.4L58.3 167.5L59.5 167.3L60.6 166.5L61.8 164.7L62.8 162.5L61.8 144.5L61.8 144.5L60.6 143.4L59.5 142.5L58.3 141.7L57.1 141.1L56.0 140.9L54.8 141.1L53.6 141.4L52.5 141.9L51.3 143.0Z" fill="#4169E1" fill-rule="evenodd"/>
<path d="M1.2 15.9L2.3 14.9L3.5 13.8L4.7 12.6L5.8 11.1L7.0 9.6L8.2 7.8L9.3 5.7L10.5 3.7L11.7 2.2L12.8 1.0L13.6 0.0L14.0 0.0L15.2 0.0L16.3 0.0L17.5 0.0L18.7 0.0L19.8 0.0L21.0 0.0L22.2 0.0L23.3 0.0L24.5 0.0L25.7 0.0L26.8 0.0L28.0 0.0L29.2 0.0L30.3 0.0L31.5 0.0L32.7 0.0L33.8 0.0L35.0 0.0L36.2 0.0L37.3 0.0L38.5 0.0L39.6 0.0L40.8 0.0L42.0 0.0L43.1 0.0L44.3 0.0L45.5 0.0L46.6 0.0L47.8 0.0L49.0 0.0L50.1 0.0L51.3 0.0L52.5 0.0L53.6 0.0L54.8 0.0L56.0 0.0L57.1 0.0L58.3 0.0L59.5 0.0L60.6 0.0L61.8 0.0L63.0 0.0L64.1 0.0L65.3 0.0L66.5 0.0L67.6 0.0L68.8 0.0L70.0 0.0L71.1 0.0L72.3 0.0L73.5 0.0L74.6 0.0L75.8 0.0L77.0 0.0L78.1 0.0L79.3 0.0L80.5 0.0L81.6 0.0L82.8 0.0L84.0 0.0L85.1 0.0L86.3 0.0L87.5 0.0L88.6 0.0L89.8 0.0L91.0 0.0L92.1 0.0L93.3 0.0L94.5 0.0L95.6 0.0L96.8 0.0L98.0 0.0L99.1 0.0L100.3 0.0L101.5 0.0L102.6 0.0L103.8 0.0L105.0 0.0L106.1 0.0L107.3 0.0L108.5 0.0L109.6 0.0L110.8 0.0L111.9 0.0L113.1 0.0L114.3 0.0L115.4 0.0L116.6 0.0L117.8 0.0L118.9 0.0L120.1 0.0L121.3 0.0L122.4 0.0L123.6 0.0L124.8 0.0L125.9 0.0L127.1 0.0L128.3 0.0L129.4 0.0L130.6 0.0L131.8 0.0L132.9 0.0L134.1 0.0L135.3 0.0L136.4 0.0L137.6 0.0L138.8 0.0L139.9 0.0L141.1 0.0L142.3 0.0L143.4 0.0L144.6 0.0L145.8 0.0L146.9 0.0L148.1 0.0L149.3 0.0L150.4 0.0L151.6 0.0L152.8 0.0L153.9 0.0L155.1 0.0L156.3 0.0L157.4 0.0L158.6 0.0L159.8 0.0L160.9 0.0L162.1 0.0L163.3 0.0L164.4 0.0L165.6 0.0L166.8 0.0L167.9 0.0L169.1 0.0L170.3 0.0L171.4 0.0L172.6 0.0L173.8 0.0L174.9 0.0L176.1 0.0L177.3 0.0L178.4 0.0L179.6 0.0L180.8 0.0L181.9 0.0L183.1 0.0L184.2 0.0L185.4 0.0L186.6 0.0L187.7 0.0L188.9 0.0L190.1 0.0L191.2 0.0L192.4 0.0L193.6 0.0L194.7 0.0L195.9 0.0L197.1 0.0L198.2 0.0L199.4 0.0L200.6 0.0L201.7 0.0L202.9 0.0L204.1 0.0L205.2 0.0L206.4 0.0L207.6 0.0L208.7 0.0L209.9 0.0L211.1 0.0L212.2 0.0L213.4 0.0L214.6 0.0L215.7 0.0L216.9 0.0L218.1 0.0L219.2 0.0L220.4 0.0L220.4 32.0L220.4 53.2L220.4 75.5L220.4 101.0L220.4 119.0L220.4 133.0L220.4 144.5L220.4 162.5L220.4 176.5L220.4 188.0L220.4 197.6L220.4 209.8L220.4 215.1L220.4 220.0L219.2 220.0L218.1 220.0L216.9 220.0L215.7 220.0L214.6 220.0L213.4 220.0L212.2 220.0L211.1 220.0L209.9 220.0L208.7 220.0L207.6 220.0L206.4 220.0L205.2 220.0L204.1 220.0L202.9 220.0L201.7 220.0L200.6 220.0L199.4 220.0L198.2 220.0L197.1 220.0L195.9 220.0L194.7 220.0L193.6 220.0L192.4 220.0L191.2 220.0L190.1 220.0L188.9 220.0L187.7 220.0L186.6 220.0L185.4 220.0L184.2 220.0L183.1 220.0L181.9 220.0L180.8 220.0L179.6 220.0L178.4 220.0L177.3 220.0L176.1 220.0L174.9 220.0L173.8 220.0L172.6 220.0L171.4 220.0L170.3 220.0L169.1 220.0L167.9 220.0L166.8 220.0L165.6 220.0L164.4 220.0L163.3 220.0L162.1 220.0L160.9 220.0L159.8 220.0L158.6 220.0L157.4 220.0L156.3 220.0L155.1 220.0L153.9 220.0L152.8 220.0L151.6 220.0L150.4 220.0L149.3 220.0L148.1 220.0L146.9 220.0L145.8 220.0L144.6 220.0L143.4 220.0L142.3 220.0L141.1 220.0L139.9 220.0L138.8 220.0L137.6 220.0L136.4 220.0L135.3 220.0L134.1 220.0L132.9 220.0L131.8 220.0L130.6 220.0L129.4 220.0L128.3 220.0L127.1 220.0L125.9 220.0L124.8 220.0L123.6 220.0L122.4 220.0L121.3 220.0L120.1 220.0L118.9 220.0L117.8 220.0L116.6 220.0L115.4 220.0L114.3 220.0L113.1 220.0L111.9 220.0L110.8 220.0L109.6 220.0L108.5 220.0L107.3 220.0L106.1 220.0L105.0 220.0L103.8 220.0L102.6 220.0L101.5 220.0L100.3 220.0L99.1 220.0L98.0 220.0L96.8 220.0L95.6 220.0L94.5 220.0L93.3 220.0L92.1 220.0L91.0 220.0L89.8 220.0L88.6 220.0L87.5 220.0L86.3 220.0L85.1 220.0L84.0 220.0L82.8 220.0L81.6 220.0L80.5 220.0L79.3 220.0L78.1 220.0L77.0 220.0L75.8 220.0L74.6 220.0L73.5 220.0L72.3 220.0L71.1 220.0L70.0 220.0L68.8 220.0L67.6 220.0L66.5 220.0L65.3 220.0L64.1 220.0L63.0 220.0L61.8 220.0L60.6 220.0L59.5 220.0L58.3 220.0L57.1 220.0L56.0 220.0L54.8 220.0L53.6 220.0L52.5 220.0L51.3 220.0L50.1 220.0L49.0 220.0L47.8 220.0L46.6 220.0L45.5 220.0L44.3 220.0L43.1 220.0L42.0 220.0L40.8 220.0L39.6 220.0L38.5 220.0L37.3 220.0L36.2 220.0L35.0 220.0L33.8 220.0L32.7 220.0L31.5 220.0L30.3 220.0L29.2 220.0L28.0 220.0L26.8 220.0L25.7 220.0L24.5 220.0L23.3 220.0L22.2 220.0L21.0 220.0L19.8 220.0L18.7 220.0L17.5 220.0L16.3 220.0L15.2 220.0L14.0 220.0L12.8 220.0L11.7 220.0L10.5 220.0L9.3 220.0L8.2 220.0L7.0 220.0L5.8 220.0L4.7 220.0L3.5 220.0L2.3 220.0L1.2 220.0L0.0 220.0L0.0 215.1L0.0 209.8L0.0 197.6L0.0 188.0L0.0 176.5L0.0 162.5L0.0 144.5L0.0 133.0L0.0 119.0L0.0 101.0L0.0 75.5L0.0 53.2L0.0 32.0L0.0 16.7ZM176.8 119.0L176.1 124.2L174.9 131.7L174.7 133.0L173.8 138.3L172.6 144.3L172.6 144.5L172.0 162.5L172.6 164.6L173.8 167.6L174.9 169.6L176.1 171.1L177.3 172.2L178.4 172.6L179.6 172.4L180.8 171.8L181.9 170.9L183.1 169.1L184.2 166.3L185.4 163.4L185.8 162.5L186.6 158.6L187.7 150.0L188.3 144.5L187.7 139.6L187.2 133.0L186.6 128.8L185.4 120.9L185.1 119.0L184.2 115.7L183.1 112.4L181.9 111.1L180.8 111.3L179.6 111.8L178.4 112.4L177.3 116.0ZM52.2 133.0L51.3 134.6L50.1 137.3L49.0 139.8L47.8 142.6L47.2 144.5L46.6 160.1L46.5 162.5L46.6 162.8L47.8 165.6L49.0 167.9L50.1 169.8L51.3 171.6L52.5 173.2L53.6 174.6L54.8 175.8L55.8 176.5L56.0 176.6L57.1 177.1L58.3 177.5L59.5 177.8L60.6 177.8L61.8 177.7L63.0 177.4L64.1 176.8L64.4 176.5L65.3 174.6L66.5 170.1L67.6 162.5L67.6 161.8L68.5 144.5L67.6 143.2L66.5 141.1L65.3 138.8L64.1 136.9L63.0 135.2L61.8 133.3L61.7 133.0L60.6 132.5L59.5 132.2L58.3 132.1L57.1 132.0L56.0 131.9L54.8 132.0L53.6 132.3L52.5 132.7Z" fill="#7B9DF0" fill-rule="evenodd"/>
<path d="M9.3 32.0L10.5 30.8L11.7 29.4L12.8 27.8L14.0 25.9L15.2 23.5L16.3 20.7L17.5 17.5L18.7 13.1L19.8 6.9L20.8 0.0L21.0 0.0L22.2 0.0L23.3 0.0L24.5 0.0L25.7 0.0L26.8 0.0L28.0 0.0L29.2 0.0L30.3 0.0L31.5 0.0L32.7 0.0L33.8 0.0L35.0 0.0L36.2 0.0L37.3 0.0L38.5 0.0L39.6 0.0L40.8 0.0L42.0 0.0L43.1 0.0L44.3 0.0L45.5 0.0L46.6 0.0L47.8 0.0L49.0 0.0L50.1 0.0L51.3 0.0L52.5 0.0L53.6 0.0L54.8 0.0L56.0 0.0L57.1 0.0L58.3 0.0L59.5 0.0L60.6 0.0L61.8 0.0L63.0 0.0L64.1 0.0L65.3 0.0L66.5 0.0L67.6 0.0L68.8 0.0L70.0 0.0L71.1 0.0L72.3 0.0L73.5 0.0L74.6 0.0L75.8 0.0L77.0 0.0L78.1 0.0L79.3 0.0L80.5 0.0L81.6 0.0L82.8 0.0L84.0 0.0L85.1 0.0L86.3 0.0L87.5 0.0L88.6 0.0L89.8 0.0L91.0 0.0L92.1 0.0L93.3 0.0L94.5 0.0L95.6 0.0L96.8 0.0L98.0 0.0L99.1 0.0L100.3 0.0L101.5 0.0L102.6 0.0L103.8 0.0L105.0 0.0L106.1 0.0L107.3 0.0L108.5 0.0L109.6 0.0L110.8 0.0L111.9 0.0L113.1 0.0L114.3 0.0L115.4 0.0L116.6 0.0L117.8 0.0L118.9 0.0L120.1 0.0L121.3 0.0L122.4 0.0L123.6 0.0L124.8 0.0L125.9 0.0L127.1 0.0L128.3 0.0L129.4 0.0L130.6 0.0L131.8 0.0L132.9 0.0L134.1 0.0L135.3 0.0L136.4 0.0L137.6 0.0L138.8 0.0L139.9 0.0L141.1 0.0L142.3 0.0L143.4 0.0L144.6 0.0L145.8 0.0L146.9 0.0L148.1 0.0L149.3 0.0L150.4 0.0L151.6 0.0L152.8 0.0L153.9 0.0L155.1 0.0L156.3 0.0L157.4 0.0L158.6 0.0L159.8 0.0L160.9 0.0L162.1 0.0L163.3 0.0L164.4 0.0L165.6 0.0L166.8 0.0L167.9 0.0L169.1 0.0L170.3 0.0L171.4 0.0L172.6 0.0L173.8 0.0L174.9 0.0L176.1 0.0L177.3 0.0L178.4 0.0L179.6 0.0L180.8 0.0L181.9 0.0L183.1 0.0L184.2 0.0L185.4 0.0L186.6 0.0L187.7 0.0L188.9 0.0L190.1 0.0L191.2 0.0L192.4 0.0L193.6 0.0L194.7 0.0L195.9 0.0L197.1 0.0L198.2 0.0L199.4 0.0L200.6 0.0L201.7 0.0L202.9 0.0L204.1 0.0L205.2 0.0L206.4 0.0L207.6 0.0L208.7 0.0L209.9 0.0L211.1 0.0L212.2 0.0L213.4 0.0L214.6 0.0L215.7 0.0L216.9 0.0L218.1 0.0L219.2 0.0L220.4 0.0L220.4 32.0L220.4 53.2L220.4 75.5L220.4 101.0L220.4 119.0L220.4 133.0L220.4 144.5L220.4 162.5L220.4 176.5L220.4 188.0L220.4 197.6L220.4 209.8L220.4 215.1L220.4 220.0L219.2 220.0L218.1 220.0L216.9 220.0L215.7 220.0L214.6 220.0L213.4 220.0L212.2 220.0L211.1 220.0L209.9 220.0L208.7 220.0L207.6 220.0L206.4 220.0L205.2 220.0L204.1 220.0L202.9 220.0L201.7 220.0L200.6 220.0L199.4 220.0L198.2 220.0L197.1 220.0L195.9 220.0L194.7 220.0L193.6 220.0L192.4 220.0L191.2 220.0L190.1 220.0L188.9 220.0L187.7 220.0L186.6 220.0L185.4 220.0L184.2 220.0L183.1 220.0L181.9 220.0L180.8 220.0L179.6 220.0L178.4 220.0L177.3 220.0L176.1 220.0L174.9 220.0L173.8 220.0L172.6 220.0L171.4 220.0L170.3 220.0L169.1 220.0L167.9 220.0L166.8 220.0L165.6 220.0L164.4 220.0L163.3 220.0L162.1 220.0L160.9 220.0L159.8 220.0L158.6 220.0L157.4 220.0L156.3 220.0L155.1 220.0L153.9 220.0L152.8 220.0L151.6 220.0L150.4 220.0L149.3 220.0L148.1 220.0L146.9 220.0L145.8 220.0L144.6 220.0L143.4 220.0L142.3 220.0L141.1 220.0L139.9 220.0L138.8 220.0L137.6 220.0L136.4 220.0L135.3 220.0L134.1 220.0L132.9 220.0L131.8 220.0L130.6 220.0L129.4 220.0L128.3 220.0L127.1 220.0L125.9 220.0L124.8 220.0L123.6 220.0L122.4 220.0L121.3 220.0L120.1 220.0L118.9 220.0L117.8 220.0L116.6 220.0L115.4 220.0L114.3 220.0L113.1 220.0L111.9 220.0L110.8 220.0L109.6 220.0L108.5 220.0L107.3 220.0L106.1 220.0L105.0 220.0L103.8 220.0L102.6 220.0L101.5 220.0L100.3 220.0L99.1 220.0L98.0 220.0L96.8 220.0L95.6 220.0L94.5 220.0L93.3 220.0L92.1 220.0L91.0 220.0L89.8 220.0L88.6 220.0L87.5 220.0L86.3 220.0L85.1 220.0L84.0 220.0L82.8 220.0L81.6 220.0L80.5 220.0L79.3 220.0L78.1 220.0L77.0 220.0L75.8 220.0L74.6 220.0L73.5 220.0L72.3 220.0L71.1 220.0L70.0 220.0L68.8 220.0L67.6 220.0L66.5 220.0L65.3 220.0L64.1 220.0L63.0 220.0L61.8 220.0L60.6 220.0L59.5 220.0L58.3 220.0L57.1 220.0L56.0 220.0L54.8 220.0L53.6 220.0L52.5 220.0L51.3 220.0L50.1 220.0L49.0 220.0L47.8 220.0L46.6 220.0L45.5 220.0L44.3 220.0L43.1 220.0L42.0 220.0L40.8 220.0L39.6 220.0L38.5 220.0L37.3 220.0L36.2 220.0L35.0 220.0L33.8 220.0L32.7 220.0L31.5 220.0L30.3 220.0L29.2 220.0L28.0 220.0L26.8 220.0L25.7 220.0L24.5 220.0L23.3 220.0L22.2 220.0L21.0 220.0L19.8 220.0L18.7 220.0L17.5 220.0L16.3 220.0L15.2 220.0L14.0 220.0L12.8 220.0L11.7 220.0L10.5 220.0L9.3 220.0L8.2 220.0L7.0 220.0L5.8 220.0L4.7 220.0L3.5 220.0L2.3 220.0L1.2 220.0L0.0 220.0L0.0 215.1L0.0 209.8L0.0 197.6L0.0 188.0L0.0 176.5L0.0 162.5L0.0 144.5L0.0 133.0L0.0 119.0L0.0 101.0L0.0 75.5L0.0 53.2L0.0 36.2L1.2 35.7L2.3 35.3L3.5 34.8L4.7 34.2L5.8 33.6L7.0 33.0L8.2 32.5L9.3 32.0ZM180.9 101.0L180.8 101.0L179.6 102.2L178.4 103.7L177.3 107.1L176.1 114.6L175.5 119.0L174.9 123.1L173.8 129.7L173.3 133.0L172.6 136.7L171.4 141.9L170.5 144.5L170.3 147.1L169.1 155.8L168.1 162.5L169.1 168.9L170.3 173.8L171.2 176.5L171.4 176.9L172.6 178.1L173.8 179.1L174.9 179.9L176.1 180.5L177.3 181.0L178.4 181.2L179.6 181.1L180.8 180.9L181.9 180.6L183.1 179.7L184.2 178.2L185.4 176.5L185.4 176.5L186.6 173.4L187.7 170.5L188.9 167.8L190.1 164.9L191.0 162.5L191.2 160.2L192.4 151.4L193.3 144.5L192.4 140.6L191.2 135.8L190.7 133.0L190.1 129.9L188.9 122.4L188.4 119.0L187.7 115.7L186.6 110.4L185.4 106.3L184.2 103.3L183.1 101.3L182.6 101.0L181.9 100.6ZM49.1 133.0L49.0 133.3L47.8 136.4L46.6 140.0L45.5 143.6L45.2 144.5L44.3 156.6L43.9 162.5L44.3 164.1L45.5 167.6L46.6 170.7L47.8 173.4L49.0 175.7L49.4 176.5L50.1 177.5L51.3 179.0L52.5 180.3L53.6 181.4L54.8 182.5L56.0 183.5L57.1 184.5L58.3 185.4L59.5 186.2L60.6 187.0L61.8 187.7L62.6 188.0L63.0 188.0L63.5 188.0L64.1 187.8L65.3 187.1L66.5 186.0L67.6 183.6L68.8 179.9L69.7 176.5L70.0 174.5L71.1 162.6L71.1 162.5L72.3 150.1L73.0 144.5L72.3 143.0L71.1 140.7L70.0 138.5L68.8 136.1L67.6 133.1L67.6 133.0L66.5 132.2L65.3 131.5L64.1 131.0L63.0 130.4L61.8 129.8L60.6 129.2L59.5 128.8L58.3 128.5L57.1 128.2L56.0 128.0L54.8 127.9L53.6 127.9L52.5 128.2L51.3 129.0L50.1 130.8Z" fill="#B0E0E6" fill-rule="evenodd"/>
<path d="M21.0 26.1L22.2 16.9L23.3 3.7L23.6 0.0L24.5 0.0L25.7 0.0L26.8 0.0L28.0 0.0L29.2 0.0L30.3 0.0L31.5 0.0L32.7 0.0L33.8 0.0L35.0 0.0L36.2 0.0L37.3 0.0L38.5 0.0L39.6 0.0L40.8 0.0L42.0 0.0L43.1 0.0L44.3 0.0L45.5 0.0L46.6 0.0L47.8 0.0L49.0 0.0L50.1 0.0L51.3 0.0L52.5 0.0L53.6 0.0L54.8 0.0L56.0 0.0L57.1 0.0L58.3 0.0L59.5 0.0L60.6 0.0L61.8 0.0L63.0 0.0L64.1 0.0L65.3 0.0L66.5 0.0L67.6 0.0L68.8 0.0L70.0 0.0L71.1 0.0L72.3 0.0L73.5 0.0L74.6 0.0L75.8 0.0L77.0 0.0L78.1 0.0L79.3 0.0L80.5 0.0L81.6 0.0L82.8 0.0L84.0 0.0L85.1 0.0L86.3 0.0L87.5 0.0L88.6 0.0L89.8 0.0L91.0 0.0L92.1 0.0L93.3 0.0L94.5 0.0L95.6 0.0L96.8 0.0L98.0 0.0L99.1 0.0L100.3 0.0L101.5 0.0L102.6 0.0L103.8 0.0L105.0 0.0L106.1 0.0L107.3 0.0L108.5 0.0L109.6 0.0L110.8 0.0L111.9 0.0L113.1 0.0L114.3 0.0L115.4 0.0L116.6 0.0L117.8 0.0L118.9 0.0L120.1 0.0L121.3 0.0L122.4 0.0L123.6 0.0L124.8 0.0L125.9 0.0L127.1 0.0L128.3 0.0L129.4 0.0L130.6 0.0L131.8 0.0L132.9 0.0L134.1 0.0L135.3 0.0L136.4 0.0L137.6 0.0L138.8 0.0L139.9 0.0L141.1 0.0L142.3 0.0L143.4 0.0L144.6 0.0L145.8 0.0L146.9 0.0L148.1 0.0L149.3 0.0L150.4 0.0L151.6 0.0L152.8 0.0L153.9 0.0L155.1 0.0L156.3 0.0L157.4 0.0L158.6 0.0L159.8 0.0L160.9 0.0L162.1 0.0L163.3 0.0L164.4 0.0L165.6 0.0L166.8 0.0L167.9 0.0L169.1 0.0L170.3 0.0L171.4 0.0L172.6 0.0L173.8 0.0L174.9 0.0L176.1 0.0L177.3 0.0L178.4 0.0L179.6 0.0L180.8 0.0L181.9 0.0L183.1 0.0L184.2 0.0L185.4 0.0L186.6 0.0L187.7 0.0L188.9 0.0L190.1 0.0L191.2 0.0L192.4 0.0L193.6 0.0L194.7 0.0L195.9 0.0L197.1 0.0L198.2 0.0L199.4 0.0L200.6 0.0L201.7 0.0L202.9 0.0L204.1 0.0L205.2 0.0L206.4 0.0L207.6 0.0L208.7 0.0L209.9 0.0L211.1 0.0L212.2 0.0L213.4 0.0L214.6 0.0L215.7 0.0L216.9 0.0L218.1 0.0L219.2 0.0L220.4 0.0L220.4 32.0L220.4 53.2L220.4 75.5L220.4 101.0L220.4 119.0L220.4 133.0L220.4 144.5L220.4 162.5L220.4 176.5L220.4 188.0L220.4 197.6L220.4 209.8L220.4 215.1L220.4 220.0L219.2 220.0L218.1 220.0L216.9 220.0L215.7 220.0L214.6 220.0L213.4 220.0L212.2 220.0L211.1 220.0L209.9 220.0L208.7 220.0L207.6 220.0L206.4 220.0L205.2 220.0L204.1 220.0L202.9 220.0L201.7 220.0L200.6 220.0L199.4 220.0L198.2 220.0L197.1 220.0L195.9 220.0L194.7 220.0L193.6 220.0L192.4 220.0L191.2 220.0L190.1 220.0L188.9 220.0L187.7 220.0L186.6 220.0L185.4 220.0L184.2 220.0L183.1 220.0L181.9 220.0L180.8 220.0L179.6 220.0L178.4 220.0L177.3 220.0L176.1 220.0L174.9 220.0L173.8 220.0L172.6 220.0L171.4 220.0L170.3 220.0L169.1 220.0L167.9 220.0L166.8 220.0L165.6 220.0L164.4 220.0L163.3 220.0L162.1 220.0L160.9 220.0L159.8 220.0L158.6 220.0L157.4 220.0L156.3 220.0L155.1 220.0L153.9 220.0L152.8 220.0L151.6 220.0L150.4 220.0L149.3 220.0L148.1 220.0L146.9 220.0L145.8 220.0L144.6 220.0L143.4 220.0L142.3 220.0L141.1 220.0L139.9 220.0L138.8 220.0L137.6 220.0L136.4 220.0L135.3 220.0L134.1 220.0L132.9 220.0L131.8 220.0L130.6 220.0L129.4 220.0L128.3 220.0L127.1 220.0L125.9 220.0L124.8 220.0L123.6 220.0L122.4 220.0L121.3 220.0L120.1 220.0L118.9 220.0L117.8 220.0L116.6 220.0L115.4 220.0L114.3 220.0L113.1 220.0L111.9 220.0L110.8 220.0L109.6 220.0L108.5 220.0L107.3 220.0L106.1 220.0L105.0 220.0L103.8 220.0L102.6 220.0L101.5 220.0L100.3 220.0L99.1 220.0L98.0 220.0L96.8 220.0L95.6 220.0L94.5 220.0L93.3 220.0L92.1 220.0L91.0 220.0L89.8 220.0L88.6 220.0L87.5 220.0L86.3 220.0L85.1 220.0L84.0 220.0L82.8 220.0L81.6 220.0L80.5 220.0L79.3 220.0L78.1 220.0L77.0 220.0L75.8 220.0L74.6 220.0L73.5 220.0L72.3 220.0L71.1 220.0L70.0 220.0L68.8 220.0L67.6 220.0L66.5 220.0L65.3 220.0L64.1 220.0L63.0 220.0L61.8 220.0L60.6 220.0L59.5 220.0L58.3 220.0L57.1 220.0L56.0 220.0L54.8 220.0L53.6 220.0L52.5 220.0L51.3 220.0L50.1 220.0L49.0 220.0L47.8 220.0L46.6 220.0L45.5 220.0L44.3 220.0L43.1 220.0L42.0 220.0L40.8 220.0L39.6 220.0L38.5 220.0L37.3 220.0L36.2 220.0L35.0 220.0L33.8 220.0L32.7 220.0L31.5 220.0L30.3 220.0L29.2 220.0L28.0 220.0L26.8 220.0L25.7 220.0L24.5 220.0L23.3 220.0L22.2 220.0L21.0 220.0L19.8 220.0L18.7 220.0L17.5 220.0L16.3 220.0L15.2 220.0L14.0 220.0L12.8 220.0L11.7 220.0L10.5 220.0L9.3 220.0L8.2 220.0L7.0 220.0L5.8 220.0L4.7 220.0L3.5 220.0L2.3 220.0L1.2 220.0L0.0 220.0L0.0 215.1L0.0 209.8L0.0 197.6L0.0 188.0L0.0 176.5L0.0 162.5L0.0 144.5L0.0 133.0L0.0 119.0L0.0 101.0L0.0 75.5L0.0 53.2L0.0 46.3L1.2 46.0L2.3 45.8L3.5 45.5L4.7 45.2L5.8 44.8L7.0 44.5L8.2 44.3L9.3 44.1L10.5 43.8L11.7 43.5L12.8 43.1L14.0 42.5L15.2 41.6L16.3 40.2L17.5 38.4L18.7 35.9L19.8 32.4L19.9 32.0ZM176.7 101.0L176.1 104.1L174.9 112.4L174.0 119.0L173.8 120.6L172.6 127.7L171.8 133.0L171.4 135.0L170.3 139.1L169.1 142.0L167.9 144.4L167.9 144.5L166.8 154.5L165.8 162.5L166.5 176.5L166.8 177.7L167.9 180.9L169.1 182.8L170.3 184.1L171.4 185.1L172.6 185.9L173.8 186.6L174.9 187.2L176.1 187.7L176.9 188.0L177.3 188.1L178.4 188.2L179.6 188.2L180.8 188.0L180.9 188.0L181.9 187.7L183.1 187.0L184.2 185.7L185.4 184.3L186.6 182.8L187.7 180.8L188.9 178.7L190.0 176.5L190.1 176.2L191.2 173.5L192.4 170.8L193.6 167.9L194.7 164.0L195.2 162.5L195.9 157.3L197.1 149.0L197.6 144.5L197.1 141.9L195.9 137.1L194.9 133.0L194.7 132.6L193.6 128.0L192.4 123.0L191.6 119.0L191.2 117.1L190.1 110.7L188.9 105.3L187.9 101.0L187.7 100.2L186.6 96.3L185.4 94.3L184.2 93.2L183.1 92.6L181.9 92.5L180.8 92.9L179.6 93.8L178.4 95.0L177.3 98.0ZM46.9 133.0L46.6 133.9L45.5 137.5L44.3 140.8L43.1 144.0L43.0 144.5L42.0 158.7L41.7 162.5L42.0 163.7L43.1 168.3L44.3 172.3L45.5 175.7L45.8 176.5L46.6 178.1L47.8 180.0L49.0 181.6L50.1 183.2L51.3 184.7L52.5 186.1L53.6 187.6L54.0 188.0L54.8 188.9L56.0 189.9L57.1 190.8L58.3 191.5L59.5 192.1L60.6 192.6L61.8 193.1L63.0 193.3L64.1 193.2L65.3 193.0L66.5 192.7L67.6 192.0L68.8 190.3L70.0 188.1L70.0 188.0L71.1 183.5L72.3 177.1L72.4 176.5L73.5 166.8L74.0 162.5L74.6 157.2L75.8 147.0L76.1 144.5L75.8 143.6L74.6 140.4L73.5 137.8L72.3 135.4L71.1 133.0L71.1 133.0L70.0 131.8L68.8 130.7L67.6 129.7L66.5 128.9L65.3 128.2L64.1 127.7L63.0 127.1L61.8 126.5L60.6 125.9L59.5 125.5L58.3 125.0L57.1 124.5L56.0 124.1L54.8 123.8L53.6 123.6L52.5 123.6L51.3 124.1L50.1 125.3L49.0 127.1L47.8 129.8Z" fill="#20B2AA" fill-rule="evenodd"/>
<path d="M24.5 24.5L25.7 7.3L26.0 0.0L26.8 0.0L28.0 0.0L29.2 0.0L30.3 0.0L31.5 0.0L32.7 0.0L33.8 0.0L35.0 0.0L36.2 0.0L37.3 0.0L38.5 0.0L39.6 0.0L40.8 0.0L42.0 0.0L43.1 0.0L44.3 0.0L45.5 0.0L46.6 0.0L47.8 0.0L49.0 0.0L50.1 0.0L51.3 0.0L52.5 0.0L53.6 0.0L54.8 0.0L56.0 0.0L57.1 0.0L58.3 0.0L59.5 0.0L60.6 0.0L61.8 0.0L63.0 0.0L64.1 0.0L65.3 0.0L66.5 0.0L67.6 0.0L68.8 0.0L70.0 0.0L71.1 0.0L72.3 0.0L73.5 0.0L74.6 0.0L75.8 0.0L77.0 0.0L78.1 0.0L79.3 0.0L80.5 0.0L81.6 0.0L82.8 0.0L84.0 0.0L85.1 0.0L86.3 0.0L87.5 0.0L88.6 0.0L89.8 0.0L91.0 0.0L92.1 0.0L93.3 0.0L94.5 0.0L95.6 0.0L96.8 0.0L98.0 0.0L99.1 0.0L100.3 0.0L101.5 0.0L102.6 0.0L103.8 0.0L105.0 0.0L106.1 0.0L107.3 0.0L108.5 0.0L109.6 0.0L110.8 0.0L111.9 0.0L113.1 0.0L114.3 0.0L115.4 0.0L116.6 0.0L117.8 0.0L118.9 0.0L120.1 0.0L121.3 0.0L122.4 0.0L123.6 0.0L124.8 0.0L125.9 0.0L127.1 0.0L128.3 0.0L129.4 0.0L130.6 0.0L131.8 0.0L132.9 0.0L134.1 0.0L135.3 0.0L136.4 0.0L137.6 0.0L138.8 0.0L139.9 0.0L141.1 0.0L142.3 0.0L143.4 0.0L144.6 0.0L145.8 0.0L146.9 0.0L148.1 0.0L149.3 0.0L150.4 0.0L151.6 0.0L152.8 0.0L153.9 0.0L155.1 0.0L156.3 0.0L157.4 0.0L158.6 0.0L159.8 0.0L160.9 0.0L162.1 0.0L163.3 0.0L164.4 0.0L165.6 0.0L166.8 0.0L167.9 0.0L169.1 0.0L170.3 0.0L171.4 0.0L172.6 0.0L173.8 0.0L174.9 0.0L176.1 0.0L177.3 0.0L178.4 0.0L179.6 0.0L180.8 0.0L181.9 0.0L183.1 0.0L184.2 0.0L185.4 0.0L186.6 0.0L187.7 0.0L188.9 0.0L190.1 0.0L191.2 0.0L192.4 0.0L193.6 0.0L194.7 0.0L195.9 0.0L197.1 0.0L198.2 0.0L199.4 0.0L200.6 0.0L201.7 0.0L202.9 0.0L204.1 0.0L205.2 0.0L206.4 0.0L207.6 0.0L208.7 0.0L209.9 0.0L211.1 0.0L212.2 0.0L213.4 0.0L214.6 0.0L215.7 0.0L216.9 0.0L218.1 0.0L219.2 0.0L220.4 0.0L220.4 32.0L220.4 53.2L220.4 75.5L220.4 101.0L220.4 119.0L220.4 133.0L220.4 144.5L220.4 162.5L220.4 176.5L220.4 188.0L220.4 197.6L220.4 209.8L220.4 215.1L220.4 220.0L219.2 220.0L218.1 220.0L216.9 220.0L215.7 220.0L214.6 220.0L213.4 220.0L212.2 220.0L211.1 220.0L209.9 220.0L208.7 220.0L207.6 220.0L206.4 220.0L205.2 220.0L204.1 220.0L202.9 220.0L201.7 220.0L200.6 220.0L199.4 220.0L198.2 220.0L197.1 220.0L195.9 220.0L194.7 220.0L193.6 220.0L192.4 220.0L191.2 220.0L190.1 220.0L188.9 220.0L187.7 220.0L186.6 220.0L185.4 220.0L184.2 220.0L183.1 220.0L181.9 220.0L180.8 220.0L179.6 220.0L178.4 220.0L177.3 220.0L176.1 220.0L174.9 220.0L173.8 220.0L172.6 220.0L171.4 220.0L170.3 220.0L169.1 220.0L167.9 220.0L166.8 220.0L165.6 220.0L164.4 220.0L163.3 220.0L162.1 220.0L160.9 220.0L159.8 220.0L158.6 220.0L157.4 220.0L156.3 220.0L155.1 220.0L153.9 220.0L152.8 220.0L151.6 220.0L150.4 220.0L149.3 220.0L148.1 220.0L146.9 220.0L145.8 220.0L144.6 220.0L143.4 220.0L142.3 220.0L141.1 220.0L139.9 220.0L138.8 220.0L137.6 220.0L136.4 220.0L135.3 220.0L134.1 220.0L132.9 220.0L131.8 220.0L130.6 220.0L129.4 220.0L128.3 220.0L127.1 220.0L125.9 220.0L124.8 220.0L123.6 220.0L122.4 220.0L121.3 220.0L120.1 220.0L118.9 220.0L117.8 220.0L116.6 220.0L115.4 220.0L114.3 220.0L113.1 220.0L111.9 220.0L110.8 220.0L109.6 220.0L108.5 220.0L107.3 220.0L106.1 220.0L105.0 220.0L103.8 220.0L102.6 220.0L101.5 220.0L100.3 220.0L99.1 220.0L98.0 220.0L96.8 220.0L95.6 220.0L94.5 220.0L93.3 220.0L92.1 220.0L91.0 220.0L89.8 220.0L88.6 220.0L87.5 220.0L86.3 220.0L85.1 220.0L84.0 220.0L82.8 220.0L81.6 220.0L80.5 220.0L79.3 220.0L78.1 220.0L77.0 220.0L75.8 220.0L74.6 220.0L73.5 220.0L72.3 220.0L71.1 220.0L70.0 220.0L68.8 220.0L68.3 220.0L68.8 217.5L69.1 215.1L68.8 214.7L67.6 213.5L66.5 212.5L65.3 211.8L64.1 211.3L63.0 211.1L61.8 211.2L60.6 211.6L59.5 212.0L58.3 212.4L57.1 213.0L56.0 213.6L54.8 214.4L53.8 215.1L54.8 218.5L56.0 219.6L56.5 220.0L56.0 220.0L54.8 220.0L53.6 220.0L52.5 220.0L51.3 220.0L50.1 220.0L49.0 220.0L47.8 220.0L46.6 220.0L45.5 220.0L44.3 220.0L43.1 220.0L42.0 220.0L40.8 220.0L39.6 220.0L38.5 220.0L37.3 220.0L36.2 220.0L35.0 220.0L33.8 220.0L32.7 220.0L31.6 220.0L31.5 220.0L30.3 219.4L29.2 218.8L28.0 218.3L26.8 218.0L25.7 217.8L24.5 217.8L23.3 218.2L22.2 219.1L21.1 220.0L21.0 220.0L19.8 220.0L18.7 220.0L17.5 220.0L16.3 220.0L15.2 220.0L14.0 220.0L12.8 220.0L11.7 220.0L10.5 220.0L9.3 220.0L8.2 220.0L7.0 220.0L5.8 220.0L4.7 220.0L3.5 220.0L2.3 220.0L1.2 220.0L0.0 220.0L0.0 215.1L0.0 209.8L0.0 197.6L0.0 188.0L0.0 176.5L0.0 162.5L0.0 144.5L0.0 133.0L0.0 119.0L0.0 101.0L0.0 75.5L0.0 56.6L1.2 56.6L2.3 56.5L3.5 56.4L4.7 56.3L5.8 56.1L7.0 56.1L8.2 56.2L9.3 56.2L10.5 56.3L11.7 56.3L12.8 56.3L14.0 56.2L15.2 56.0L16.3 55.4L17.5 54.5L18.6 53.2L18.7 53.0L19.8 51.0L21.0 48.2L22.2 43.8L23.3 36.4L23.8 32.0ZM174.7 101.0L173.8 107.6L172.6 116.8L172.3 119.0L171.4 124.6L170.3 133.0L170.3 133.1L169.1 136.7L167.9 139.5L166.8 142.4L166.0 144.5L165.6 148.6L164.4 157.7L163.8 162.5L163.4 176.5L164.4 186.7L164.7 188.0L165.6 189.2L166.8 190.4L167.9 191.2L169.1 191.7L170.3 192.1L171.4 192.4L172.6 192.6L173.8 192.8L174.9 193.0L176.1 193.3L177.3 193.6L178.4 193.8L179.6 194.1L180.8 194.5L181.9 194.9L183.1 195.0L184.2 195.0L185.4 194.6L186.6 193.7L187.7 191.9L188.9 189.3L189.4 188.0L190.1 187.1L191.2 185.5L192.4 183.9L193.6 182.4L194.7 180.9L195.9 179.6L197.1 178.5L198.2 177.6L199.4 176.8L200.0 176.5L200.6 176.0L201.7 175.0L202.9 173.8L204.1 172.4L205.2 171.0L206.4 169.5L207.6 167.7L208.7 165.8L209.9 163.9L210.7 162.5L211.1 157.5L212.2 147.0L212.6 144.5L212.8 133.0L212.2 131.9L211.1 130.1L209.9 128.7L208.7 127.5L207.6 126.3L206.4 125.5L205.2 125.2L204.1 125.0L202.9 124.8L201.7 124.5L200.6 124.1L199.4 123.7L198.2 122.6L197.1 120.6L196.3 119.0L195.9 117.7L194.7 112.7L193.6 107.4L192.4 102.7L192.0 101.0L191.2 94.8L190.1 89.0L188.9 86.1L187.7 84.5L186.6 83.7L185.4 83.5L184.2 83.6L183.1 83.9L181.9 84.3L180.8 84.8L179.6 85.5L178.4 86.5L177.3 88.5L176.1 92.7L174.9 99.7ZM52.5 119.0L51.3 119.3L50.1 119.9L49.0 120.9L47.8 122.6L46.6 125.6L45.5 130.1L44.9 133.0L44.3 134.8L43.1 138.1L42.0 141.4L41.0 144.5L40.8 147.1L40.0 162.5L40.8 167.8L42.0 172.9L43.1 176.5L43.1 176.8L44.3 180.3L45.5 182.6L46.6 184.4L47.8 185.9L49.0 187.4L49.4 188.0L50.1 189.3L51.3 191.2L52.5 192.6L53.6 193.7L54.8 194.6L56.0 195.4L57.1 196.1L58.3 196.8L59.5 197.3L60.1 197.6L60.6 199.5L61.8 203.1L63.0 204.5L64.1 204.1L65.3 203.3L66.5 202.3L67.6 200.1L68.3 197.6L68.8 197.2L70.0 196.0L71.1 194.1L72.3 191.1L73.2 188.0L73.5 186.8L74.6 181.4L75.6 176.5L75.8 174.8L77.0 166.4L77.6 162.5L78.1 156.7L78.8 144.5L78.1 141.5L77.0 137.4L75.8 134.4L75.1 133.0L74.6 132.5L73.5 131.2L72.3 130.0L71.1 128.9L70.0 128.0L68.8 127.1L67.6 126.3L66.5 125.6L65.3 125.0L64.1 124.4L63.0 123.8L61.8 123.2L60.6 122.6L59.5 122.1L58.3 121.5L57.1 120.8L56.0 120.1L54.8 119.7L53.6 119.2L52.5 119.0L52.5 119.0Z" fill="#BEF264" fill-rule="evenodd"/>
<path d="M28.0 18.2L28.3 0.0L29.2 0.0L30.3 0.0L31.5 0.0L32.7 0.0L33.8 0.0L35.0 0.0L36.2 0.0L37.3 0.0L38.5 0.0L39.6 0.0L40.8 0.0L42.0 0.0L43.1 0.0L44.3 0.0L45.5 0.0L46.6 0.0L47.8 0.0L49.0 0.0L50.1 0.0L51.3 0.0L52.5 0.0L53.6 0.0L54.8 0.0L56.0 0.0L57.1 0.0L58.3 0.0L59.5 0.0L60.6 0.0L61.8 0.0L63.0 0.0L64.1 0.0L65.3 0.0L66.5 0.0L67.6 0.0L68.8 0.0L70.0 0.0L71.1 0.0L72.3 0.0L73.5 0.0L74.6 0.0L75.8 0.0L77.0 0.0L78.1 0.0L79.3 0.0L80.5 0.0L81.6 0.0L82.8 0.0L84.0 0.0L85.1 0.0L86.3 0.0L87.5 0.0L88.6 0.0L89.8 0.0L91.0 0.0L92.1 0.0L93.3 0.0L94.5 0.0L95.6 0.0L96.8 0.0L98.0 0.0L99.1 0.0L100.3 0.0L101.5 0.0L102.6 0.0L103.8 0.0L105.0 0.0L106.1 0.0L107.3 0.0L108.5 0.0L109.6 0.0L110.8 0.0L111.9 0.0L113.1 0.0L114.3 0.0L115.4 0.0L116.6 0.0L117.8 0.0L118.9 0.0L120.1 0.0L121.3 0.0L122.4 0.0L123.6 0.0L124.8 0.0L125.9 0.0L127.1 0.0L128.3 0.0L129.4 0.0L130.6 0.0L131.8 0.0L132.9 0.0L133.8 0.0L134.1 2.0L135.3 8.2L136.4 13.0L137.6 17.5L138.8 21.7L139.9 25.1L141.1 28.7L142.0 32.0L142.3 32.3L143.4 32.9L144.6 32.2L144.7 32.0L145.8 20.9L146.6 0.0L146.9 0.0L148.1 0.0L149.3 0.0L150.4 0.0L151.6 0.0L152.8 0.0L153.9 0.0L155.1 0.0L156.3 0.0L157.4 0.0L158.6 0.0L159.8 0.0L160.9 0.0L162.1 0.0L163.3 0.0L164.4 0.0L165.6 0.0L166.8 0.0L167.9 0.0L169.1 0.0L170.3 0.0L171.4 0.0L172.6 0.0L173.8 0.0L174.9 0.0L176.1 0.0L177.3 0.0L178.4 0.0L179.6 0.0L180.8 0.0L181.9 0.0L183.1 0.0L184.2 0.0L185.4 0.0L186.6 0.0L187.7 0.0L188.9 0.0L190.1 0.0L191.2 0.0L192.4 0.0L193.6 0.0L194.7 0.0L195.9 0.0L197.1 0.0L198.2 0.0L199.4 0.0L200.6 0.0L201.7 0.0L202.9 0.0L204.1 0.0L205.2 0.0L206.4 0.0L206.9 0.0L206.4 2.0L205.2 6.0L204.1 9.6L202.9 12.9L201.7 16.3L200.6 20.0L199.4 23.8L198.2 28.2L197.4 32.0L197.1 34.2L195.9 40.2L194.7 44.9L193.6 49.1L192.4 52.8L192.3 53.2L191.2 58.5L190.1 62.7L188.9 65.5L187.7 67.5L186.6 69.5L185.4 71.3L184.2 73.2L183.1 75.1L182.8 75.5L181.9 76.2L180.8 76.7L179.6 77.3L178.4 77.9L177.3 79.0L176.1 80.9L174.9 84.2L173.8 90.1L172.7 101.0L172.6 101.5L171.4 110.1L170.3 119.0L170.3 119.2L169.1 127.8L168.5 133.0L167.9 134.6L166.8 137.3L165.6 140.3L164.4 143.9L164.2 144.5L163.3 151.8L162.1 160.0L161.6 162.5L160.9 172.4L160.5 176.5L160.0 188.0L160.9 196.4L161.3 197.6L162.1 199.0L163.3 200.3L164.4 200.8L165.6 200.9L166.8 201.0L167.9 201.0L169.1 201.0L170.3 200.9L171.4 200.9L172.6 200.9L173.8 200.9L174.9 201.0L176.1 201.6L177.3 202.8L178.4 204.2L179.6 206.2L180.8 208.5L181.5 209.8L180.8 212.8L179.8 215.1L180.8 216.1L181.9 217.2L183.1 218.3L184.2 219.4L185.0 220.0L184.2 220.0L183.1 220.0L181.9 220.0L180.8 220.0L179.6 220.0L178.4 220.0L177.3 220.0L176.1 220.0L174.9 220.0L173.8 220.0L172.6 220.0L171.4 220.0L170.3 220.0L169.1 220.0L167.9 220.0L166.8 220.0L165.6 220.0L164.4 220.0L163.3 220.0L162.1 220.0L160.9 220.0L159.8 220.0L158.6 220.0L157.4 220.0L156.3 220.0L155.1 220.0L153.9 220.0L152.8 220.0L151.6 220.0L150.4 220.0L149.3 220.0L148.1 220.0L146.9 220.0L145.8 220.0L144.6 220.0L143.4 220.0L142.3 220.0L141.1 220.0L139.9 220.0L138.8 220.0L137.6 220.0L136.4 220.0L135.3 220.0L134.1 220.0L132.9 220.0L131.8 220.0L130.6 220.0L129.4 220.0L128.3 220.0L127.1 220.0L125.9 220.0L124.8 220.0L123.6 220.0L122.4 220.0L121.3 220.0L120.1 220.0L118.9 220.0L117.8 220.0L116.6 220.0L115.4 220.0L114.3 220.0L113.1 220.0L111.9 220.0L110.8 220.0L109.6 220.0L108.5 220.0L107.3 220.0L106.1 220.0L105.0 220.0L103.8 220.0L102.6 220.0L101.5 220.0L100.3 220.0L99.1 220.0L98.0 220.0L96.8 220.0L95.6 220.0L94.5 220.0L93.3 220.0L92.1 220.0L91.0 220.0L89.8 220.0L88.6 220.0L87.5 220.0L86.3 220.0L85.1 220.0L84.0 220.0L82.8 220.0L81.6 220.0L80.5 220.0L79.3 220.0L78.1 220.0L77.6 220.0L77.0 215.1L77.0 215.0L75.8 212.7L74.6 210.3L74.4 209.8L74.6 207.7L75.7 197.6L75.8 197.4L77.0 193.9L78.1 189.0L78.3 188.0L79.3 183.9L80.5 178.7L80.9 176.5L81.6 173.0L82.8 166.5L83.5 162.5L82.8 154.3L82.3 144.5L81.6 141.9L80.5 137.7L79.3 133.6L79.1 133.0L78.1 131.2L77.0 129.4L75.8 128.2L74.6 127.2L73.5 126.3L72.3 125.5L71.1 124.8L70.0 124.2L68.8 123.5L67.6 122.9L66.5 122.3L65.3 121.7L64.1 121.1L63.0 120.5L61.8 119.9L60.6 119.4L60.0 119.0L59.5 118.3L58.3 116.6L57.1 114.8L56.0 113.3L54.8 112.0L53.6 110.7L52.5 109.8L51.3 109.6L50.1 109.9L49.0 110.6L47.8 112.1L46.6 114.9L45.5 119.0L45.5 119.1L44.3 122.3L43.1 129.5L42.8 133.0L42.0 135.4L40.8 138.6L39.6 142.4L39.2 144.5L38.5 158.1L38.2 162.5L38.5 165.1L39.6 173.6L40.3 176.5L40.8 180.1L42.0 184.1L43.1 186.4L44.2 188.0L44.3 188.5L45.5 192.1L46.6 194.4L47.8 196.1L49.0 197.2L49.5 197.6L50.1 199.5L51.3 203.0L52.5 207.0L53.1 209.8L52.5 210.2L51.3 210.9L50.1 211.4L49.0 211.9L47.8 212.2L46.6 212.5L45.5 212.8L44.3 213.1L43.1 213.5L42.0 213.7L40.8 213.7L39.6 213.7L38.5 213.7L37.3 213.2L36.2 212.5L35.0 211.8L33.8 211.2L32.7 210.7L31.5 210.5L30.3 210.4L29.2 210.4L28.0 210.5L26.8 210.8L25.7 211.1L24.5 211.4L23.3 211.7L22.2 212.2L21.0 212.7L19.8 213.4L18.7 214.3L17.7 215.1L17.5 215.4L16.3 216.9L15.2 219.7L15.1 220.0L14.0 220.0L12.8 220.0L11.7 220.0L10.5 220.0L9.3 220.0L8.2 220.0L7.0 220.0L5.8 220.0L4.7 220.0L3.5 220.0L2.3 220.0L1.2 220.0L0.0 220.0L0.0 215.1L0.0 209.8L0.0 197.6L0.0 188.0L0.0 176.5L0.0 162.5L0.0 144.5L0.0 133.0L0.0 119.0L0.0 101.0L0.0 75.5L0.0 67.6L1.2 67.6L2.3 67.6L3.5 67.6L4.7 67.7L5.8 67.8L7.0 68.0L8.2 68.4L9.3 68.9L10.5 69.3L11.7 69.7L12.8 70.0L14.0 70.3L15.2 70.9L16.3 71.4L17.5 71.6L18.7 71.4L19.8 71.0L21.0 70.4L22.2 69.2L23.3 66.9L24.5 63.7L25.7 59.0L26.6 53.2L26.8 50.4L27.6 32.0ZM220.4 51.0L220.4 53.2L220.4 75.5L220.4 101.0L220.4 111.2L219.2 110.4L218.1 109.6L216.9 108.8L215.7 107.9L214.6 106.7L213.4 105.5L212.2 104.6L211.1 103.6L209.9 102.8L208.7 102.2L207.6 101.6L206.4 101.0L206.4 101.0L206.4 100.8L207.6 96.8L208.7 92.1L209.9 85.9L211.1 80.3L212.2 76.3L212.5 75.5L213.4 73.6L214.6 69.9L215.7 66.0L216.9 62.6L218.1 59.1L219.2 55.2L219.8 53.2ZM216.9 175.8L218.1 174.1L219.2 172.5L220.4 171.1L220.4 176.5L220.4 188.0L220.4 197.6L220.4 209.8L220.4 215.1L220.4 220.0L219.2 220.0L218.1 220.0L216.9 220.0L215.7 220.0L214.6 220.0L213.4 220.0L212.2 220.0L211.1 220.0L209.9 220.0L208.7 220.0L207.6 220.0L206.4 220.0L205.2 220.0L204.1 220.0L202.9 220.0L201.7 220.0L200.6 220.0L199.4 220.0L198.4 220.0L199.4 218.0L200.6 215.6L200.8 215.1L200.6 213.9L199.4 210.9L198.2 210.1L197.2 209.8L197.7 197.6L198.2 197.2L199.4 196.3L200.6 195.5L201.7 194.7L202.9 193.8L204.1 192.7L205.2 191.5L206.4 190.1L207.6 188.5L208.0 188.0L208.7 187.2L209.9 185.9L211.1 184.5L212.2 182.9L213.4 181.2L214.6 179.4L215.7 177.6L216.5 176.5Z" fill="#99BE32" fill-rule="evenodd"/>
<path d="M31.5 0.0L32.7 0.0L33.8 0.0L35.0 0.0L36.2 0.0L37.3 0.0L38.5 0.0L39.6 0.0L40.8 0.0L42.0 0.0L43.1 0.0L44.3 0.0L45.5 0.0L46.6 0.0L47.8 0.0L49.0 0.0L50.1 0.0L51.3 0.0L52.5 0.0L53.6 0.0L54.8 0.0L56.0 0.0L57.1 0.0L58.3 0.0L59.5 0.0L60.6 0.0L61.8 0.0L63.0 0.0L64.1 0.0L65.3 0.0L66.5 0.0L67.6 0.0L68.8 0.0L70.0 0.0L71.1 0.0L72.3 0.0L73.5 0.0L74.6 0.0L75.8 0.0L77.0 0.0L78.1 0.0L79.3 0.0L80.5 0.0L81.6 0.0L82.8 0.0L84.0 0.0L85.1 0.0L86.3 0.0L87.5 0.0L88.6 0.0L89.8 0.0L91.0 0.0L92.1 0.0L92.5 0.0L93.3 24.4L93.6 32.0L93.3 33.1L92.1 37.2L91.0 39.0L89.8 39.2L88.6 39.4L87.5 39.5L86.3 37.2L85.3 32.0L85.1 30.8L84.0 26.0L82.8 24.4L81.6 23.4L80.5 23.3L79.3 24.2L78.1 25.6L77.0 27.1L75.8 28.4L74.6 29.8L73.5 31.4L73.0 32.0L72.3 34.1L71.1 38.4L70.0 44.6L68.8 52.7L68.7 53.2L67.6 60.9L66.7 75.5L67.6 79.4L68.8 84.7L70.0 88.5L71.1 90.4L72.3 91.7L73.5 92.1L74.6 90.4L75.8 88.0L77.0 86.7L78.1 86.1L79.3 85.4L80.5 84.8L81.6 85.2L82.8 86.4L84.0 88.2L85.1 90.8L86.3 95.2L87.4 101.0L87.5 102.1L88.6 112.3L89.5 119.0L88.6 125.0L87.5 128.5L86.3 129.5L85.1 129.7L84.0 129.5L82.8 128.9L81.6 128.0L80.5 127.0L79.3 125.8L78.1 124.3L77.0 123.2L75.8 122.5L74.6 121.9L73.5 121.4L72.3 121.0L71.1 120.7L70.0 120.3L68.8 119.9L67.6 119.5L66.6 119.0L66.5 118.8L65.3 116.7L64.1 115.2L63.0 114.0L61.8 112.8L60.6 111.5L59.5 110.2L58.3 108.7L57.1 106.9L56.0 105.3L54.8 103.7L53.6 101.9L52.8 101.0L52.5 98.2L51.3 93.0L50.1 88.7L49.0 85.6L47.8 83.5L46.6 81.3L45.5 78.6L44.5 75.5L44.3 75.4L43.1 74.3L42.0 72.8L40.8 70.7L39.6 67.9L38.5 63.9L37.3 57.6L36.8 53.2L36.2 51.3L35.0 46.6L33.8 40.2L32.8 32.0L32.7 31.2L31.5 20.6L30.5 0.0ZM166.8 12.9L167.7 0.0L167.9 0.0L169.1 0.0L170.3 0.0L171.4 0.0L172.6 0.0L173.8 0.0L174.9 0.0L176.1 0.0L177.3 0.0L178.4 0.0L179.6 0.0L180.8 0.0L181.9 0.0L183.1 0.0L184.2 0.0L185.4 0.0L186.6 0.0L187.7 0.0L188.9 0.0L190.1 0.0L191.2 0.0L192.4 0.0L193.6 0.0L194.7 0.0L195.9 0.0L197.1 0.0L198.2 0.0L198.3 0.0L198.2 0.1L197.1 5.6L195.9 11.0L194.7 16.8L193.6 23.6L192.4 31.5L192.3 32.0L191.2 36.5L190.1 41.0L188.9 45.0L187.7 48.4L186.6 51.8L186.1 53.2L185.4 54.8L184.2 57.3L183.1 59.7L181.9 61.5L180.8 62.8L179.6 63.9L178.4 64.6L177.3 65.3L176.1 66.1L174.9 67.1L173.8 68.8L172.6 71.4L171.4 75.3L171.3 75.5L170.3 90.6L170.1 101.0L169.1 107.7L168.0 119.0L167.9 119.7L166.8 130.3L166.3 133.0L165.6 134.7L164.4 137.7L163.3 141.3L162.3 144.5L162.1 145.9L160.9 152.0L159.8 157.0L158.6 161.9L158.4 162.5L157.4 168.8L156.5 176.5L156.3 178.4L155.1 185.5L154.4 188.0L153.9 190.9L152.8 196.2L152.5 197.6L151.6 202.7L150.4 205.2L149.3 204.4L148.1 201.9L147.1 197.6L147.7 188.0L146.9 183.3L146.0 176.5L146.8 162.5L146.9 161.5L148.1 154.2L149.3 148.0L149.8 144.5L150.0 133.0L149.3 130.6L148.1 126.6L146.9 122.3L146.2 119.0L145.8 115.5L144.6 106.1L143.5 101.0L144.6 96.0L145.8 86.0L146.9 78.2L147.6 75.5L148.1 70.8L149.3 63.4L150.4 58.6L151.6 55.4L152.8 53.5L153.1 53.2L153.9 52.2L155.1 51.1L156.3 50.2L157.4 49.3L158.6 48.5L159.8 47.6L160.9 46.4L162.1 44.5L163.3 41.7L164.4 38.1L165.6 33.1L165.8 32.0ZM1.2 78.0L2.3 78.1L3.5 78.2L4.7 78.3L5.8 78.5L7.0 78.8L8.2 79.2L9.3 79.7L10.5 80.2L11.7 80.5L12.8 80.8L14.0 81.2L15.2 81.6L16.3 82.2L17.5 82.5L18.7 82.6L19.8 82.8L21.0 83.0L22.2 82.9L23.3 82.7L24.5 82.4L25.7 82.2L26.8 81.9L28.0 81.6L29.2 81.5L30.3 81.5L31.5 81.6L32.7 81.6L33.8 81.7L35.0 81.9L36.2 82.2L37.3 82.7L38.5 83.2L39.6 83.6L40.8 83.9L42.0 85.1L43.0 101.0L42.0 104.6L41.1 119.0L40.8 125.0L40.5 133.0L39.6 135.3L38.5 139.7L37.5 144.5L37.3 148.2L36.2 161.8L36.1 162.5L36.2 172.5L36.2 176.5L36.2 177.2L35.0 183.4L33.8 186.9L33.3 188.0L32.7 193.1L31.5 195.6L30.3 196.4L29.2 196.8L28.0 197.0L26.8 197.0L25.7 197.0L24.5 196.9L23.3 196.8L22.2 196.6L21.0 196.5L19.8 196.6L18.7 196.7L17.5 196.9L16.3 197.4L15.9 197.6L15.2 198.2L14.0 199.3L12.8 200.3L11.7 201.2L10.5 202.1L9.3 202.8L8.2 203.4L7.0 203.9L5.8 204.3L4.7 204.6L3.5 204.8L2.3 205.0L1.2 205.2L0.0 205.4L0.0 197.6L0.0 188.0L0.0 176.5L0.0 162.5L0.0 144.5L0.0 133.0L0.0 119.0L0.0 101.0L0.0 78.0ZM125.9 97.9L127.1 93.6L128.3 90.9L129.4 89.7L130.6 89.5L131.8 89.8L132.9 90.2L134.1 91.2L135.3 92.9L136.4 94.8L137.6 97.1L138.8 100.2L139.3 101.0L138.8 102.6L137.6 111.3L136.7 119.0L136.9 133.0L137.5 144.5L137.6 145.2L138.8 154.3L139.8 162.5L138.8 166.5L137.6 170.5L136.4 173.2L135.3 174.9L134.1 176.1L133.1 176.5L132.9 176.5L132.9 176.5L131.8 175.8L130.6 174.1L129.4 172.3L128.3 170.3L127.1 167.5L125.9 164.2L125.3 162.5L124.8 158.4L123.6 149.0L123.1 144.5L123.6 139.5L124.1 133.0L124.8 119.6L124.8 119.0L125.2 101.0ZM219.2 196.7L220.4 192.8L220.4 197.6L220.4 209.8L220.4 215.1L220.4 220.0L219.2 220.0L218.1 220.0L216.9 220.0L215.7 220.0L214.6 220.0L213.4 220.0L212.2 220.0L211.1 220.0L209.9 220.0L208.7 220.0L207.6 220.0L206.4 220.0L205.2 220.0L204.8 220.0L205.2 219.2L206.4 217.5L207.6 216.0L208.3 215.1L208.7 213.5L209.9 210.7L210.4 209.8L211.1 208.6L212.2 206.8L213.4 205.0L214.6 203.3L215.7 201.7L216.9 200.2L218.1 198.7L219.0 197.6ZM100.3 215.0L101.5 215.0L102.2 215.1L102.6 215.5L103.8 217.6L105.0 219.5L105.2 220.0L105.0 220.0L103.8 220.0L102.6 220.0L101.5 220.0L100.3 220.0L99.1 220.0L98.0 220.0L96.8 220.0L95.6 220.0L95.3 220.0L95.6 219.5L96.8 217.7L98.0 216.4L99.1 215.4L99.6 215.1Z" fill="#F5E6BE" fill-rule="evenodd"/>
<path d="M33.8 0.0L35.0 0.0L36.2 0.0L37.3 0.0L38.5 0.0L39.6 0.0L40.8 0.0L42.0 0.0L43.1 0.0L44.3 0.0L45.5 0.0L46.6 0.0L47.8 0.0L49.0 0.0L50.1 0.0L51.3 0.0L52.5 0.0L53.6 0.0L54.8 0.0L56.0 0.0L57.1 0.0L58.3 0.0L59.5 0.0L60.6 0.0L61.8 0.0L63.0 0.0L64.1 0.0L64.6 0.0L64.1 2.1L63.0 8.2L61.8 14.9L60.6 21.6L59.5 27.7L58.6 32.0L58.3 33.1L57.1 36.9L56.0 39.6L54.8 41.7L53.6 43.3L52.5 44.1L51.3 44.4L50.1 44.5L49.0 44.5L47.8 44.0L46.6 42.8L45.5 41.5L44.3 40.1L43.1 38.2L42.0 36.0L40.8 33.5L40.2 32.0L39.6 30.6L38.5 27.4L37.3 23.4L36.2 18.3L35.0 12.1L33.8 3.8L33.4 0.0ZM178.4 21.6L179.3 0.0L179.6 0.0L180.8 0.0L181.9 0.0L183.1 0.0L184.2 0.0L185.4 0.0L186.6 0.0L187.7 0.0L188.9 0.0L190.1 0.0L191.2 0.0L191.3 0.0L191.2 0.1L190.1 6.0L188.9 12.2L187.7 19.3L186.6 28.1L186.0 32.0L185.4 33.1L184.2 34.7L183.1 36.5L181.9 37.8L180.8 38.3L179.6 37.6L178.4 35.0L177.7 32.0ZM1.2 87.2L2.3 87.1L3.5 87.2L4.7 87.3L5.8 87.4L7.0 87.6L8.2 88.0L9.3 88.5L10.5 89.0L11.7 89.4L12.8 89.7L14.0 90.1L15.2 90.5L16.3 91.0L17.5 91.5L18.7 91.8L19.8 92.2L21.0 92.6L22.2 92.7L23.3 92.7L24.5 92.7L25.7 92.9L26.8 93.1L28.0 93.6L29.2 94.3L30.3 95.3L31.5 96.6L32.7 98.7L33.6 101.0L33.8 101.3L35.0 102.7L36.2 104.7L37.3 108.2L38.5 114.6L38.9 119.0L38.5 127.8L38.3 133.0L37.3 138.4L36.2 144.2L36.1 144.5L35.0 155.1L33.9 162.5L33.8 162.9L32.7 171.4L31.5 174.8L30.3 176.5L30.3 176.5L29.2 178.0L28.0 179.1L26.8 179.9L25.7 180.6L24.5 180.9L23.3 181.1L22.2 181.2L21.0 181.3L19.8 181.4L18.7 181.5L17.5 181.6L16.3 181.9L15.2 182.3L14.0 182.8L12.8 183.4L11.7 184.3L10.5 185.2L9.3 186.3L8.2 187.4L7.1 188.0L7.0 188.0L5.8 188.3L4.7 188.5L3.5 188.5L2.3 188.2L2.1 188.0L1.2 187.4L0.0 186.5L0.0 176.5L0.0 162.5L0.0 144.5L0.0 133.0L0.0 119.0L0.0 101.0L0.0 87.3ZM59.5 94.8L60.6 91.8L61.8 90.4L63.0 90.4L64.1 92.7L65.3 97.1L66.2 101.0L65.3 103.0L64.1 104.4L63.0 104.6L61.8 104.1L60.6 103.1L59.5 102.1L58.5 101.0ZM77.0 100.2L78.1 99.3L79.3 98.7L80.5 98.4L81.6 99.7L82.1 101.0L81.6 109.3L80.5 114.6L79.3 111.9L78.1 107.5L77.0 103.8L76.6 101.0ZM149.3 92.6L150.4 86.9L151.6 83.1L152.8 80.1L153.9 78.3L155.1 77.0L156.3 76.1L157.4 75.7L158.6 76.0L159.8 76.6L160.9 77.3L162.1 78.3L163.3 80.1L164.4 82.6L165.6 86.6L166.8 95.2L167.2 101.0L166.8 108.0L166.3 119.0L165.6 124.2L164.4 130.4L163.9 133.0L163.3 134.8L162.1 138.4L160.9 141.1L159.8 142.9L158.6 144.5L158.6 144.5L157.4 146.2L156.3 144.6L156.2 144.5L155.1 142.6L153.9 139.2L152.9 133.0L152.8 132.5L151.6 125.5L150.5 119.0L150.4 118.3L149.3 110.3L148.2 101.0ZM218.1 213.9L219.2 212.5L220.4 211.3L220.4 215.1L220.4 220.0L219.2 220.0L218.1 220.0L216.9 220.0L215.7 220.0L214.6 220.0L213.4 220.0L212.2 220.0L213.4 218.8L214.6 217.6L215.7 216.5L216.9 215.3L217.1 215.1Z" fill="#DEB887" fill-rule="evenodd"/>
<path d="M38.5 0.0L39.6 0.0L40.8 0.0L42.0 0.0L43.1 0.0L44.3 0.0L45.5 0.0L46.6 0.0L47.8 0.0L49.0 0.0L50.1 0.0L51.3 0.0L52.5 0.0L53.6 0.0L54.8 0.0L54.9 0.0L54.8 0.7L53.6 6.3L52.5 10.4L51.3 13.2L50.1 15.3L49.0 16.4L47.8 16.6L46.6 16.3L45.5 15.7L44.3 14.6L43.1 13.0L42.0 11.2L40.8 8.8L39.6 5.6L38.5 1.8L38.0 0.0ZM1.2 96.3L2.3 96.2L3.5 96.2L4.7 96.2L5.8 96.3L7.0 96.5L8.2 96.8L9.3 97.3L10.5 97.8L11.7 98.2L12.8 98.6L14.0 99.0L15.2 99.4L16.3 99.9L17.5 100.4L18.6 101.0L18.7 101.0L19.8 101.4L21.0 101.7L22.2 101.9L23.3 102.0L24.5 102.2L25.7 102.4L26.8 102.8L28.0 103.2L29.2 103.7L30.3 104.5L31.5 105.4L32.7 106.7L33.8 108.5L35.0 111.0L36.2 114.8L37.0 119.0L37.1 133.0L36.2 138.1L35.0 143.0L34.6 144.5L33.8 151.1L32.7 158.0L31.5 162.2L31.3 162.5L30.3 165.4L29.2 167.5L28.0 168.8L26.8 169.6L25.7 170.2L24.5 170.6L23.3 170.9L22.2 171.1L21.0 171.3L19.8 171.5L18.7 171.7L17.5 171.9L16.3 172.1L15.2 172.4L14.0 172.7L12.8 173.2L11.7 173.9L10.5 174.5L9.3 175.3L8.2 176.1L7.0 176.5L7.0 176.5L5.8 176.6L4.7 176.7L3.5 176.7L2.3 176.5L2.3 176.5L1.2 176.1L0.0 175.6L0.0 162.5L0.0 144.5L0.0 133.0L0.0 119.0L0.0 101.0L0.0 96.5ZM151.6 96.6L152.8 92.0L153.9 89.0L155.1 87.0L156.3 85.5L157.4 85.0L158.6 85.2L159.8 86.0L160.9 86.9L162.1 88.7L163.3 92.1L164.4 97.2L165.0 101.0L164.6 119.0L164.4 120.0L163.3 126.3L162.1 131.3L161.4 133.0L160.9 134.0L159.8 135.6L158.6 136.8L157.4 137.3L156.3 136.0L155.3 133.0L155.1 132.1L153.9 127.1L152.8 120.9L152.5 119.0L151.6 107.9L150.8 101.0Z" fill="#FFE100" fill-rule="evenodd"/>
<path d="M153.9 99.8L155.1 97.1L156.3 95.0L157.4 94.2L158.6 94.5L159.8 95.3L160.9 96.5L162.1 99.0L162.6 101.0L162.9 119.0L162.1 122.7L160.9 125.8L159.8 127.3L158.6 128.4L157.4 128.9L156.3 127.0L155.1 122.3L154.4 119.0L153.9 106.6L153.6 101.0ZM1.2 105.0L2.3 104.8L3.5 104.8L4.7 104.7L5.8 104.7L7.0 104.8L8.2 105.0L9.3 105.5L10.5 105.8L11.7 106.1L12.8 106.3L14.0 106.5L15.2 106.8L16.3 107.0L17.5 107.3L18.7 107.6L19.8 107.8L21.0 108.0L22.2 108.1L23.3 108.1L24.5 108.2L25.7 108.4L26.8 108.7L28.0 109.0L29.2 109.6L30.3 110.5L31.5 111.6L32.7 113.2L33.8 115.7L34.9 119.0L35.0 119.6L35.9 133.0L35.0 137.1L33.8 141.6L33.2 144.5L32.7 148.1L31.5 153.0L30.3 155.9L29.2 158.0L28.0 159.5L26.8 160.5L25.7 161.3L24.5 162.0L23.4 162.5L23.3 162.6L22.2 163.0L21.0 163.4L19.8 163.7L18.7 164.0L17.5 164.3L16.3 164.6L15.2 165.0L14.0 165.4L12.8 165.9L11.7 166.6L10.5 167.2L9.3 167.9L8.2 168.6L7.0 169.0L5.8 168.9L4.7 168.8L3.5 168.6L2.3 168.2L1.2 167.6L0.0 166.8L0.0 162.5L0.0 144.5L0.0 133.0L0.0 119.0L0.0 105.2Z" fill="#FFA500" fill-rule="evenodd"/>
<path d="M1.2 113.3L2.3 113.0L3.5 112.9L4.7 112.7L5.8 112.5L7.0 112.5L8.2 112.7L9.3 113.1L10.5 113.4L11.7 113.5L12.8 113.6L14.0 113.7L15.2 113.8L16.3 113.9L17.5 114.0L18.7 114.1L19.8 114.2L21.0 114.3L22.2 114.3L23.3 114.2L24.5 114.3L25.7 114.4L26.8 114.6L28.0 114.9L29.2 115.4L30.3 116.4L31.5 117.8L32.2 119.0L32.7 120.8L33.8 128.1L34.4 133.0L33.8 135.0L32.7 139.4L31.5 143.7L31.2 144.5L30.3 146.9L29.2 149.2L28.0 150.6L26.8 151.4L25.7 152.0L24.5 152.5L23.3 152.9L22.2 153.2L21.0 153.5L19.8 153.8L18.7 154.1L17.5 154.4L16.3 154.7L15.2 154.9L14.0 155.3L12.8 155.8L11.7 156.4L10.5 157.1L9.3 158.1L8.2 159.3L7.0 159.8L5.8 159.5L4.7 158.8L3.5 158.0L2.3 157.2L1.2 156.2L0.0 155.3L0.0 144.5L0.0 133.0L0.0 119.0L0.0 113.5ZM157.4 114.9L158.6 116.8L159.1 119.0L158.6 119.4L157.4 119.7L157.0 119.0Z" fill="#FF4500" fill-rule="evenodd"/>
<path d="M5.8 130.3L7.0 128.3L8.2 129.0L9.3 130.1L10.5 131.1L11.6 133.0L10.5 135.4L9.3 136.1L8.2 136.5L7.0 136.6L5.8 135.0L5.2 133.0ZM31.5 132.8L31.6 133.0L31.5 133.2L30.8 133.0Z" fill="#B22222" fill-rule="evenodd"/>
<path d="M221 198.4H217.0V206.6H214.4V214.1H210.7V221H221Z" fill="#fff"/>
<rect x="0" y="0" width="220.4" height="220.2" fill="none" stroke="#000" stroke-width="1.5"/>
<path d="M-6.3 0.00H0M-6.3 32.05H0M-6.3 53.16H0M-6.3 75.54H0M-6.3 100.98H0M-6.3 119.02H0M-6.3 133.02H0M-6.3 144.46H0M-6.3 162.51H0M-6.3 176.51H0M-6.3 197.62H0M-6.3 209.80H0M-6.3 220.00H0M220.4 38.30h6.2M220.4 77.80h6.2M220.4 117.20h6.2M220.4 155.80h6.2M220.4 190.00h6.2M35.05 220.2v6.5M35.05 0v-6.5M72.65 220.2v6.5M72.65 0v-6.5M110.25 220.2v6.5M110.25 0v-6.5M147.85 220.2v6.5M147.85 0v-6.5M185.45 220.2v6.5M185.45 0v-6.5" stroke="#000" stroke-width="1.4" fill="none"/>
<path d="M9.99 220.2v3.2M9.99 0v-3.2M22.52 220.2v3.2M22.52 0v-3.2M47.58 220.2v3.2M47.58 0v-3.2M60.12 220.2v3.2M60.12 0v-3.2M85.18 220.2v3.2M85.18 0v-3.2M97.72 220.2v3.2M97.72 0v-3.2M122.78 220.2v3.2M122.78 0v-3.2M135.32 220.2v3.2M135.32 0v-3.2M160.38 220.2v3.2M160.38 0v-3.2M172.92 220.2v3.2M172.92 0v-3.2M197.98 220.2v3.2M197.98 0v-3.2M210.51 220.2v3.2M210.51 0v-3.2" stroke="#333" stroke-width="0.95" fill="none"/>
<text x="-10.90" y="3.40" font-size="9.6" text-anchor="end" font-family='"Liberation Sans", sans-serif' fill="#333" stroke="#222" stroke-width="0.35" xml:space="preserve">30</text>
<text x="-10.90" y="35.45" font-size="9.6" text-anchor="end" font-family='"Liberation Sans", sans-serif' fill="#333" stroke="#222" stroke-width="0.35" xml:space="preserve">50</text>
<text x="-10.90" y="56.56" font-size="9.6" text-anchor="end" font-family='"Liberation Sans", sans-serif' fill="#333" stroke="#222" stroke-width="0.35" xml:space="preserve">70</text>
<text x="-10.90" y="78.94" font-size="9.6" text-anchor="end" font-family='"Liberation Sans", sans-serif' fill="#333" stroke="#222" stroke-width="0.35" xml:space="preserve">100</text>
<text x="-10.90" y="104.38" font-size="9.6" text-anchor="end" font-family='"Liberation Sans", sans-serif' fill="#333" stroke="#222" stroke-width="0.35" xml:space="preserve">150</text>
<text x="-10.90" y="122.42" font-size="9.6" text-anchor="end" font-family='"Liberation Sans", sans-serif' fill="#333" stroke="#222" stroke-width="0.35" xml:space="preserve">200</text>
<text x="-10.90" y="136.42" font-size="9.6" text-anchor="end" font-family='"Liberation Sans", sans-serif' fill="#333" stroke="#222" stroke-width="0.35" xml:space="preserve">250</text>
<text x="-10.90" y="147.86" font-size="9.6" text-anchor="end" font-family='"Liberation Sans", sans-serif' fill="#333" stroke="#222" stroke-width="0.35" xml:space="preserve">300</text>
<text x="-10.90" y="165.91" font-size="9.6" text-anchor="end" font-family='"Liberation Sans", sans-serif' fill="#333" stroke="#222" stroke-width="0.35" xml:space="preserve">400</text>
<text x="-10.90" y="179.91" font-size="9.6" text-anchor="end" font-family='"Liberation Sans", sans-serif' fill="#333" stroke="#222" stroke-width="0.35" xml:space="preserve">500</text>
<text x="-10.90" y="201.02" font-size="9.6" text-anchor="end" font-family='"Liberation Sans", sans-serif' fill="#333" stroke="#222" stroke-width="0.35" xml:space="preserve">700</text>
<text x="-10.90" y="213.20" font-size="9.6" text-anchor="end" font-family='"Liberation Sans", sans-serif' fill="#333" stroke="#222" stroke-width="0.35" xml:space="preserve">850</text>
<text x="-10.90" y="223.40" font-size="9.6" text-anchor="end" font-family='"Liberation Sans", sans-serif' fill="#333" stroke="#222" stroke-width="0.35" xml:space="preserve">1000</text>
<text x="231.20" y="41.70" font-size="9.6" text-anchor="start" font-family='"Liberation Sans", sans-serif' fill="#333" stroke="#222" stroke-width="0.35" xml:space="preserve">20</text>
<text x="231.20" y="81.20" font-size="9.6" text-anchor="start" font-family='"Liberation Sans", sans-serif' fill="#333" stroke="#222" stroke-width="0.35" xml:space="preserve">16</text>
<text x="231.20" y="120.60" font-size="9.6" text-anchor="start" font-family='"Liberation Sans", sans-serif' fill="#333" stroke="#222" stroke-width="0.35" xml:space="preserve">12</text>
<text x="231.20" y="159.20" font-size="9.6" text-anchor="start" font-family='"Liberation Sans", sans-serif' fill="#333" stroke="#222" stroke-width="0.35" xml:space="preserve">8</text>
<text x="231.20" y="193.40" font-size="9.6" text-anchor="start" font-family='"Liberation Sans", sans-serif' fill="#333" stroke="#222" stroke-width="0.35" xml:space="preserve">4</text>
<text x="35.05" y="238.30" font-size="9.4" text-anchor="middle" font-family='"Liberation Sans", sans-serif' fill="#333" stroke="#222" stroke-width="0.35" xml:space="preserve">60N</text>
<text x="72.65" y="238.30" font-size="9.4" text-anchor="middle" font-family='"Liberation Sans", sans-serif' fill="#333" stroke="#222" stroke-width="0.35" xml:space="preserve">30N</text>
<text x="110.25" y="238.30" font-size="9.4" text-anchor="middle" font-family='"Liberation Sans", sans-serif' fill="#333" stroke="#222" stroke-width="0.35" xml:space="preserve">0</text>
<text x="147.85" y="238.30" font-size="9.4" text-anchor="middle" font-family='"Liberation Sans", sans-serif' fill="#333" stroke="#222" stroke-width="0.35" xml:space="preserve">30S</text>
<text x="185.45" y="238.30" font-size="9.4" text-anchor="middle" font-family='"Liberation Sans", sans-serif' fill="#333" stroke="#222" stroke-width="0.35" xml:space="preserve">60S</text>
<text y="0.00" font-size="15" font-family='"Liberation Serif", serif' fill="#333" transform="translate(-41.4 163.9) rotate(-90)"><tspan x="0.00" textLength="65.00" lengthAdjust="spacingAndGlyphs">Pressure</tspan> <tspan x="71.80" textLength="35.60" lengthAdjust="spacingAndGlyphs">(mb)</tspan></text>
<text y="0.00" font-size="15" font-family='"Liberation Serif", serif' fill="#333" transform="translate(260.0 154.9) rotate(-90)"><tspan x="0.00" textLength="46.20" lengthAdjust="spacingAndGlyphs">Height</tspan> <tspan x="51.00" textLength="37.80" lengthAdjust="spacingAndGlyphs">(km)</tspan></text>
<text y="-9.60" font-size="14.2" font-family='"Liberation Serif", serif' fill="#333"><tspan x="-0.40" textLength="66.90" lengthAdjust="spacingAndGlyphs">Transient</tspan> <tspan x="71.30" textLength="31.50" lengthAdjust="spacingAndGlyphs">eddy</tspan> <tspan x="110.30" textLength="13.70" lengthAdjust="spacingAndGlyphs">KE</tspan></text>
<text y="-9.60" font-size="14.2" font-family='"Liberation Serif", serif' fill="#333"><tspan x="67.80" textLength="20.00" lengthAdjust="spacingAndGlyphs">m~</tspan><tspan x="89.30" textLength="16.50" lengthAdjust="spacingAndGlyphs">S~</tspan><tspan x="107.30" textLength="15.50" lengthAdjust="spacingAndGlyphs">2~</tspan><tspan x="124.00" textLength="18.20" lengthAdjust="spacingAndGlyphs">N~</tspan><tspan x="143.50" textLength="6.60" lengthAdjust="spacingAndGlyphs">/</tspan><tspan x="151.60" textLength="15.50" lengthAdjust="spacingAndGlyphs">s~</tspan><tspan x="168.00" textLength="17.00" lengthAdjust="spacingAndGlyphs">S~</tspan><tspan x="185.90" textLength="16.90" lengthAdjust="spacingAndGlyphs">2~</tspan><tspan x="203.80" textLength="17.00" lengthAdjust="spacingAndGlyphs">N~</tspan></text>
<text y="-29.50" font-size="15.8" font-family='"Liberation Serif", serif' fill="#333"><tspan x="32.80" textLength="73.30" lengthAdjust="spacingAndGlyphs">b01.01ibis</tspan> <tspan x="114.60" textLength="9.60" lengthAdjust="spacingAndGlyphs">-</tspan> <tspan x="133.00" textLength="55.30" lengthAdjust="spacingAndGlyphs">b30.004</tspan></text>
</g>
<text y="321.00" font-size="12.3" font-family='"Liberation Serif", serif' fill="#333"><tspan x="79.60" textLength="19.30" lengthAdjust="spacingAndGlyphs">MIN</tspan> <tspan x="106.00" textLength="7.00" lengthAdjust="spacingAndGlyphs">=</tspan> <tspan x="131.20" textLength="24.20" lengthAdjust="spacingAndGlyphs">4.02</tspan> <tspan x="167.50" textLength="21.70" lengthAdjust="spacingAndGlyphs">MAX</tspan> <tspan x="196.30" textLength="6.70" lengthAdjust="spacingAndGlyphs">=</tspan> <tspan x="209.60" textLength="38.80" lengthAdjust="spacingAndGlyphs">282.38</tspan></text>
<text y="321.00" font-size="12.3" font-family='"Liberation Serif", serif' fill="#333"><tspan x="400.70" textLength="19.30" lengthAdjust="spacingAndGlyphs">MIN</tspan> <tspan x="427.10" textLength="7.00" lengthAdjust="spacingAndGlyphs">=</tspan> <tspan x="452.30" textLength="24.20" lengthAdjust="spacingAndGlyphs">5.02</tspan> <tspan x="488.60" textLength="21.70" lengthAdjust="spacingAndGlyphs">MAX</tspan> <tspan x="517.40" textLength="6.70" lengthAdjust="spacingAndGlyphs">=</tspan> <tspan x="530.70" textLength="38.80" lengthAdjust="spacingAndGlyphs">305.45</tspan></text>
<text y="445.80" font-size="12.3" font-family='"Liberation Serif", serif' fill="#333"><tspan x="463.80" textLength="20.00" lengthAdjust="spacingAndGlyphs">MIN</tspan> <tspan x="491.00" textLength="6.60" lengthAdjust="spacingAndGlyphs">=</tspan> <tspan x="505.80" textLength="7.60" lengthAdjust="spacingAndGlyphs">-</tspan><tspan x="515.60" textLength="28.90" lengthAdjust="spacingAndGlyphs">50.98</tspan> <tspan x="556.30" textLength="22.90" lengthAdjust="spacingAndGlyphs">MAX</tspan> <tspan x="586.50" textLength="6.50" lengthAdjust="spacingAndGlyphs">=</tspan> <tspan x="605.00" textLength="30.60" lengthAdjust="spacingAndGlyphs">31.16</tspan></text>
<rect x="56.00" y="331.3" width="13.41" height="20.1" fill="#9370DB" stroke="#222" stroke-width="0.6"/>
<rect x="69.41" y="331.3" width="13.41" height="20.1" fill="#0000CD" stroke="#222" stroke-width="0.6"/>
<rect x="82.81" y="331.3" width="13.41" height="20.1" fill="#4169E1" stroke="#222" stroke-width="0.6"/>
<rect x="96.22" y="331.3" width="13.41" height="20.1" fill="#7B9DF0" stroke="#222" stroke-width="0.6"/>
<rect x="109.62" y="331.3" width="13.41" height="20.1" fill="#B0E0E6" stroke="#222" stroke-width="0.6"/>
<rect x="123.03" y="331.3" width="13.41" height="20.1" fill="#20B2AA" stroke="#222" stroke-width="0.6"/>
<rect x="136.44" y="331.3" width="13.41" height="20.1" fill="#BEF264" stroke="#222" stroke-width="0.6"/>
<rect x="149.84" y="331.3" width="13.41" height="20.1" fill="#99BE32" stroke="#222" stroke-width="0.6"/>
<rect x="163.25" y="331.3" width="13.41" height="20.1" fill="#F5E6BE" stroke="#222" stroke-width="0.6"/>
<rect x="176.66" y="331.3" width="13.41" height="20.1" fill="#DEB887" stroke="#222" stroke-width="0.6"/>
<rect x="190.06" y="331.3" width="13.41" height="20.1" fill="#FFE100" stroke="#222" stroke-width="0.6"/>
<rect x="203.47" y="331.3" width="13.41" height="20.1" fill="#FFA500" stroke="#222" stroke-width="0.6"/>
<rect x="216.88" y="331.3" width="13.41" height="20.1" fill="#FF4500" stroke="#222" stroke-width="0.6"/>
<rect x="230.28" y="331.3" width="13.41" height="20.1" fill="#B22222" stroke="#222" stroke-width="0.6"/>
<rect x="243.69" y="331.3" width="13.41" height="20.1" fill="#FFB6C1" stroke="#222" stroke-width="0.6"/>
<rect x="257.09" y="331.3" width="13.41" height="20.1" fill="#FF1493" stroke="#222" stroke-width="0.6"/>
<text x="69.41" y="363.70" font-size="9.7" text-anchor="middle" font-family='"Liberation Sans", sans-serif' fill="#111" textLength="11.20" lengthAdjust="spacingAndGlyphs" xml:space="preserve">10</text>
<text x="96.22" y="363.70" font-size="9.7" text-anchor="middle" font-family='"Liberation Sans", sans-serif' fill="#111" textLength="11.20" lengthAdjust="spacingAndGlyphs" xml:space="preserve">50</text>
<text x="123.03" y="363.70" font-size="9.7" text-anchor="middle" font-family='"Liberation Sans", sans-serif' fill="#111" textLength="11.20" lengthAdjust="spacingAndGlyphs" xml:space="preserve">90</text>
<text x="149.84" y="363.70" font-size="9.7" text-anchor="middle" font-family='"Liberation Sans", sans-serif' fill="#111" textLength="17.00" lengthAdjust="spacingAndGlyphs" xml:space="preserve">130</text>
<text x="176.66" y="363.70" font-size="9.7" text-anchor="middle" font-family='"Liberation Sans", sans-serif' fill="#111" textLength="17.00" lengthAdjust="spacingAndGlyphs" xml:space="preserve">170</text>
<text x="203.47" y="363.70" font-size="9.7" text-anchor="middle" font-family='"Liberation Sans", sans-serif' fill="#111" textLength="17.00" lengthAdjust="spacingAndGlyphs" xml:space="preserve">210</text>
<text x="230.28" y="363.70" font-size="9.7" text-anchor="middle" font-family='"Liberation Sans", sans-serif' fill="#111" textLength="17.00" lengthAdjust="spacingAndGlyphs" xml:space="preserve">250</text>
<text x="257.09" y="363.70" font-size="9.7" text-anchor="middle" font-family='"Liberation Sans", sans-serif' fill="#111" textLength="17.00" lengthAdjust="spacingAndGlyphs" xml:space="preserve">290</text>
<rect x="377.10" y="331.3" width="13.41" height="20.1" fill="#9370DB" stroke="#222" stroke-width="0.6"/>
<rect x="390.51" y="331.3" width="13.41" height="20.1" fill="#0000CD" stroke="#222" stroke-width="0.6"/>
<rect x="403.91" y="331.3" width="13.41" height="20.1" fill="#4169E1" stroke="#222" stroke-width="0.6"/>
<rect x="417.32" y="331.3" width="13.41" height="20.1" fill="#7B9DF0" stroke="#222" stroke-width="0.6"/>
<rect x="430.73" y="331.3" width="13.41" height="20.1" fill="#B0E0E6" stroke="#222" stroke-width="0.6"/>
<rect x="444.13" y="331.3" width="13.41" height="20.1" fill="#20B2AA" stroke="#222" stroke-width="0.6"/>
<rect x="457.54" y="331.3" width="13.41" height="20.1" fill="#BEF264" stroke="#222" stroke-width="0.6"/>
<rect x="470.94" y="331.3" width="13.41" height="20.1" fill="#99BE32" stroke="#222" stroke-width="0.6"/>
<rect x="484.35" y="331.3" width="13.41" height="20.1" fill="#F5E6BE" stroke="#222" stroke-width="0.6"/>
<rect x="497.76" y="331.3" width="13.41" height="20.1" fill="#DEB887" stroke="#222" stroke-width="0.6"/>
<rect x="511.16" y="331.3" width="13.41" height="20.1" fill="#FFE100" stroke="#222" stroke-width="0.6"/>
<rect x="524.57" y="331.3" width="13.41" height="20.1" fill="#FFA500" stroke="#222" stroke-width="0.6"/>
<rect x="537.98" y="331.3" width="13.41" height="20.1" fill="#FF4500" stroke="#222" stroke-width="0.6"/>
<rect x="551.38" y="331.3" width="13.41" height="20.1" fill="#B22222" stroke="#222" stroke-width="0.6"/>
<rect x="564.79" y="331.3" width="13.41" height="20.1" fill="#FFB6C1" stroke="#222" stroke-width="0.6"/>
<rect x="578.19" y="331.3" width="13.41" height="20.1" fill="#FF1493" stroke="#222" stroke-width="0.6"/>
<text x="390.51" y="363.70" font-size="9.7" text-anchor="middle" font-family='"Liberation Sans", sans-serif' fill="#111" textLength="11.20" lengthAdjust="spacingAndGlyphs" xml:space="preserve">10</text>
<text x="417.32" y="363.70" font-size="9.7" text-anchor="middle" font-family='"Liberation Sans", sans-serif' fill="#111" textLength="11.20" lengthAdjust="spacingAndGlyphs" xml:space="preserve">50</text>
<text x="444.13" y="363.70" font-size="9.7" text-anchor="middle" font-family='"Liberation Sans", sans-serif' fill="#111" textLength="11.20" lengthAdjust="spacingAndGlyphs" xml:space="preserve">90</text>
<text x="470.94" y="363.70" font-size="9.7" text-anchor="middle" font-family='"Liberation Sans", sans-serif' fill="#111" textLength="17.00" lengthAdjust="spacingAndGlyphs" xml:space="preserve">130</text>
<text x="497.76" y="363.70" font-size="9.7" text-anchor="middle" font-family='"Liberation Sans", sans-serif' fill="#111" textLength="17.00" lengthAdjust="spacingAndGlyphs" xml:space="preserve">170</text>
<text x="524.57" y="363.70" font-size="9.7" text-anchor="middle" font-family='"Liberation Sans", sans-serif' fill="#111" textLength="17.00" lengthAdjust="spacingAndGlyphs" xml:space="preserve">210</text>
<text x="551.38" y="363.70" font-size="9.7" text-anchor="middle" font-family='"Liberation Sans", sans-serif' fill="#111" textLength="17.00" lengthAdjust="spacingAndGlyphs" xml:space="preserve">250</text>
<text x="578.19" y="363.70" font-size="9.7" text-anchor="middle" font-family='"Liberation Sans", sans-serif' fill="#111" textLength="17.00" lengthAdjust="spacingAndGlyphs" xml:space="preserve">290</text>
<rect x="522.8" y="464.00" width="31.4" height="11.09" fill="#FF1493" stroke="#222" stroke-width="0.6"/>
<rect x="522.8" y="475.09" width="31.4" height="11.09" fill="#FFB6C1" stroke="#222" stroke-width="0.6"/>
<rect x="522.8" y="486.19" width="31.4" height="11.09" fill="#B22222" stroke="#222" stroke-width="0.6"/>
<rect x="522.8" y="497.28" width="31.4" height="11.09" fill="#FF4500" stroke="#222" stroke-width="0.6"/>
<rect x="522.8" y="508.38" width="31.4" height="11.09" fill="#FFA500" stroke="#222" stroke-width="0.6"/>
<rect x="522.8" y="519.47" width="31.4" height="11.09" fill="#FFE100" stroke="#222" stroke-width="0.6"/>
<rect x="522.8" y="530.56" width="31.4" height="11.09" fill="#DEB887" stroke="#222" stroke-width="0.6"/>
<rect x="522.8" y="541.66" width="31.4" height="11.09" fill="#F5E6BE" stroke="#222" stroke-width="0.6"/>
<rect x="522.8" y="552.75" width="31.4" height="11.09" fill="#99BE32" stroke="#222" stroke-width="0.6"/>
<rect x="522.8" y="563.84" width="31.4" height="11.09" fill="#BEF264" stroke="#222" stroke-width="0.6"/>
<rect x="522.8" y="574.94" width="31.4" height="11.09" fill="#20B2AA" stroke="#222" stroke-width="0.6"/>
<rect x="522.8" y="586.03" width="31.4" height="11.09" fill="#B0E0E6" stroke="#222" stroke-width="0.6"/>
<rect x="522.8" y="597.12" width="31.4" height="11.09" fill="#7B9DF0" stroke="#222" stroke-width="0.6"/>
<rect x="522.8" y="608.22" width="31.4" height="11.09" fill="#4169E1" stroke="#222" stroke-width="0.6"/>
<rect x="522.8" y="619.31" width="31.4" height="11.09" fill="#0000CD" stroke="#222" stroke-width="0.6"/>
<rect x="522.8" y="630.41" width="31.4" height="11.09" fill="#9370DB" stroke="#222" stroke-width="0.6"/>
<text x="567.40" y="478.49" font-size="9.7" text-anchor="middle" font-family='"Liberation Sans", sans-serif' fill="#111" textLength="11.20" lengthAdjust="spacingAndGlyphs" xml:space="preserve">50</text>
<text x="567.40" y="489.59" font-size="9.7" text-anchor="middle" font-family='"Liberation Sans", sans-serif' fill="#111" textLength="11.20" lengthAdjust="spacingAndGlyphs" xml:space="preserve">40</text>
<text x="567.40" y="500.68" font-size="9.7" text-anchor="middle" font-family='"Liberation Sans", sans-serif' fill="#111" textLength="11.20" lengthAdjust="spacingAndGlyphs" xml:space="preserve">30</text>
<text x="567.40" y="511.77" font-size="9.7" text-anchor="middle" font-family='"Liberation Sans", sans-serif' fill="#111" textLength="11.20" lengthAdjust="spacingAndGlyphs" xml:space="preserve">20</text>
<text x="567.40" y="522.87" font-size="9.7" text-anchor="middle" font-family='"Liberation Sans", sans-serif' fill="#111" textLength="11.20" lengthAdjust="spacingAndGlyphs" xml:space="preserve">15</text>
<text x="567.40" y="533.96" font-size="9.7" text-anchor="middle" font-family='"Liberation Sans", sans-serif' fill="#111" textLength="11.20" lengthAdjust="spacingAndGlyphs" xml:space="preserve">10</text>
<text x="567.40" y="545.06" font-size="9.7" text-anchor="middle" font-family='"Liberation Sans", sans-serif' fill="#111" textLength="5.40" lengthAdjust="spacingAndGlyphs" xml:space="preserve">5</text>
<text x="567.40" y="556.15" font-size="9.7" text-anchor="middle" font-family='"Liberation Sans", sans-serif' fill="#111" textLength="5.40" lengthAdjust="spacingAndGlyphs" xml:space="preserve">0</text>
<text x="567.40" y="567.24" font-size="9.7" text-anchor="middle" font-family='"Liberation Sans", sans-serif' fill="#111" textLength="12.20" lengthAdjust="spacingAndGlyphs" xml:space="preserve">-5</text>
<text x="567.40" y="578.34" font-size="9.7" text-anchor="middle" font-family='"Liberation Sans", sans-serif' fill="#111" textLength="18.00" lengthAdjust="spacingAndGlyphs" xml:space="preserve">-10</text>
<text x="567.40" y="589.43" font-size="9.7" text-anchor="middle" font-family='"Liberation Sans", sans-serif' fill="#111" textLength="18.00" lengthAdjust="spacingAndGlyphs" xml:space="preserve">-15</text>
<text x="567.40" y="600.52" font-size="9.7" text-anchor="middle" font-family='"Liberation Sans", sans-serif' fill="#111" textLength="18.00" lengthAdjust="spacingAndGlyphs" xml:space="preserve">-20</text>
<text x="567.40" y="611.62" font-size="9.7" text-anchor="middle" font-family='"Liberation Sans", sans-serif' fill="#111" textLength="18.00" lengthAdjust="spacingAndGlyphs" xml:space="preserve">-30</text>
<text x="567.40" y="622.71" font-size="9.7" text-anchor="middle" font-family='"Liberation Sans", sans-serif' fill="#111" textLength="18.00" lengthAdjust="spacingAndGlyphs" xml:space="preserve">-40</text>
<text x="567.40" y="633.81" font-size="9.7" text-anchor="middle" font-family='"Liberation Sans", sans-serif' fill="#111" textLength="18.00" lengthAdjust="spacingAndGlyphs" xml:space="preserve">-50</text>
</svg></body></html>
